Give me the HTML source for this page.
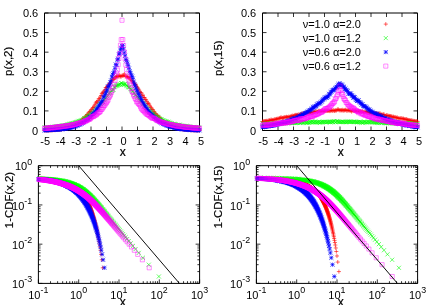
<!DOCTYPE html>
<html><head><meta charset="utf-8"><title>plot</title><style>html,body{margin:0;padding:0;background:#fff;overflow:hidden}body{width:436px;height:305px;position:relative;font-family:"Liberation Sans",sans-serif}</style></head><body>
<svg width="436" height="305" viewBox="0 0 436 305" style="display:block;position:absolute;left:0;top:0;will-change:transform" font-family="Liberation Sans, sans-serif" font-size="11" fill="#000">
<rect width="436" height="305" fill="#fff"/>
<path d="M44.5 13.0H199.5V130.5H44.5Z" stroke="#000" stroke-width="1.0" fill="none"/>
<path d="M44.50 130.5v-4.0M44.50 13.0v4.0M60.00 130.5v-4.0M60.00 13.0v4.0M75.50 130.5v-4.0M75.50 13.0v4.0M91.00 130.5v-4.0M91.00 13.0v4.0M106.50 130.5v-4.0M106.50 13.0v4.0M122.00 130.5v-4.0M122.00 13.0v4.0M137.50 130.5v-4.0M137.50 13.0v4.0M153.00 130.5v-4.0M153.00 13.0v4.0M168.50 130.5v-4.0M168.50 13.0v4.0M184.00 130.5v-4.0M184.00 13.0v4.0M199.50 130.5v-4.0M199.50 13.0v4.0M44.5 130.50h4.0M199.5 130.50h-4.0M44.5 110.92h4.0M199.5 110.92h-4.0M44.5 91.33h4.0M199.5 91.33h-4.0M44.5 71.75h4.0M199.5 71.75h-4.0M44.5 52.17h4.0M199.5 52.17h-4.0M44.5 32.58h4.0M199.5 32.58h-4.0M44.5 13.00h4.0M199.5 13.00h-4.0" stroke="#000" stroke-width="0.8" fill="none"/>
<path d="M42.45 130.39H46.55M44.50 128.34V132.44M43.23 130.38H47.32M45.27 128.33V132.43M44.00 130.38H48.10M46.05 128.33V132.43M44.78 130.37H48.88M46.83 128.32V132.42M45.55 130.34H49.65M47.60 128.29V132.39M46.33 130.34H50.42M48.38 128.29V132.39M47.10 130.29H51.20M49.15 128.24V132.34M47.88 130.18H51.97M49.92 128.13V132.23M48.65 130.25H52.75M50.70 128.20V132.30M49.43 130.21H53.52M51.48 128.16V132.26M50.20 130.13H54.30M52.25 128.08V132.18M50.98 130.09H55.07M53.02 128.04V132.14M51.75 130.07H55.85M53.80 128.02V132.12M52.53 130.07H56.62M54.58 128.02V132.12M53.30 129.94H57.40M55.35 127.89V131.99M54.08 129.86H58.17M56.12 127.81V131.91M54.85 129.92H58.95M56.90 127.87V131.97M55.62 129.77H59.72M57.67 127.72V131.82M56.40 129.82H60.50M58.45 127.77V131.87M57.18 129.68H61.27M59.23 127.63V131.73M57.95 129.64H62.05M60.00 127.59V131.69M58.73 129.39H62.82M60.77 127.34V131.44M59.50 129.39H63.60M61.55 127.34V131.44M60.28 129.12H64.38M62.33 127.07V131.17M61.05 128.98H65.15M63.10 126.93V131.03M61.83 128.84H65.92M63.88 126.79V130.89M62.60 129.00H66.70M64.65 126.95V131.05M63.38 128.56H67.47M65.42 126.51V130.61M64.15 128.35H68.25M66.20 126.30V130.40M64.92 128.13H69.02M66.97 126.08V130.18M65.70 128.17H69.80M67.75 126.12V130.22M66.47 127.75H70.57M68.52 125.70V129.80M67.25 127.59H71.35M69.30 125.54V129.64M68.02 127.26H72.12M70.07 125.21V129.31M68.80 126.66H72.90M70.85 124.61V128.71M69.58 126.67H73.67M71.62 124.62V128.72M70.35 126.22H74.45M72.40 124.17V128.27M71.12 125.74H75.22M73.17 123.69V127.79M71.90 125.61H76.00M73.95 123.56V127.66M72.67 125.13H76.77M74.72 123.08V127.18M73.45 124.67H77.55M75.50 122.62V126.72M74.23 124.20H78.33M76.28 122.15V126.25M75.00 124.03H79.10M77.05 121.98V126.08M75.78 123.17H79.88M77.83 121.12V125.22M76.55 122.36H80.65M78.60 120.31V124.41M77.33 122.48H81.42M79.38 120.43V124.53M78.10 121.31H82.20M80.15 119.26V123.36M78.88 120.85H82.98M80.93 118.80V122.90M79.65 120.43H83.75M81.70 118.38V122.48M80.42 119.03H84.52M82.47 116.98V121.08M81.20 118.70H85.30M83.25 116.65V120.75M81.98 118.59H86.08M84.03 116.54V120.64M82.75 117.44H86.85M84.80 115.39V119.49M83.53 116.38H87.62M85.58 114.33V118.43M84.30 115.86H88.40M86.35 113.81V117.91M85.08 114.52H89.17M87.12 112.47V116.57M85.85 114.08H89.95M87.90 112.03V116.13M86.63 112.81H90.73M88.68 110.76V114.86M87.40 111.72H91.50M89.45 109.67V113.77M88.18 111.39H92.28M90.23 109.34V113.44M88.95 110.11H93.05M91.00 108.06V112.16M89.73 109.40H93.83M91.78 107.35V111.45M90.50 108.12H94.60M92.55 106.07V110.17M91.28 107.44H95.38M93.33 105.39V109.49M92.05 106.08H96.15M94.10 104.03V108.13M92.83 104.87H96.92M94.88 102.82V106.92M93.60 103.07H97.70M95.65 101.02V105.12M94.38 101.97H98.48M96.43 99.92V104.02M95.15 102.09H99.25M97.20 100.04V104.14M95.92 100.68H100.02M97.97 98.63V102.73M96.70 98.77H100.80M98.75 96.72V100.82M97.48 98.85H101.58M99.53 96.80V100.90M98.25 97.05H102.35M100.30 95.00V99.10M99.02 95.54H103.12M101.07 93.49V97.59M99.80 93.42H103.90M101.85 91.37V95.47M100.58 92.90H104.67M102.62 90.85V94.95M101.35 92.21H105.45M103.40 90.16V94.26M102.13 90.99H106.23M104.18 88.94V93.04M102.90 89.81H107.00M104.95 87.76V91.86M103.67 87.56H107.77M105.72 85.51V89.61M104.45 87.71H108.55M106.50 85.66V89.76M105.23 86.79H109.33M107.28 84.74V88.84M106.00 85.36H110.10M108.05 83.31V87.41M106.78 84.30H110.88M108.83 82.25V86.35M107.55 83.49H111.65M109.60 81.44V85.54M108.33 83.19H112.42M110.38 81.14V85.24M109.10 81.59H113.20M111.15 79.54V83.64M109.88 80.93H113.97M111.92 78.88V82.98M110.65 79.33H114.75M112.70 77.28V81.38M111.42 78.86H115.52M113.47 76.81V80.91M112.20 78.84H116.30M114.25 76.79V80.89M112.97 77.68H117.07M115.02 75.63V79.73M113.75 77.58H117.85M115.80 75.53V79.63M114.53 76.28H118.62M116.58 74.23V78.33M115.30 76.59H119.40M117.35 74.54V78.64M116.08 75.76H120.17M118.12 73.71V77.81M116.85 76.79H120.95M118.90 74.74V78.84M117.62 75.29H121.72M119.67 73.24V77.34M118.40 76.46H122.50M120.45 74.41V78.51M119.17 76.50H123.27M121.22 74.45V78.55M119.95 75.62H124.05M122.00 73.57V77.67M120.73 75.78H124.83M122.78 73.73V77.83M121.50 75.36H125.60M123.55 73.31V77.41M122.28 74.04H126.38M124.33 71.99V76.09M123.05 76.28H127.15M125.10 74.23V78.33M123.83 76.44H127.92M125.88 74.39V78.49M124.60 76.41H128.70M126.65 74.36V78.46M125.37 76.65H129.47M127.42 74.60V78.70M126.15 77.40H130.25M128.20 75.35V79.45M126.93 77.91H131.03M128.98 75.86V79.96M127.70 78.18H131.80M129.75 76.13V80.23M128.47 79.02H132.57M130.52 76.97V81.07M129.25 80.61H133.35M131.30 78.56V82.66M130.02 80.90H134.12M132.07 78.85V82.95M130.80 81.46H134.90M132.85 79.41V83.51M131.57 83.24H135.68M133.62 81.19V85.29M132.35 83.26H136.45M134.40 81.21V85.31M133.12 84.89H137.23M135.18 82.84V86.94M133.90 84.84H138.00M135.95 82.79V86.89M134.67 86.37H138.78M136.72 84.32V88.42M135.45 87.43H139.55M137.50 85.38V89.48M136.22 88.95H140.32M138.27 86.90V91.00M137.00 89.93H141.10M139.05 87.88V91.98M137.77 92.02H141.88M139.82 89.97V94.07M138.55 92.48H142.65M140.60 90.43V94.53M139.32 92.93H143.43M141.38 90.88V94.98M140.10 95.46H144.20M142.15 93.41V97.51M140.88 95.04H144.98M142.93 92.99V97.09M141.65 97.55H145.75M143.70 95.50V99.60M142.43 97.48H146.53M144.48 95.43V99.53M143.20 99.40H147.30M145.25 97.35V101.45M143.97 99.82H148.08M146.03 97.77V101.87M144.75 101.27H148.85M146.80 99.22V103.32M145.52 103.34H149.62M147.57 101.29V105.39M146.30 103.18H150.40M148.35 101.13V105.23M147.07 104.13H151.18M149.12 102.08V106.18M147.85 105.90H151.95M149.90 103.85V107.95M148.62 107.16H152.73M150.68 105.11V109.21M149.40 108.14H153.50M151.45 106.09V110.19M150.18 109.50H154.28M152.23 107.45V111.55M150.95 109.79H155.05M153.00 107.74V111.84M151.72 111.42H155.82M153.77 109.37V113.47M152.50 112.17H156.60M154.55 110.12V114.22M153.28 113.46H157.38M155.33 111.41V115.51M154.05 114.35H158.15M156.10 112.30V116.40M154.82 115.39H158.93M156.88 113.34V117.44M155.60 115.45H159.70M157.65 113.40V117.50M156.38 116.77H160.48M158.43 114.72V118.82M157.15 117.11H161.25M159.20 115.06V119.16M157.92 118.16H162.03M159.97 116.11V120.21M158.70 119.09H162.80M160.75 117.04V121.14M159.47 119.66H163.58M161.53 117.61V121.71M160.25 120.45H164.35M162.30 118.40V122.50M161.02 120.92H165.12M163.07 118.87V122.97M161.80 121.67H165.90M163.85 119.62V123.72M162.57 122.32H166.68M164.62 120.27V124.37M163.35 122.99H167.45M165.40 120.94V125.04M164.12 123.47H168.22M166.17 121.42V125.52M164.90 123.37H169.00M166.95 121.32V125.42M165.68 124.35H169.78M167.73 122.30V126.40M166.45 124.91H170.55M168.50 122.86V126.96M167.22 125.00H171.33M169.28 122.95V127.05M168.00 125.23H172.10M170.05 123.18V127.28M168.77 126.15H172.88M170.82 124.10V128.20M169.55 126.22H173.65M171.60 124.17V128.27M170.32 126.69H174.43M172.38 124.64V128.74M171.10 127.19H175.20M173.15 125.14V129.24M171.87 127.04H175.97M173.92 124.99V129.09M172.65 127.41H176.75M174.70 125.36V129.46M173.42 127.69H177.53M175.47 125.64V129.74M174.20 128.00H178.30M176.25 125.95V130.05M174.97 128.05H179.08M177.03 126.00V130.10M175.75 128.40H179.85M177.80 126.35V130.45M176.52 128.51H180.62M178.57 126.46V130.56M177.30 128.81H181.40M179.35 126.76V130.86M178.07 128.96H182.18M180.12 126.91V131.01M178.85 128.87H182.95M180.90 126.82V130.92M179.62 129.17H183.73M181.68 127.12V131.22M180.40 129.25H184.50M182.45 127.20V131.30M181.17 129.39H185.28M183.22 127.34V131.44M181.95 129.53H186.05M184.00 127.48V131.58M182.72 129.62H186.83M184.78 127.57V131.67M183.50 129.63H187.60M185.55 127.58V131.68M184.28 129.79H188.38M186.33 127.74V131.84M185.05 129.84H189.15M187.10 127.79V131.89M185.82 129.90H189.93M187.88 127.85V131.95M186.60 129.88H190.70M188.65 127.83V131.93M187.37 129.96H191.47M189.42 127.91V132.01M188.15 130.04H192.25M190.20 127.99V132.09M188.92 130.15H193.03M190.97 128.10V132.20M189.70 130.24H193.80M191.75 128.19V132.29M190.47 130.13H194.58M192.53 128.08V132.18M191.25 130.18H195.35M193.30 128.13V132.23M192.03 130.26H196.13M194.08 128.21V132.31M192.80 130.26H196.90M194.85 128.21V132.31M193.57 130.27H197.68M195.62 128.22V132.32M194.35 130.30H198.45M196.40 128.25V132.35M195.12 130.32H199.23M197.18 128.27V132.37M195.90 130.37H200.00M197.95 128.32V132.42M196.67 130.33H200.78M198.72 128.28V132.38M197.45 130.43H201.55M199.50 128.38V132.48" stroke="#ff0000" stroke-width="0.6" fill="none"/>
<path d="M42.45 125.58L46.55 129.68M42.45 129.68L46.55 125.58M43.23 125.61L47.32 129.71M43.23 129.71L47.32 125.61M44.00 125.47L48.10 129.57M44.00 129.57L48.10 125.47M44.78 125.29L48.88 129.39M44.78 129.39L48.88 125.29M45.55 125.22L49.65 129.32M45.55 129.32L49.65 125.22M46.33 125.55L50.42 129.65M46.33 129.65L50.42 125.55M47.10 125.60L51.20 129.70M47.10 129.70L51.20 125.60M47.88 125.11L51.97 129.21M47.88 129.21L51.97 125.11M48.65 125.31L52.75 129.41M48.65 129.41L52.75 125.31M49.43 125.04L53.52 129.14M49.43 129.14L53.52 125.04M50.20 124.86L54.30 128.96M50.20 128.96L54.30 124.86M50.98 125.21L55.07 129.31M50.98 129.31L55.07 125.21M51.75 125.23L55.85 129.33M51.75 129.33L55.85 125.23M52.53 124.69L56.62 128.79M52.53 128.79L56.62 124.69M53.30 124.59L57.40 128.69M53.30 128.69L57.40 124.59M54.08 124.62L58.17 128.72M54.08 128.72L58.17 124.62M54.85 124.46L58.95 128.56M54.85 128.56L58.95 124.46M55.62 124.45L59.72 128.55M55.62 128.55L59.72 124.45M56.40 124.49L60.50 128.59M56.40 128.59L60.50 124.49M57.18 124.17L61.27 128.27M57.18 128.27L61.27 124.17M57.95 124.13L62.05 128.23M57.95 128.23L62.05 124.13M58.73 124.18L62.82 128.28M58.73 128.28L62.82 124.18M59.50 123.65L63.60 127.75M59.50 127.75L63.60 123.65M60.28 123.66L64.38 127.76M60.28 127.76L64.38 123.66M61.05 123.43L65.15 127.53M61.05 127.53L65.15 123.43M61.83 123.58L65.92 127.68M61.83 127.68L65.92 123.58M62.60 123.30L66.70 127.40M62.60 127.40L66.70 123.30M63.38 123.24L67.47 127.34M63.38 127.34L67.47 123.24M64.15 123.06L68.25 127.16M64.15 127.16L68.25 123.06M64.92 122.66L69.02 126.76M64.92 126.76L69.02 122.66M65.70 122.66L69.80 126.76M65.70 126.76L69.80 122.66M66.47 122.29L70.57 126.39M66.47 126.39L70.57 122.29M67.25 122.10L71.35 126.20M67.25 126.20L71.35 122.10M68.02 121.56L72.12 125.66M68.02 125.66L72.12 121.56M68.80 122.16L72.90 126.26M68.80 126.26L72.90 122.16M69.58 121.42L73.67 125.52M69.58 125.52L73.67 121.42M70.35 121.38L74.45 125.48M70.35 125.48L74.45 121.38M71.12 121.13L75.22 125.23M71.12 125.23L75.22 121.13M71.90 121.24L76.00 125.34M71.90 125.34L76.00 121.24M72.67 120.73L76.77 124.83M72.67 124.83L76.77 120.73M73.45 120.17L77.55 124.27M73.45 124.27L77.55 120.17M74.23 120.15L78.33 124.25M74.23 124.25L78.33 120.15M75.00 119.85L79.10 123.95M75.00 123.95L79.10 119.85M75.78 119.68L79.88 123.78M75.78 123.78L79.88 119.68M76.55 118.91L80.65 123.01M76.55 123.01L80.65 118.91M77.33 118.91L81.42 123.01M77.33 123.01L81.42 118.91M78.10 119.15L82.20 123.25M78.10 123.25L82.20 119.15M78.88 118.37L82.98 122.47M78.88 122.47L82.98 118.37M79.65 118.44L83.75 122.54M79.65 122.54L83.75 118.44M80.42 118.53L84.52 122.63M80.42 122.63L84.52 118.53M81.20 117.28L85.30 121.38M81.20 121.38L85.30 117.28M81.98 116.21L86.08 120.31M81.98 120.31L86.08 116.21M82.75 116.13L86.85 120.23M82.75 120.23L86.85 116.13M83.53 116.22L87.62 120.32M83.53 120.32L87.62 116.22M84.30 115.56L88.40 119.66M84.30 119.66L88.40 115.56M85.08 114.35L89.17 118.45M85.08 118.45L89.17 114.35M85.85 114.33L89.95 118.43M85.85 118.43L89.95 114.33M86.63 113.80L90.73 117.90M86.63 117.90L90.73 113.80M87.40 113.28L91.50 117.38M87.40 117.38L91.50 113.28M88.18 112.78L92.28 116.88M88.18 116.88L92.28 112.78M88.95 111.82L93.05 115.92M88.95 115.92L93.05 111.82M89.73 111.40L93.83 115.50M89.73 115.50L93.83 111.40M90.50 110.82L94.60 114.92M90.50 114.92L94.60 110.82M91.28 110.55L95.38 114.65M91.28 114.65L95.38 110.55M92.05 109.35L96.15 113.45M92.05 113.45L96.15 109.35M92.83 109.05L96.92 113.15M92.83 113.15L96.92 109.05M93.60 107.72L97.70 111.82M93.60 111.82L97.70 107.72M94.38 107.75L98.48 111.85M94.38 111.85L98.48 107.75M95.15 106.46L99.25 110.56M95.15 110.56L99.25 106.46M95.92 105.47L100.02 109.57M95.92 109.57L100.02 105.47M96.70 105.38L100.80 109.48M96.70 109.48L100.80 105.38M97.48 103.12L101.58 107.22M97.48 107.22L101.58 103.12M98.25 102.29L102.35 106.39M98.25 106.39L102.35 102.29M99.02 102.17L103.12 106.27M99.02 106.27L103.12 102.17M99.80 100.77L103.90 104.87M99.80 104.87L103.90 100.77M100.58 99.85L104.67 103.95M100.58 103.95L104.67 99.85M101.35 100.51L105.45 104.61M101.35 104.61L105.45 100.51M102.13 98.09L106.23 102.19M102.13 102.19L106.23 98.09M102.90 97.24L107.00 101.34M102.90 101.34L107.00 97.24M103.67 96.26L107.77 100.36M103.67 100.36L107.77 96.26M104.45 95.64L108.55 99.74M104.45 99.74L108.55 95.64M105.23 94.15L109.33 98.25M105.23 98.25L109.33 94.15M106.00 93.31L110.10 97.41M106.00 97.41L110.10 93.31M106.78 91.55L110.88 95.65M106.78 95.65L110.88 91.55M107.55 90.98L111.65 95.08M107.55 95.08L111.65 90.98M108.33 90.21L112.42 94.31M108.33 94.31L112.42 90.21M109.10 88.52L113.20 92.62M109.10 92.62L113.20 88.52M109.88 88.58L113.97 92.68M109.88 92.68L113.97 88.58M110.65 87.79L114.75 91.89M110.65 91.89L114.75 87.79M111.42 87.73L115.52 91.83M111.42 91.83L115.52 87.73M112.20 85.09L116.30 89.19M112.20 89.19L116.30 85.09M112.97 84.65L117.07 88.75M112.97 88.75L117.07 84.65M113.75 84.02L117.85 88.12M113.75 88.12L117.85 84.02M114.53 83.58L118.62 87.68M114.53 87.68L118.62 83.58M115.30 83.34L119.40 87.44M115.30 87.44L119.40 83.34M116.08 82.88L120.17 86.98M116.08 86.98L120.17 82.88M116.85 82.77L120.95 86.87M116.85 86.87L120.95 82.77M117.62 82.34L121.72 86.44M117.62 86.44L121.72 82.34M118.40 82.22L122.50 86.32M118.40 86.32L122.50 82.22M119.17 81.03L123.27 85.13M119.17 85.13L123.27 81.03M119.95 81.37L124.05 85.47M119.95 85.47L124.05 81.37M120.73 82.00L124.83 86.10M120.73 86.10L124.83 82.00M121.50 82.19L125.60 86.29M121.50 86.29L125.60 82.19M122.28 82.69L126.38 86.79M122.28 86.79L126.38 82.69M123.05 81.65L127.15 85.75M123.05 85.75L127.15 81.65M123.83 82.72L127.92 86.82M123.83 86.82L127.92 82.72M124.60 83.52L128.70 87.62M124.60 87.62L128.70 83.52M125.37 84.09L129.47 88.19M125.37 88.19L129.47 84.09M126.15 85.03L130.25 89.13M126.15 89.13L130.25 85.03M126.93 85.14L131.03 89.24M126.93 89.24L131.03 85.14M127.70 85.26L131.80 89.36M127.70 89.36L131.80 85.26M128.47 86.97L132.57 91.07M128.47 91.07L132.57 86.97M129.25 87.52L133.35 91.62M129.25 91.62L133.35 87.52M130.02 88.45L134.12 92.55M130.02 92.55L134.12 88.45M130.80 89.17L134.90 93.27M130.80 93.27L134.90 89.17M131.57 91.11L135.68 95.21M131.57 95.21L135.68 91.11M132.35 91.27L136.45 95.37M132.35 95.37L136.45 91.27M133.12 92.72L137.23 96.82M133.12 96.82L137.23 92.72M133.90 92.85L138.00 96.95M133.90 96.95L138.00 92.85M134.67 94.75L138.78 98.85M134.67 98.85L138.78 94.75M135.45 94.82L139.55 98.92M135.45 98.92L139.55 94.82M136.22 95.42L140.32 99.52M136.22 99.52L140.32 95.42M137.00 97.40L141.10 101.50M137.00 101.50L141.10 97.40M137.77 98.44L141.88 102.54M137.77 102.54L141.88 98.44M138.55 99.19L142.65 103.29M138.55 103.29L142.65 99.19M139.32 100.17L143.43 104.27M139.32 104.27L143.43 100.17M140.10 101.34L144.20 105.44M140.10 105.44L144.20 101.34M140.88 101.85L144.98 105.95M140.88 105.95L144.98 101.85M141.65 102.03L145.75 106.13M141.65 106.13L145.75 102.03M142.43 103.86L146.53 107.96M142.43 107.96L146.53 103.86M143.20 104.70L147.30 108.80M143.20 108.80L147.30 104.70M143.97 105.99L148.08 110.09M143.97 110.09L148.08 105.99M144.75 106.20L148.85 110.30M144.75 110.30L148.85 106.20M145.52 107.69L149.62 111.79M145.52 111.79L149.62 107.69M146.30 108.50L150.40 112.60M146.30 112.60L150.40 108.50M147.07 108.20L151.18 112.30M147.07 112.30L151.18 108.20M147.85 109.81L151.95 113.91M147.85 113.91L151.95 109.81M148.62 109.79L152.73 113.89M148.62 113.89L152.73 109.79M149.40 110.18L153.50 114.28M149.40 114.28L153.50 110.18M150.18 111.37L154.28 115.47M150.18 115.47L154.28 111.37M150.95 111.91L155.05 116.01M150.95 116.01L155.05 111.91M151.72 111.92L155.82 116.02M151.72 116.02L155.82 111.92M152.50 113.32L156.60 117.42M152.50 117.42L156.60 113.32M153.28 114.04L157.38 118.14M153.28 118.14L157.38 114.04M154.05 114.67L158.15 118.77M154.05 118.77L158.15 114.67M154.82 114.81L158.93 118.91M154.82 118.91L158.93 114.81M155.60 114.81L159.70 118.91M155.60 118.91L159.70 114.81M156.38 115.47L160.48 119.57M156.38 119.57L160.48 115.47M157.15 116.56L161.25 120.66M157.15 120.66L161.25 116.56M157.92 116.94L162.03 121.04M157.92 121.04L162.03 116.94M158.70 117.30L162.80 121.40M158.70 121.40L162.80 117.30M159.47 117.38L163.58 121.48M159.47 121.48L163.58 117.38M160.25 118.02L164.35 122.12M160.25 122.12L164.35 118.02M161.02 118.23L165.12 122.33M161.02 122.33L165.12 118.23M161.80 118.47L165.90 122.57M161.80 122.57L165.90 118.47M162.57 119.01L166.68 123.11M162.57 123.11L166.68 119.01M163.35 119.35L167.45 123.45M163.35 123.45L167.45 119.35M164.12 119.56L168.22 123.66M164.12 123.66L168.22 119.56M164.90 119.85L169.00 123.95M164.90 123.95L169.00 119.85M165.68 120.01L169.78 124.11M165.68 124.11L169.78 120.01M166.45 119.93L170.55 124.03M166.45 124.03L170.55 119.93M167.22 120.55L171.33 124.65M167.22 124.65L171.33 120.55M168.00 120.81L172.10 124.91M168.00 124.91L172.10 120.81M168.77 121.50L172.88 125.60M168.77 125.60L172.88 121.50M169.55 121.21L173.65 125.31M169.55 125.31L173.65 121.21M170.32 122.03L174.43 126.13M170.32 126.13L174.43 122.03M171.10 122.15L175.20 126.25M171.10 126.25L175.20 122.15M171.87 121.76L175.97 125.86M171.87 125.86L175.97 121.76M172.65 122.03L176.75 126.13M172.65 126.13L176.75 122.03M173.42 122.40L177.53 126.50M173.42 126.50L177.53 122.40M174.20 122.95L178.30 127.05M174.20 127.05L178.30 122.95M174.97 122.84L179.08 126.94M174.97 126.94L179.08 122.84M175.75 123.03L179.85 127.13M175.75 127.13L179.85 123.03M176.52 122.88L180.62 126.98M176.52 126.98L180.62 122.88M177.30 122.73L181.40 126.83M177.30 126.83L181.40 122.73M178.07 123.27L182.18 127.37M178.07 127.37L182.18 123.27M178.85 123.63L182.95 127.73M178.85 127.73L182.95 123.63M179.62 123.93L183.73 128.03M179.62 128.03L183.73 123.93M180.40 123.76L184.50 127.86M180.40 127.86L184.50 123.76M181.17 123.87L185.28 127.97M181.17 127.97L185.28 123.87M181.95 124.23L186.05 128.33M181.95 128.33L186.05 124.23M182.72 124.10L186.83 128.20M182.72 128.20L186.83 124.10M183.50 124.47L187.60 128.57M183.50 128.57L187.60 124.47M184.28 124.11L188.38 128.21M184.28 128.21L188.38 124.11M185.05 124.26L189.15 128.36M185.05 128.36L189.15 124.26M185.82 124.39L189.93 128.49M185.82 128.49L189.93 124.39M186.60 124.73L190.70 128.83M186.60 128.83L190.70 124.73M187.37 124.65L191.47 128.75M187.37 128.75L191.47 124.65M188.15 124.85L192.25 128.95M188.15 128.95L192.25 124.85M188.92 125.03L193.03 129.13M188.92 129.13L193.03 125.03M189.70 125.06L193.80 129.16M189.70 129.16L193.80 125.06M190.47 125.31L194.58 129.41M190.47 129.41L194.58 125.31M191.25 125.42L195.35 129.52M191.25 129.52L195.35 125.42M192.03 125.10L196.13 129.20M192.03 129.20L196.13 125.10M192.80 125.34L196.90 129.44M192.80 129.44L196.90 125.34M193.57 125.34L197.68 129.44M193.57 129.44L197.68 125.34M194.35 125.30L198.45 129.40M194.35 129.40L198.45 125.30M195.12 125.80L199.23 129.90M195.12 129.90L199.23 125.80M195.90 125.71L200.00 129.81M195.90 129.81L200.00 125.71M196.67 125.66L200.78 129.76M196.67 129.76L200.78 125.66M197.45 125.65L201.55 129.75M197.45 129.75L201.55 125.65" stroke="#00ff00" stroke-width="0.6" fill="none"/>
<path d="M42.45 130.23H46.55M44.50 128.18V132.28M42.45 128.18L46.55 132.28M42.45 132.28L46.55 128.18M43.23 130.15H47.32M45.27 128.10V132.20M43.23 128.10L47.32 132.20M43.23 132.20L47.32 128.10M44.00 130.16H48.10M46.05 128.11V132.21M44.00 128.11L48.10 132.21M44.00 132.21L48.10 128.11M44.78 130.21H48.88M46.83 128.16V132.26M44.78 128.16L48.88 132.26M44.78 132.26L48.88 128.16M45.55 130.17H49.65M47.60 128.12V132.22M45.55 128.12L49.65 132.22M45.55 132.22L49.65 128.12M46.33 130.05H50.42M48.38 128.00V132.10M46.33 128.00L50.42 132.10M46.33 132.10L50.42 128.00M47.10 130.04H51.20M49.15 127.99V132.09M47.10 127.99L51.20 132.09M47.10 132.09L51.20 127.99M47.88 130.14H51.97M49.92 128.09V132.19M47.88 128.09L51.97 132.19M47.88 132.19L51.97 128.09M48.65 129.89H52.75M50.70 127.84V131.94M48.65 127.84L52.75 131.94M48.65 131.94L52.75 127.84M49.43 129.92H53.52M51.48 127.87V131.97M49.43 127.87L53.52 131.97M49.43 131.97L53.52 127.87M50.20 129.83H54.30M52.25 127.78V131.88M50.20 127.78L54.30 131.88M50.20 131.88L54.30 127.78M50.98 129.90H55.07M53.02 127.85V131.95M50.98 127.85L55.07 131.95M50.98 131.95L55.07 127.85M51.75 129.84H55.85M53.80 127.79V131.89M51.75 127.79L55.85 131.89M51.75 131.89L55.85 127.79M52.53 129.87H56.62M54.58 127.82V131.92M52.53 127.82L56.62 131.92M52.53 131.92L56.62 127.82M53.30 129.51H57.40M55.35 127.46V131.56M53.30 127.46L57.40 131.56M53.30 131.56L57.40 127.46M54.08 129.67H58.17M56.12 127.62V131.72M54.08 127.62L58.17 131.72M54.08 131.72L58.17 127.62M54.85 129.44H58.95M56.90 127.39V131.49M54.85 127.39L58.95 131.49M54.85 131.49L58.95 127.39M55.62 129.59H59.72M57.67 127.54V131.64M55.62 127.54L59.72 131.64M55.62 131.64L59.72 127.54M56.40 129.43H60.50M58.45 127.38V131.48M56.40 127.38L60.50 131.48M56.40 131.48L60.50 127.38M57.18 129.54H61.27M59.23 127.49V131.59M57.18 127.49L61.27 131.59M57.18 131.59L61.27 127.49M57.95 129.34H62.05M60.00 127.29V131.39M57.95 127.29L62.05 131.39M57.95 131.39L62.05 127.29M58.73 129.15H62.82M60.77 127.10V131.20M58.73 127.10L62.82 131.20M58.73 131.20L62.82 127.10M59.50 129.26H63.60M61.55 127.21V131.31M59.50 127.21L63.60 131.31M59.50 131.31L63.60 127.21M60.28 128.90H64.38M62.33 126.85V130.95M60.28 126.85L64.38 130.95M60.28 130.95L64.38 126.85M61.05 128.91H65.15M63.10 126.86V130.96M61.05 126.86L65.15 130.96M61.05 130.96L65.15 126.86M61.83 128.93H65.92M63.88 126.88V130.98M61.83 126.88L65.92 130.98M61.83 130.98L65.92 126.88M62.60 128.75H66.70M64.65 126.70V130.80M62.60 126.70L66.70 130.80M62.60 130.80L66.70 126.70M63.38 128.63H67.47M65.42 126.58V130.68M63.38 126.58L67.47 130.68M63.38 130.68L67.47 126.58M64.15 128.43H68.25M66.20 126.38V130.48M64.15 126.38L68.25 130.48M64.15 130.48L68.25 126.38M64.92 128.39H69.02M66.97 126.34V130.44M64.92 126.34L69.02 130.44M64.92 130.44L69.02 126.34M65.70 128.28H69.80M67.75 126.23V130.33M65.70 126.23L69.80 130.33M65.70 130.33L69.80 126.23M66.47 128.01H70.57M68.52 125.96V130.06M66.47 125.96L70.57 130.06M66.47 130.06L70.57 125.96M67.25 128.03H71.35M69.30 125.98V130.08M67.25 125.98L71.35 130.08M67.25 130.08L71.35 125.98M68.02 127.87H72.12M70.07 125.82V129.92M68.02 125.82L72.12 129.92M68.02 129.92L72.12 125.82M68.80 127.41H72.90M70.85 125.36V129.46M68.80 125.36L72.90 129.46M68.80 129.46L72.90 125.36M69.58 127.14H73.67M71.62 125.09V129.19M69.58 125.09L73.67 129.19M69.58 129.19L73.67 125.09M70.35 127.27H74.45M72.40 125.22V129.32M70.35 125.22L74.45 129.32M70.35 129.32L74.45 125.22M71.12 126.82H75.22M73.17 124.77V128.87M71.12 124.77L75.22 128.87M71.12 128.87L75.22 124.77M71.90 126.67H76.00M73.95 124.62V128.72M71.90 124.62L76.00 128.72M71.90 128.72L76.00 124.62M72.67 126.45H76.77M74.72 124.40V128.50M72.67 124.40L76.77 128.50M72.67 128.50L76.77 124.40M73.45 125.90H77.55M75.50 123.85V127.95M73.45 123.85L77.55 127.95M73.45 127.95L77.55 123.85M74.23 125.86H78.33M76.28 123.81V127.91M74.23 123.81L78.33 127.91M74.23 127.91L78.33 123.81M75.00 125.21H79.10M77.05 123.16V127.26M75.00 123.16L79.10 127.26M75.00 127.26L79.10 123.16M75.78 125.34H79.88M77.83 123.29V127.39M75.78 123.29L79.88 127.39M75.78 127.39L79.88 123.29M76.55 124.75H80.65M78.60 122.70V126.80M76.55 122.70L80.65 126.80M76.55 126.80L80.65 122.70M77.33 124.51H81.42M79.38 122.46V126.56M77.33 122.46L81.42 126.56M77.33 126.56L81.42 122.46M78.10 124.27H82.20M80.15 122.22V126.32M78.10 122.22L82.20 126.32M78.10 126.32L82.20 122.22M78.88 123.52H82.98M80.93 121.47V125.57M78.88 121.47L82.98 125.57M78.88 125.57L82.98 121.47M79.65 123.34H83.75M81.70 121.29V125.39M79.65 121.29L83.75 125.39M79.65 125.39L83.75 121.29M80.42 122.61H84.52M82.47 120.56V124.66M80.42 120.56L84.52 124.66M80.42 124.66L84.52 120.56M81.20 122.46H85.30M83.25 120.41V124.51M81.20 120.41L85.30 124.51M81.20 124.51L85.30 120.41M81.98 122.05H86.08M84.03 120.00V124.10M81.98 120.00L86.08 124.10M81.98 124.10L86.08 120.00M82.75 121.32H86.85M84.80 119.27V123.37M82.75 119.27L86.85 123.37M82.75 123.37L86.85 119.27M83.53 120.81H87.62M85.58 118.76V122.86M83.53 118.76L87.62 122.86M83.53 122.86L87.62 118.76M84.30 119.96H88.40M86.35 117.91V122.01M84.30 117.91L88.40 122.01M84.30 122.01L88.40 117.91M85.08 119.94H89.17M87.12 117.89V121.99M85.08 117.89L89.17 121.99M85.08 121.99L89.17 117.89M85.85 118.92H89.95M87.90 116.87V120.97M85.85 116.87L89.95 120.97M85.85 120.97L89.95 116.87M86.63 118.83H90.73M88.68 116.78V120.88M86.63 116.78L90.73 120.88M86.63 120.88L90.73 116.78M87.40 117.46H91.50M89.45 115.41V119.51M87.40 115.41L91.50 119.51M87.40 119.51L91.50 115.41M88.18 117.20H92.28M90.23 115.15V119.25M88.18 115.15L92.28 119.25M88.18 119.25L92.28 115.15M88.95 116.72H93.05M91.00 114.67V118.77M88.95 114.67L93.05 118.77M88.95 118.77L93.05 114.67M89.73 115.40H93.83M91.78 113.35V117.45M89.73 113.35L93.83 117.45M89.73 117.45L93.83 113.35M90.50 114.13H94.60M92.55 112.08V116.18M90.50 112.08L94.60 116.18M90.50 116.18L94.60 112.08M91.28 114.18H95.38M93.33 112.13V116.23M91.28 112.13L95.38 116.23M91.28 116.23L95.38 112.13M92.05 113.20H96.15M94.10 111.15V115.25M92.05 111.15L96.15 115.25M92.05 115.25L96.15 111.15M92.83 112.00H96.92M94.88 109.95V114.05M92.83 109.95L96.92 114.05M92.83 114.05L96.92 109.95M93.60 111.19H97.70M95.65 109.14V113.24M93.60 109.14L97.70 113.24M93.60 113.24L97.70 109.14M94.38 109.46H98.48M96.43 107.41V111.51M94.38 107.41L98.48 111.51M94.38 111.51L98.48 107.41M95.15 108.93H99.25M97.20 106.88V110.98M95.15 106.88L99.25 110.98M95.15 110.98L99.25 106.88M95.92 107.66H100.02M97.97 105.61V109.71M95.92 105.61L100.02 109.71M95.92 109.71L100.02 105.61M96.70 106.00H100.80M98.75 103.95V108.05M96.70 103.95L100.80 108.05M96.70 108.05L100.80 103.95M97.48 105.38H101.58M99.53 103.33V107.43M97.48 103.33L101.58 107.43M97.48 107.43L101.58 103.33M98.25 103.49H102.35M100.30 101.44V105.54M98.25 101.44L102.35 105.54M98.25 105.54L102.35 101.44M99.02 102.81H103.12M101.07 100.76V104.86M99.02 100.76L103.12 104.86M99.02 104.86L103.12 100.76M99.80 101.43H103.90M101.85 99.38V103.48M99.80 99.38L103.90 103.48M99.80 103.48L103.90 99.38M100.58 100.50H104.67M102.62 98.45V102.55M100.58 98.45L104.67 102.55M100.58 102.55L104.67 98.45M101.35 96.93H105.45M103.40 94.88V98.98M101.35 94.88L105.45 98.98M101.35 98.98L105.45 94.88M102.13 96.74H106.23M104.18 94.69V98.79M102.13 94.69L106.23 98.79M102.13 98.79L106.23 94.69M102.90 94.70H107.00M104.95 92.65V96.75M102.90 92.65L107.00 96.75M102.90 96.75L107.00 92.65M103.67 93.02H107.77M105.72 90.97V95.07M103.67 90.97L107.77 95.07M103.67 95.07L107.77 90.97M104.45 91.11H108.55M106.50 89.06V93.16M104.45 89.06L108.55 93.16M104.45 93.16L108.55 89.06M105.23 89.74H109.33M107.28 87.69V91.79M105.23 87.69L109.33 91.79M105.23 91.79L109.33 87.69M106.00 86.62H110.10M108.05 84.57V88.67M106.00 84.57L110.10 88.67M106.00 88.67L110.10 84.57M106.78 86.33H110.88M108.83 84.28V88.38M106.78 84.28L110.88 88.38M106.78 88.38L110.88 84.28M107.55 84.68H111.65M109.60 82.63V86.73M107.55 82.63L111.65 86.73M107.55 86.73L111.65 82.63M108.33 82.25H112.42M110.38 80.20V84.30M108.33 80.20L112.42 84.30M108.33 84.30L112.42 80.20M109.10 80.52H113.20M111.15 78.47V82.57M109.10 78.47L113.20 82.57M109.10 82.57L113.20 78.47M109.88 77.00H113.97M111.92 74.95V79.05M109.88 74.95L113.97 79.05M109.88 79.05L113.97 74.95M110.65 74.75H114.75M112.70 72.70V76.80M110.65 72.70L114.75 76.80M110.65 76.80L114.75 72.70M111.42 73.50H115.52M113.47 71.45V75.55M111.42 71.45L115.52 75.55M111.42 75.55L115.52 71.45M112.20 71.62H116.30M114.25 69.57V73.67M112.20 69.57L116.30 73.67M112.20 73.67L116.30 69.57M112.97 68.38H117.07M115.02 66.33V70.43M112.97 66.33L117.07 70.43M112.97 70.43L117.07 66.33M113.75 64.52H117.85M115.80 62.47V66.57M113.75 62.47L117.85 66.57M113.75 66.57L117.85 62.47M114.53 65.02H118.62M116.58 62.97V67.07M114.53 62.97L118.62 67.07M114.53 67.07L118.62 62.97M115.30 59.98H119.40M117.35 57.93V62.03M115.30 57.93L119.40 62.03M115.30 62.03L119.40 57.93M116.08 58.84H120.17M118.12 56.79V60.89M116.08 56.79L120.17 60.89M116.08 60.89L120.17 56.79M116.85 54.25H120.95M118.90 52.20V56.30M116.85 52.20L120.95 56.30M116.85 56.30L120.95 52.20M117.62 53.21H121.72M119.67 51.16V55.26M117.62 51.16L121.72 55.26M117.62 55.26L121.72 51.16M118.40 49.83H122.50M120.45 47.78V51.88M118.40 47.78L122.50 51.88M118.40 51.88L122.50 47.78M119.17 48.02H123.27M121.22 45.97V50.07M119.17 45.97L123.27 50.07M119.17 50.07L123.27 45.97M119.95 46.02H124.05M122.00 43.97V48.07M119.95 43.97L124.05 48.07M119.95 48.07L124.05 43.97M120.73 45.48H124.83M122.78 43.43V47.53M120.73 43.43L124.83 47.53M120.73 47.53L124.83 43.43M121.50 49.03H125.60M123.55 46.98V51.08M121.50 46.98L125.60 51.08M121.50 51.08L125.60 46.98M122.28 52.73H126.38M124.33 50.68V54.78M122.28 50.68L126.38 54.78M122.28 54.78L126.38 50.68M123.05 55.82H127.15M125.10 53.77V57.87M123.05 53.77L127.15 57.87M123.05 57.87L127.15 53.77M123.83 59.40H127.92M125.88 57.35V61.45M123.83 57.35L127.92 61.45M123.83 61.45L127.92 57.35M124.60 60.64H128.70M126.65 58.59V62.69M124.60 58.59L128.70 62.69M124.60 62.69L128.70 58.59M125.37 63.26H129.47M127.42 61.21V65.31M125.37 61.21L129.47 65.31M125.37 65.31L129.47 61.21M126.15 65.54H130.25M128.20 63.49V67.59M126.15 63.49L130.25 67.59M126.15 67.59L130.25 63.49M126.93 68.41H131.03M128.98 66.36V70.46M126.93 66.36L131.03 70.46M126.93 70.46L131.03 66.36M127.70 71.35H131.80M129.75 69.30V73.40M127.70 69.30L131.80 73.40M127.70 73.40L131.80 69.30M128.47 72.97H132.57M130.52 70.92V75.02M128.47 70.92L132.57 75.02M128.47 75.02L132.57 70.92M129.25 75.10H133.35M131.30 73.05V77.15M129.25 73.05L133.35 77.15M129.25 77.15L133.35 73.05M130.02 76.55H134.12M132.07 74.50V78.60M130.02 74.50L134.12 78.60M130.02 78.60L134.12 74.50M130.80 78.60H134.90M132.85 76.55V80.65M130.80 76.55L134.90 80.65M130.80 80.65L134.90 76.55M131.57 81.79H135.68M133.62 79.74V83.84M131.57 79.74L135.68 83.84M131.57 83.84L135.68 79.74M132.35 84.07H136.45M134.40 82.02V86.12M132.35 82.02L136.45 86.12M132.35 86.12L136.45 82.02M133.12 85.86H137.23M135.18 83.81V87.91M133.12 83.81L137.23 87.91M133.12 87.91L137.23 83.81M133.90 88.12H138.00M135.95 86.07V90.17M133.90 86.07L138.00 90.17M133.90 90.17L138.00 86.07M134.67 90.09H138.78M136.72 88.04V92.14M134.67 88.04L138.78 92.14M134.67 92.14L138.78 88.04M135.45 91.29H139.55M137.50 89.24V93.34M135.45 89.24L139.55 93.34M135.45 93.34L139.55 89.24M136.22 93.66H140.32M138.27 91.61V95.71M136.22 91.61L140.32 95.71M136.22 95.71L140.32 91.61M137.00 94.58H141.10M139.05 92.53V96.63M137.00 92.53L141.10 96.63M137.00 96.63L141.10 92.53M137.77 96.46H141.88M139.82 94.41V98.51M137.77 94.41L141.88 98.51M137.77 98.51L141.88 94.41M138.55 97.88H142.65M140.60 95.83V99.93M138.55 95.83L142.65 99.93M138.55 99.93L142.65 95.83M139.32 99.58H143.43M141.38 97.53V101.63M139.32 97.53L143.43 101.63M139.32 101.63L143.43 97.53M140.10 101.24H144.20M142.15 99.19V103.29M140.10 99.19L144.20 103.29M140.10 103.29L144.20 99.19M140.88 102.75H144.98M142.93 100.70V104.80M140.88 100.70L144.98 104.80M140.88 104.80L144.98 100.70M141.65 103.75H145.75M143.70 101.70V105.80M141.65 101.70L145.75 105.80M141.65 105.80L145.75 101.70M142.43 105.22H146.53M144.48 103.17V107.27M142.43 103.17L146.53 107.27M142.43 107.27L146.53 103.17M143.20 106.19H147.30M145.25 104.14V108.24M143.20 104.14L147.30 108.24M143.20 108.24L147.30 104.14M143.97 107.40H148.08M146.03 105.35V109.45M143.97 105.35L148.08 109.45M143.97 109.45L148.08 105.35M144.75 109.15H148.85M146.80 107.10V111.20M144.75 107.10L148.85 111.20M144.75 111.20L148.85 107.10M145.52 109.62H149.62M147.57 107.57V111.67M145.52 107.57L149.62 111.67M145.52 111.67L149.62 107.57M146.30 111.34H150.40M148.35 109.29V113.39M146.30 109.29L150.40 113.39M146.30 113.39L150.40 109.29M147.07 111.97H151.18M149.12 109.92V114.02M147.07 109.92L151.18 114.02M147.07 114.02L151.18 109.92M147.85 112.81H151.95M149.90 110.76V114.86M147.85 110.76L151.95 114.86M147.85 114.86L151.95 110.76M148.62 114.35H152.73M150.68 112.30V116.40M148.62 112.30L152.73 116.40M148.62 116.40L152.73 112.30M149.40 114.47H153.50M151.45 112.42V116.52M149.40 112.42L153.50 116.52M149.40 116.52L153.50 112.42M150.18 115.20H154.28M152.23 113.15V117.25M150.18 113.15L154.28 117.25M150.18 117.25L154.28 113.15M150.95 116.22H155.05M153.00 114.17V118.27M150.95 114.17L155.05 118.27M150.95 118.27L155.05 114.17M151.72 117.01H155.82M153.77 114.96V119.06M151.72 114.96L155.82 119.06M151.72 119.06L155.82 114.96M152.50 117.69H156.60M154.55 115.64V119.74M152.50 115.64L156.60 119.74M152.50 119.74L156.60 115.64M153.28 118.57H157.38M155.33 116.52V120.62M153.28 116.52L157.38 120.62M153.28 120.62L157.38 116.52M154.05 119.09H158.15M156.10 117.04V121.14M154.05 117.04L158.15 121.14M154.05 121.14L158.15 117.04M154.82 119.78H158.93M156.88 117.73V121.83M154.82 117.73L158.93 121.83M154.82 121.83L158.93 117.73M155.60 120.24H159.70M157.65 118.19V122.29M155.60 118.19L159.70 122.29M155.60 122.29L159.70 118.19M156.38 121.09H160.48M158.43 119.04V123.14M156.38 119.04L160.48 123.14M156.38 123.14L160.48 119.04M157.15 121.26H161.25M159.20 119.21V123.31M157.15 119.21L161.25 123.31M157.15 123.31L161.25 119.21M157.92 121.79H162.03M159.97 119.74V123.84M157.92 119.74L162.03 123.84M157.92 123.84L162.03 119.74M158.70 122.42H162.80M160.75 120.37V124.47M158.70 120.37L162.80 124.47M158.70 124.47L162.80 120.37M159.47 122.93H163.58M161.53 120.88V124.98M159.47 120.88L163.58 124.98M159.47 124.98L163.58 120.88M160.25 123.14H164.35M162.30 121.09V125.19M160.25 121.09L164.35 125.19M160.25 125.19L164.35 121.09M161.02 124.09H165.12M163.07 122.04V126.14M161.02 122.04L165.12 126.14M161.02 126.14L165.12 122.04M161.80 123.96H165.90M163.85 121.91V126.01M161.80 121.91L165.90 126.01M161.80 126.01L165.90 121.91M162.57 124.30H166.68M164.62 122.25V126.35M162.57 122.25L166.68 126.35M162.57 126.35L166.68 122.25M163.35 124.71H167.45M165.40 122.66V126.76M163.35 122.66L167.45 126.76M163.35 126.76L167.45 122.66M164.12 124.98H168.22M166.17 122.93V127.03M164.12 122.93L168.22 127.03M164.12 127.03L168.22 122.93M164.90 125.58H169.00M166.95 123.53V127.63M164.90 123.53L169.00 127.63M164.90 127.63L169.00 123.53M165.68 125.85H169.78M167.73 123.80V127.90M165.68 123.80L169.78 127.90M165.68 127.90L169.78 123.80M166.45 125.94H170.55M168.50 123.89V127.99M166.45 123.89L170.55 127.99M166.45 127.99L170.55 123.89M167.22 126.23H171.33M169.28 124.18V128.28M167.22 124.18L171.33 128.28M167.22 128.28L171.33 124.18M168.00 126.55H172.10M170.05 124.50V128.60M168.00 124.50L172.10 128.60M168.00 128.60L172.10 124.50M168.77 127.09H172.88M170.82 125.04V129.14M168.77 125.04L172.88 129.14M168.77 129.14L172.88 125.04M169.55 126.99H173.65M171.60 124.94V129.04M169.55 124.94L173.65 129.04M169.55 129.04L173.65 124.94M170.32 127.08H174.43M172.38 125.03V129.13M170.32 125.03L174.43 129.13M170.32 129.13L174.43 125.03M171.10 127.27H175.20M173.15 125.22V129.32M171.10 125.22L175.20 129.32M171.10 129.32L175.20 125.22M171.87 127.59H175.97M173.92 125.54V129.64M171.87 125.54L175.97 129.64M171.87 129.64L175.97 125.54M172.65 128.06H176.75M174.70 126.01V130.11M172.65 126.01L176.75 130.11M172.65 130.11L176.75 126.01M173.42 127.90H177.53M175.47 125.85V129.95M173.42 125.85L177.53 129.95M173.42 129.95L177.53 125.85M174.20 128.17H178.30M176.25 126.12V130.22M174.20 126.12L178.30 130.22M174.20 130.22L178.30 126.12M174.97 128.61H179.08M177.03 126.56V130.66M174.97 126.56L179.08 130.66M174.97 130.66L179.08 126.56M175.75 128.40H179.85M177.80 126.35V130.45M175.75 126.35L179.85 130.45M175.75 130.45L179.85 126.35M176.52 128.74H180.62M178.57 126.69V130.79M176.52 126.69L180.62 130.79M176.52 130.79L180.62 126.69M177.30 128.85H181.40M179.35 126.80V130.90M177.30 126.80L181.40 130.90M177.30 130.90L181.40 126.80M178.07 128.87H182.18M180.12 126.82V130.92M178.07 126.82L182.18 130.92M178.07 130.92L182.18 126.82M178.85 128.80H182.95M180.90 126.75V130.85M178.85 126.75L182.95 130.85M178.85 130.85L182.95 126.75M179.62 129.05H183.73M181.68 127.00V131.10M179.62 127.00L183.73 131.10M179.62 131.10L183.73 127.00M180.40 129.12H184.50M182.45 127.07V131.17M180.40 127.07L184.50 131.17M180.40 131.17L184.50 127.07M181.17 129.06H185.28M183.22 127.01V131.11M181.17 127.01L185.28 131.11M181.17 131.11L185.28 127.01M181.95 129.14H186.05M184.00 127.09V131.19M181.95 127.09L186.05 131.19M181.95 131.19L186.05 127.09M182.72 129.38H186.83M184.78 127.33V131.43M182.72 127.33L186.83 131.43M182.72 131.43L186.83 127.33M183.50 129.49H187.60M185.55 127.44V131.54M183.50 127.44L187.60 131.54M183.50 131.54L187.60 127.44M184.28 129.66H188.38M186.33 127.61V131.71M184.28 127.61L188.38 131.71M184.28 131.71L188.38 127.61M185.05 129.66H189.15M187.10 127.61V131.71M185.05 127.61L189.15 131.71M185.05 131.71L189.15 127.61M185.82 129.61H189.93M187.88 127.56V131.66M185.82 127.56L189.93 131.66M185.82 131.66L189.93 127.56M186.60 129.67H190.70M188.65 127.62V131.72M186.60 127.62L190.70 131.72M186.60 131.72L190.70 127.62M187.37 129.76H191.47M189.42 127.71V131.81M187.37 127.71L191.47 131.81M187.37 131.81L191.47 127.71M188.15 129.75H192.25M190.20 127.70V131.80M188.15 127.70L192.25 131.80M188.15 131.80L192.25 127.70M188.92 129.92H193.03M190.97 127.87V131.97M188.92 127.87L193.03 131.97M188.92 131.97L193.03 127.87M189.70 129.92H193.80M191.75 127.87V131.97M189.70 127.87L193.80 131.97M189.70 131.97L193.80 127.87M190.47 129.90H194.58M192.53 127.85V131.95M190.47 127.85L194.58 131.95M190.47 131.95L194.58 127.85M191.25 129.96H195.35M193.30 127.91V132.01M191.25 127.91L195.35 132.01M191.25 132.01L195.35 127.91M192.03 129.97H196.13M194.08 127.92V132.02M192.03 127.92L196.13 132.02M192.03 132.02L196.13 127.92M192.80 130.05H196.90M194.85 128.00V132.10M192.80 128.00L196.90 132.10M192.80 132.10L196.90 128.00M193.57 130.12H197.68M195.62 128.07V132.17M193.57 128.07L197.68 132.17M193.57 132.17L197.68 128.07M194.35 130.11H198.45M196.40 128.06V132.16M194.35 128.06L198.45 132.16M194.35 132.16L198.45 128.06M195.12 130.20H199.23M197.18 128.15V132.25M195.12 128.15L199.23 132.25M195.12 132.25L199.23 128.15M195.90 130.26H200.00M197.95 128.21V132.31M195.90 128.21L200.00 132.31M195.90 132.31L200.00 128.21M196.67 130.17H200.78M198.72 128.12V132.22M196.67 128.12L200.78 132.22M196.67 132.22L200.78 128.12M197.45 130.22H201.55M199.50 128.17V132.27M197.45 128.17L201.55 132.27M197.45 132.27L201.55 128.17" stroke="#0000ff" stroke-width="0.68" fill="none"/>
<path d="M42.45 126.16H46.55V130.26H42.45ZM44.20 128.21h0.6M43.23 126.37H47.32V130.47H43.23ZM44.98 128.42h0.6M44.00 126.15H48.10V130.25H44.00ZM45.75 128.20h0.6M44.78 126.10H48.88V130.20H44.78ZM46.53 128.15h0.6M45.55 126.10H49.65V130.20H45.55ZM47.30 128.15h0.6M46.33 126.24H50.42V130.34H46.33ZM48.08 128.29h0.6M47.10 125.89H51.20V129.99H47.10ZM48.85 127.94h0.6M47.88 125.64H51.97V129.74H47.88ZM49.62 127.69h0.6M48.65 125.65H52.75V129.75H48.65ZM50.40 127.70h0.6M49.43 125.75H53.52V129.85H49.43ZM51.18 127.80h0.6M50.20 125.59H54.30V129.69H50.20ZM51.95 127.64h0.6M50.98 125.39H55.07V129.49H50.98ZM52.73 127.44h0.6M51.75 125.89H55.85V129.99H51.75ZM53.50 127.94h0.6M52.53 125.42H56.62V129.52H52.53ZM54.28 127.47h0.6M53.30 125.24H57.40V129.34H53.30ZM55.05 127.29h0.6M54.08 125.14H58.17V129.24H54.08ZM55.83 127.19h0.6M54.85 124.89H58.95V128.99H54.85ZM56.60 126.94h0.6M55.62 124.93H59.72V129.03H55.62ZM57.38 126.98h0.6M56.40 124.91H60.50V129.01H56.40ZM58.15 126.96h0.6M57.18 124.84H61.27V128.94H57.18ZM58.93 126.89h0.6M57.95 124.75H62.05V128.85H57.95ZM59.70 126.80h0.6M58.73 124.79H62.82V128.89H58.73ZM60.48 126.84h0.6M59.50 124.64H63.60V128.74H59.50ZM61.25 126.69h0.6M60.28 124.39H64.38V128.49H60.28ZM62.03 126.44h0.6M61.05 124.08H65.15V128.18H61.05ZM62.80 126.13h0.6M61.83 124.32H65.92V128.42H61.83ZM63.58 126.37h0.6M62.60 124.22H66.70V128.32H62.60ZM64.35 126.27h0.6M63.38 124.06H67.47V128.16H63.38ZM65.12 126.11h0.6M64.15 123.68H68.25V127.78H64.15ZM65.90 125.73h0.6M64.92 123.90H69.02V128.00H64.92ZM66.67 125.95h0.6M65.70 123.43H69.80V127.53H65.70ZM67.45 125.48h0.6M66.47 123.79H70.57V127.89H66.47ZM68.22 125.84h0.6M67.25 123.48H71.35V127.58H67.25ZM69.00 125.53h0.6M68.02 123.37H72.12V127.47H68.02ZM69.77 125.42h0.6M68.80 123.01H72.90V127.11H68.80ZM70.55 125.06h0.6M69.58 122.78H73.67V126.88H69.58ZM71.33 124.83h0.6M70.35 123.21H74.45V127.31H70.35ZM72.10 125.26h0.6M71.12 122.89H75.22V126.99H71.12ZM72.88 124.94h0.6M71.90 122.45H76.00V126.55H71.90ZM73.65 124.50h0.6M72.67 122.42H76.77V126.52H72.67ZM74.42 124.47h0.6M73.45 122.43H77.55V126.53H73.45ZM75.20 124.48h0.6M74.23 121.72H78.33V125.82H74.23ZM75.98 123.77h0.6M75.00 121.67H79.10V125.77H75.00ZM76.75 123.72h0.6M75.78 121.35H79.88V125.45H75.78ZM77.53 123.40h0.6M76.55 121.36H80.65V125.46H76.55ZM78.30 123.41h0.6M77.33 120.84H81.42V124.94H77.33ZM79.08 122.89h0.6M78.10 120.95H82.20V125.05H78.10ZM79.85 123.00h0.6M78.88 120.33H82.98V124.43H78.88ZM80.63 122.38h0.6M79.65 120.61H83.75V124.71H79.65ZM81.40 122.66h0.6M80.42 120.29H84.52V124.39H80.42ZM82.17 122.34h0.6M81.20 119.70H85.30V123.80H81.20ZM82.95 121.75h0.6M81.98 119.67H86.08V123.77H81.98ZM83.73 121.72h0.6M82.75 118.96H86.85V123.06H82.75ZM84.50 121.01h0.6M83.53 118.66H87.62V122.76H83.53ZM85.28 120.71h0.6M84.30 118.82H88.40V122.92H84.30ZM86.05 120.87h0.6M85.08 118.15H89.17V122.25H85.08ZM86.83 120.20h0.6M85.85 117.91H89.95V122.01H85.85ZM87.60 119.96h0.6M86.63 117.26H90.73V121.36H86.63ZM88.38 119.31h0.6M87.40 117.15H91.50V121.25H87.40ZM89.15 119.20h0.6M88.18 116.69H92.28V120.79H88.18ZM89.93 118.74h0.6M88.95 115.78H93.05V119.88H88.95ZM90.70 117.83h0.6M89.73 114.88H93.83V118.98H89.73ZM91.48 116.93h0.6M90.50 114.42H94.60V118.52H90.50ZM92.25 116.47h0.6M91.28 114.62H95.38V118.72H91.28ZM93.03 116.67h0.6M92.05 114.01H96.15V118.11H92.05ZM93.80 116.06h0.6M92.83 113.12H96.92V117.22H92.83ZM94.58 115.17h0.6M93.60 112.99H97.70V117.09H93.60ZM95.35 115.04h0.6M94.38 112.68H98.48V116.78H94.38ZM96.13 114.73h0.6M95.15 111.60H99.25V115.70H95.15ZM96.90 113.65h0.6M95.92 110.80H100.02V114.90H95.92ZM97.67 112.85h0.6M96.70 110.56H100.80V114.66H96.70ZM98.45 112.61h0.6M97.48 109.98H101.58V114.08H97.48ZM99.23 112.03h0.6M98.25 109.26H102.35V113.36H98.25ZM100.00 111.31h0.6M99.02 107.53H103.12V111.63H99.02ZM100.77 109.58h0.6M99.80 107.32H103.90V111.42H99.80ZM101.55 109.37h0.6M100.58 106.01H104.67V110.11H100.58ZM102.33 108.06h0.6M101.35 104.93H105.45V109.03H101.35ZM103.10 106.98h0.6M102.13 103.44H106.23V107.54H102.13ZM103.88 105.49h0.6M102.90 102.95H107.00V107.05H102.90ZM104.65 105.00h0.6M103.67 101.23H107.77V105.33H103.67ZM105.42 103.28h0.6M104.45 100.58H108.55V104.68H104.45ZM106.20 102.63h0.6M105.23 99.14H109.33V103.24H105.23ZM106.98 101.19h0.6M106.00 98.03H110.10V102.13H106.00ZM107.75 100.08h0.6M106.78 95.42H110.88V99.52H106.78ZM108.53 97.47h0.6M107.55 94.16H111.65V98.26H107.55ZM109.30 96.21h0.6M108.33 92.86H112.42V96.96H108.33ZM110.08 94.91h0.6M109.10 90.66H113.20V94.76H109.10ZM110.85 92.71h0.6M109.88 88.73H113.97V92.83H109.88ZM111.62 90.78h0.6M110.65 85.78H114.75V89.88H110.65ZM112.40 87.83h0.6M111.42 84.91H115.52V89.01H111.42ZM113.17 86.96h0.6M112.20 81.94H116.30V86.04H112.20ZM113.95 83.99h0.6M112.97 78.54H117.07V82.64H112.97ZM114.72 80.59h0.6M113.75 73.46H117.85V77.56H113.75ZM115.50 75.51h0.6M114.53 71.01H118.62V75.11H114.53ZM116.28 73.06h0.6M115.30 68.09H119.40V72.19H115.30ZM117.05 70.14h0.6M116.08 62.64H120.17V66.74H116.08ZM117.83 64.69h0.6M116.85 56.36H120.95V60.46H116.85ZM118.60 58.41h0.6M117.62 51.56H121.72V55.66H117.62ZM119.38 53.61h0.6M118.40 43.21H122.50V47.31H118.40ZM120.15 45.26h0.6M119.17 37.58H123.27V41.68H119.17ZM120.92 39.63h0.6M119.95 18.20H124.05V22.30H119.95ZM121.70 20.25h0.6M120.73 37.54H124.83V41.64H120.73ZM122.48 39.59h0.6M121.50 43.35H125.60V47.45H121.50ZM123.25 45.40h0.6M122.28 49.89H126.38V53.99H122.28ZM124.03 51.94h0.6M123.05 56.74H127.15V60.84H123.05ZM124.80 58.79h0.6M123.83 62.91H127.92V67.01H123.83ZM125.58 64.96h0.6M124.60 67.42H128.70V71.52H124.60ZM126.35 69.47h0.6M125.37 73.00H129.47V77.10H125.37ZM127.12 75.05h0.6M126.15 74.94H130.25V79.04H126.15ZM127.90 76.99h0.6M126.93 78.42H131.03V82.52H126.93ZM128.68 80.47h0.6M127.70 81.04H131.80V85.14H127.70ZM129.45 83.09h0.6M128.47 83.53H132.57V87.63H128.47ZM130.22 85.58h0.6M129.25 86.48H133.35V90.58H129.25ZM131.00 88.53h0.6M130.02 89.39H134.12V93.49H130.02ZM131.77 91.44h0.6M130.80 90.32H134.90V94.42H130.80ZM132.55 92.37h0.6M131.57 92.94H135.68V97.04H131.57ZM133.32 94.99h0.6M132.35 94.31H136.45V98.41H132.35ZM134.10 96.36h0.6M133.12 96.25H137.23V100.35H133.12ZM134.88 98.30h0.6M133.90 97.48H138.00V101.58H133.90ZM135.65 99.53h0.6M134.67 99.96H138.78V104.06H134.67ZM136.42 102.01h0.6M135.45 99.68H139.55V103.78H135.45ZM137.20 101.73h0.6M136.22 101.40H140.32V105.50H136.22ZM137.97 103.45h0.6M137.00 102.23H141.10V106.33H137.00ZM138.75 104.28h0.6M137.77 102.97H141.88V107.07H137.77ZM139.52 105.02h0.6M138.55 104.87H142.65V108.97H138.55ZM140.30 106.92h0.6M139.32 106.69H143.43V110.79H139.32ZM141.07 108.74h0.6M140.10 107.19H144.20V111.29H140.10ZM141.85 109.24h0.6M140.88 108.36H144.98V112.46H140.88ZM142.62 110.41h0.6M141.65 108.77H145.75V112.87H141.65ZM143.40 110.82h0.6M142.43 109.53H146.53V113.63H142.43ZM144.18 111.58h0.6M143.20 110.94H147.30V115.04H143.20ZM144.95 112.99h0.6M143.97 110.81H148.08V114.91H143.97ZM145.72 112.86h0.6M144.75 112.21H148.85V116.31H144.75ZM146.50 114.26h0.6M145.52 112.29H149.62V116.39H145.52ZM147.27 114.34h0.6M146.30 113.00H150.40V117.10H146.30ZM148.05 115.05h0.6M147.07 113.61H151.18V117.71H147.07ZM148.82 115.66h0.6M147.85 114.04H151.95V118.14H147.85ZM149.60 116.09h0.6M148.62 114.79H152.73V118.89H148.62ZM150.38 116.84h0.6M149.40 115.45H153.50V119.55H149.40ZM151.15 117.50h0.6M150.18 116.15H154.28V120.25H150.18ZM151.93 118.20h0.6M150.95 116.11H155.05V120.21H150.95ZM152.70 118.16h0.6M151.72 115.94H155.82V120.04H151.72ZM153.47 117.99h0.6M152.50 116.35H156.60V120.45H152.50ZM154.25 118.40h0.6M153.28 116.97H157.38V121.07H153.28ZM155.03 119.02h0.6M154.05 117.56H158.15V121.66H154.05ZM155.80 119.61h0.6M154.82 118.43H158.93V122.53H154.82ZM156.57 120.48h0.6M155.60 118.09H159.70V122.19H155.60ZM157.35 120.14h0.6M156.38 118.93H160.48V123.03H156.38ZM158.12 120.98h0.6M157.15 119.13H161.25V123.23H157.15ZM158.90 121.18h0.6M157.92 119.55H162.03V123.65H157.92ZM159.67 121.60h0.6M158.70 119.77H162.80V123.87H158.70ZM160.45 121.82h0.6M159.47 120.12H163.58V124.22H159.47ZM161.22 122.17h0.6M160.25 120.44H164.35V124.54H160.25ZM162.00 122.49h0.6M161.02 120.84H165.12V124.94H161.02ZM162.77 122.89h0.6M161.80 120.93H165.90V125.03H161.80ZM163.55 122.98h0.6M162.57 120.60H166.68V124.70H162.57ZM164.32 122.65h0.6M163.35 121.34H167.45V125.44H163.35ZM165.10 123.39h0.6M164.12 121.64H168.22V125.74H164.12ZM165.87 123.69h0.6M164.90 121.58H169.00V125.68H164.90ZM166.65 123.63h0.6M165.68 121.80H169.78V125.90H165.68ZM167.43 123.85h0.6M166.45 122.40H170.55V126.50H166.45ZM168.20 124.45h0.6M167.22 122.38H171.33V126.48H167.22ZM168.97 124.43h0.6M168.00 122.37H172.10V126.47H168.00ZM169.75 124.42h0.6M168.77 122.58H172.88V126.68H168.77ZM170.52 124.63h0.6M169.55 122.82H173.65V126.92H169.55ZM171.30 124.87h0.6M170.32 122.68H174.43V126.78H170.32ZM172.07 124.73h0.6M171.10 123.28H175.20V127.38H171.10ZM172.85 125.33h0.6M171.87 123.30H175.97V127.40H171.87ZM173.62 125.35h0.6M172.65 123.59H176.75V127.69H172.65ZM174.40 125.64h0.6M173.42 123.36H177.53V127.46H173.42ZM175.17 125.41h0.6M174.20 124.10H178.30V128.20H174.20ZM175.95 126.15h0.6M174.97 123.98H179.08V128.08H174.97ZM176.72 126.03h0.6M175.75 124.05H179.85V128.15H175.75ZM177.50 126.10h0.6M176.52 123.96H180.62V128.06H176.52ZM178.27 126.01h0.6M177.30 124.16H181.40V128.26H177.30ZM179.05 126.21h0.6M178.07 124.05H182.18V128.15H178.07ZM179.82 126.10h0.6M178.85 124.68H182.95V128.78H178.85ZM180.60 126.73h0.6M179.62 124.41H183.73V128.51H179.62ZM181.38 126.46h0.6M180.40 124.71H184.50V128.81H180.40ZM182.15 126.76h0.6M181.17 124.81H185.28V128.91H181.17ZM182.92 126.86h0.6M181.95 124.75H186.05V128.85H181.95ZM183.70 126.80h0.6M182.72 125.05H186.83V129.15H182.72ZM184.47 127.10h0.6M183.50 125.38H187.60V129.48H183.50ZM185.25 127.43h0.6M184.28 125.18H188.38V129.28H184.28ZM186.03 127.23h0.6M185.05 125.39H189.15V129.49H185.05ZM186.80 127.44h0.6M185.82 125.33H189.93V129.43H185.82ZM187.57 127.38h0.6M186.60 125.26H190.70V129.36H186.60ZM188.35 127.31h0.6M187.37 125.35H191.47V129.45H187.37ZM189.12 127.40h0.6M188.15 125.27H192.25V129.37H188.15ZM189.90 127.32h0.6M188.92 125.59H193.03V129.69H188.92ZM190.67 127.64h0.6M189.70 125.85H193.80V129.95H189.70ZM191.45 127.90h0.6M190.47 125.78H194.58V129.88H190.47ZM192.22 127.83h0.6M191.25 125.91H195.35V130.01H191.25ZM193.00 127.96h0.6M192.03 125.99H196.13V130.09H192.03ZM193.78 128.04h0.6M192.80 125.79H196.90V129.89H192.80ZM194.55 127.84h0.6M193.57 125.96H197.68V130.06H193.57ZM195.32 128.01h0.6M194.35 126.23H198.45V130.33H194.35ZM196.10 128.28h0.6M195.12 125.93H199.23V130.03H195.12ZM196.88 127.98h0.6M195.90 126.09H200.00V130.19H195.90ZM197.65 128.14h0.6M196.67 126.11H200.78V130.21H196.67ZM198.42 128.16h0.6M197.45 126.18H201.55V130.28H197.45ZM199.20 128.23h0.6" stroke="#ff00ff" stroke-width="0.46" fill="none"/>
<text x="45.20" y="145.1" text-anchor="middle">-5</text>
<text x="60.70" y="145.1" text-anchor="middle">-4</text>
<text x="76.20" y="145.1" text-anchor="middle">-3</text>
<text x="91.70" y="145.1" text-anchor="middle">-2</text>
<text x="107.20" y="145.1" text-anchor="middle">-1</text>
<text x="123.60" y="145.1" text-anchor="middle">0</text>
<text x="139.10" y="145.1" text-anchor="middle">1</text>
<text x="154.60" y="145.1" text-anchor="middle">2</text>
<text x="170.10" y="145.1" text-anchor="middle">3</text>
<text x="185.60" y="145.1" text-anchor="middle">4</text>
<text x="201.10" y="145.1" text-anchor="middle">5</text>
<text x="38.2" y="134.90" text-anchor="end">0</text>
<text x="38.2" y="115.32" text-anchor="end">0.1</text>
<text x="38.2" y="95.73" text-anchor="end">0.2</text>
<text x="38.2" y="76.15" text-anchor="end">0.3</text>
<text x="38.2" y="56.57" text-anchor="end">0.4</text>
<text x="38.2" y="36.98" text-anchor="end">0.5</text>
<text x="38.2" y="17.40" text-anchor="end">0.6</text>
<text x="122.80" y="155.9" text-anchor="middle" font-size="12" stroke="#000" stroke-width="0.2">x</text>
<text transform="translate(11.50 75.90) rotate(-90)" text-anchor="start" font-size="11.4" stroke="#000" stroke-width="0.15">p(x,2)</text>
<path d="M262.5 13.0H417.5V130.5H262.5Z" stroke="#000" stroke-width="1.0" fill="none"/>
<path d="M262.50 130.5v-4.0M262.50 13.0v4.0M278.00 130.5v-4.0M278.00 13.0v4.0M293.50 130.5v-4.0M293.50 13.0v4.0M309.00 130.5v-4.0M309.00 13.0v4.0M324.50 130.5v-4.0M324.50 13.0v4.0M340.00 130.5v-4.0M340.00 13.0v4.0M355.50 130.5v-4.0M355.50 13.0v4.0M371.00 130.5v-4.0M371.00 13.0v4.0M386.50 130.5v-4.0M386.50 13.0v4.0M402.00 130.5v-4.0M402.00 13.0v4.0M417.50 130.5v-4.0M417.50 13.0v4.0M262.5 130.50h4.0M417.5 130.50h-4.0M262.5 110.92h4.0M417.5 110.92h-4.0M262.5 91.33h4.0M417.5 91.33h-4.0M262.5 71.75h4.0M417.5 71.75h-4.0M262.5 52.17h4.0M417.5 52.17h-4.0M262.5 32.58h4.0M417.5 32.58h-4.0M262.5 13.00h4.0M417.5 13.00h-4.0" stroke="#000" stroke-width="0.8" fill="none"/>
<path d="M260.45 121.61H264.55M262.50 119.56V123.66M261.22 121.54H265.32M263.27 119.49V123.59M262.00 121.08H266.10M264.05 119.03V123.13M262.77 121.21H266.88M264.82 119.16V123.26M263.55 121.02H267.65M265.60 118.97V123.07M264.32 120.83H268.43M266.38 118.78V122.88M265.10 121.26H269.20M267.15 119.21V123.31M265.88 120.76H269.98M267.93 118.71V122.81M266.65 120.55H270.75M268.70 118.50V122.60M267.43 120.33H271.53M269.48 118.28V122.38M268.20 120.59H272.30M270.25 118.54V122.64M268.97 119.62H273.07M271.02 117.57V121.67M269.75 119.88H273.85M271.80 117.83V121.93M270.52 120.15H274.62M272.57 118.10V122.20M271.30 120.14H275.40M273.35 118.09V122.19M272.07 119.54H276.18M274.12 117.49V121.59M272.85 119.31H276.95M274.90 117.26V121.36M273.62 119.45H277.73M275.68 117.40V121.50M274.40 118.93H278.50M276.45 116.88V120.98M275.18 119.01H279.28M277.23 116.96V121.06M275.95 118.46H280.05M278.00 116.41V120.51M276.72 118.79H280.82M278.77 116.74V120.84M277.50 118.33H281.60M279.55 116.28V120.38M278.27 117.89H282.38M280.32 115.84V119.94M279.05 117.23H283.15M281.10 115.18V119.28M279.82 118.24H283.93M281.88 116.19V120.29M280.60 117.94H284.70M282.65 115.89V119.99M281.38 117.89H285.48M283.43 115.84V119.94M282.15 117.09H286.25M284.20 115.04V119.14M282.93 117.59H287.03M284.98 115.54V119.64M283.70 117.14H287.80M285.75 115.09V119.19M284.47 116.85H288.57M286.52 114.80V118.90M285.25 117.08H289.35M287.30 115.03V119.13M286.02 117.03H290.12M288.07 114.98V119.08M286.80 116.56H290.90M288.85 114.51V118.61M287.57 117.02H291.68M289.62 114.97V119.07M288.35 116.62H292.45M290.40 114.57V118.67M289.12 116.19H293.23M291.18 114.14V118.24M289.90 115.84H294.00M291.95 113.79V117.89M290.68 115.68H294.78M292.73 113.63V117.73M291.45 116.22H295.55M293.50 114.17V118.27M292.22 115.58H296.32M294.27 113.53V117.63M293.00 114.98H297.10M295.05 112.93V117.03M293.77 114.91H297.88M295.82 112.86V116.96M294.55 114.96H298.65M296.60 112.91V117.01M295.32 115.17H299.43M297.38 113.12V117.22M296.10 114.48H300.20M298.15 112.43V116.53M296.88 114.71H300.98M298.93 112.66V116.76M297.65 114.88H301.75M299.70 112.83V116.93M298.43 114.54H302.53M300.48 112.49V116.59M299.20 113.66H303.30M301.25 111.61V115.71M299.97 113.83H304.07M302.02 111.78V115.88M300.75 113.47H304.85M302.80 111.42V115.52M301.52 113.94H305.62M303.57 111.89V115.99M302.30 113.21H306.40M304.35 111.16V115.26M303.07 113.68H307.18M305.12 111.63V115.73M303.85 113.43H307.95M305.90 111.38V115.48M304.62 112.27H308.73M306.68 110.22V114.32M305.40 112.74H309.50M307.45 110.69V114.79M306.18 113.18H310.28M308.23 111.13V115.23M306.95 112.76H311.05M309.00 110.71V114.81M307.72 112.55H311.82M309.77 110.50V114.60M308.50 112.17H312.60M310.55 110.12V114.22M309.27 112.58H313.38M311.32 110.53V114.63M310.05 113.07H314.15M312.10 111.02V115.12M310.82 112.36H314.93M312.88 110.31V114.41M311.60 112.17H315.70M313.65 110.12V114.22M312.38 112.05H316.48M314.43 110.00V114.10M313.15 111.50H317.25M315.20 109.45V113.55M313.93 111.69H318.03M315.98 109.64V113.74M314.70 111.42H318.80M316.75 109.37V113.47M315.47 112.09H319.57M317.52 110.04V114.14M316.25 111.20H320.35M318.30 109.15V113.25M317.02 110.69H321.12M319.07 108.64V112.74M317.80 111.24H321.90M319.85 109.19V113.29M318.57 111.29H322.68M320.62 109.24V113.34M319.35 111.24H323.45M321.40 109.19V113.29M320.12 110.41H324.23M322.18 108.36V112.46M320.90 111.51H325.00M322.95 109.46V113.56M321.68 111.19H325.78M323.73 109.14V113.24M322.45 110.80H326.55M324.50 108.75V112.85M323.22 110.68H327.32M325.27 108.63V112.73M324.00 110.99H328.10M326.05 108.94V113.04M324.77 110.58H328.88M326.82 108.53V112.63M325.55 110.83H329.65M327.60 108.78V112.88M326.32 110.61H330.43M328.38 108.56V112.66M327.10 110.74H331.20M329.15 108.69V112.79M327.88 111.06H331.98M329.93 109.01V113.11M328.65 110.56H332.75M330.70 108.51V112.61M329.43 110.22H333.53M331.48 108.17V112.27M330.20 110.82H334.30M332.25 108.77V112.87M330.97 110.58H335.07M333.02 108.53V112.63M331.75 110.23H335.85M333.80 108.18V112.28M332.52 110.97H336.62M334.57 108.92V113.02M333.30 110.24H337.40M335.35 108.19V112.29M334.07 110.75H338.18M336.12 108.70V112.80M334.85 109.98H338.95M336.90 107.93V112.03M335.62 109.38H339.73M337.68 107.33V111.43M336.40 109.54H340.50M338.45 107.49V111.59M337.18 110.32H341.28M339.23 108.27V112.37M337.95 110.12H342.05M340.00 108.07V112.17M338.72 110.36H342.82M340.77 108.31V112.41M339.50 110.27H343.60M341.55 108.22V112.32M340.27 109.80H344.38M342.32 107.75V111.85M341.05 110.83H345.15M343.10 108.78V112.88M341.82 110.00H345.93M343.88 107.95V112.05M342.60 110.40H346.70M344.65 108.35V112.45M343.37 109.76H347.47M345.42 107.71V111.81M344.15 110.35H348.25M346.20 108.30V112.40M344.93 110.71H349.03M346.98 108.66V112.76M345.70 110.30H349.80M347.75 108.25V112.35M346.47 110.20H350.57M348.52 108.15V112.25M347.25 110.48H351.35M349.30 108.43V112.53M348.02 110.37H352.12M350.07 108.32V112.42M348.80 110.84H352.90M350.85 108.79V112.89M349.57 111.53H353.68M351.62 109.48V113.58M350.35 110.41H354.45M352.40 108.36V112.46M351.12 110.55H355.23M353.18 108.50V112.60M351.90 110.86H356.00M353.95 108.81V112.91M352.68 110.91H356.78M354.73 108.86V112.96M353.45 110.65H357.55M355.50 108.60V112.70M354.22 111.30H358.32M356.27 109.25V113.35M355.00 111.32H359.10M357.05 109.27V113.37M355.77 111.42H359.88M357.82 109.37V113.47M356.55 110.85H360.65M358.60 108.80V112.90M357.32 111.83H361.43M359.38 109.78V113.88M358.10 111.07H362.20M360.15 109.02V113.12M358.88 111.76H362.98M360.93 109.71V113.81M359.65 111.95H363.75M361.70 109.90V114.00M360.43 111.30H364.53M362.48 109.25V113.35M361.20 111.91H365.30M363.25 109.86V113.96M361.97 112.36H366.07M364.02 110.31V114.41M362.75 112.24H366.85M364.80 110.19V114.29M363.52 111.64H367.62M365.57 109.59V113.69M364.30 111.78H368.40M366.35 109.73V113.83M365.07 112.53H369.18M367.12 110.48V114.58M365.85 112.27H369.95M367.90 110.22V114.32M366.62 112.24H370.73M368.68 110.19V114.29M367.40 112.87H371.50M369.45 110.82V114.92M368.18 112.63H372.28M370.23 110.58V114.68M368.95 112.89H373.05M371.00 110.84V114.94M369.72 113.14H373.82M371.77 111.09V115.19M370.50 113.30H374.60M372.55 111.25V115.35M371.28 113.16H375.38M373.33 111.11V115.21M372.05 113.23H376.15M374.10 111.18V115.28M372.82 113.69H376.93M374.88 111.64V115.74M373.60 113.62H377.70M375.65 111.57V115.67M374.38 113.31H378.48M376.43 111.26V115.36M375.15 113.70H379.25M377.20 111.65V115.75M375.93 113.77H380.03M377.98 111.72V115.82M376.70 113.56H380.80M378.75 111.51V115.61M377.47 114.00H381.57M379.52 111.95V116.05M378.25 113.60H382.35M380.30 111.55V115.65M379.02 114.80H383.12M381.07 112.75V116.85M379.80 114.33H383.90M381.85 112.28V116.38M380.57 114.92H384.68M382.62 112.87V116.97M381.35 114.37H385.45M383.40 112.32V116.42M382.12 114.52H386.22M384.17 112.47V116.57M382.90 116.00H387.00M384.95 113.95V118.05M383.68 115.77H387.78M385.73 113.72V117.82M384.45 115.34H388.55M386.50 113.29V117.39M385.22 115.46H389.32M387.27 113.41V117.51M386.00 115.64H390.10M388.05 113.59V117.69M386.77 116.10H390.88M388.82 114.05V118.15M387.55 115.97H391.65M389.60 113.92V118.02M388.32 116.08H392.43M390.38 114.03V118.13M389.10 116.48H393.20M391.15 114.43V118.53M389.87 116.28H393.97M391.92 114.23V118.33M390.65 117.51H394.75M392.70 115.46V119.56M391.43 116.69H395.53M393.48 114.64V118.74M392.20 117.38H396.30M394.25 115.33V119.43M392.97 117.00H397.07M395.02 114.95V119.05M393.75 117.49H397.85M395.80 115.44V119.54M394.52 117.85H398.62M396.57 115.80V119.90M395.30 117.50H399.40M397.35 115.45V119.55M396.07 118.18H400.18M398.12 116.13V120.23M396.85 118.38H400.95M398.90 116.33V120.43M397.62 118.63H401.73M399.68 116.58V120.68M398.40 118.43H402.50M400.45 116.38V120.48M399.18 118.37H403.28M401.23 116.32V120.42M399.95 118.34H404.05M402.00 116.29V120.39M400.72 118.96H404.82M402.77 116.91V121.01M401.50 118.61H405.60M403.55 116.56V120.66M402.28 119.18H406.38M404.33 117.13V121.23M403.05 119.38H407.15M405.10 117.33V121.43M403.82 119.23H407.93M405.88 117.18V121.28M404.60 119.25H408.70M406.65 117.20V121.30M405.37 119.87H409.47M407.42 117.82V121.92M406.15 119.96H410.25M408.20 117.91V122.01M406.93 120.17H411.03M408.98 118.12V122.22M407.70 120.14H411.80M409.75 118.09V122.19M408.47 120.67H412.57M410.52 118.62V122.72M409.25 120.27H413.35M411.30 118.22V122.32M410.03 120.87H414.13M412.08 118.82V122.92M410.80 120.69H414.90M412.85 118.64V122.74M411.57 121.23H415.68M413.62 119.18V123.28M412.35 120.99H416.45M414.40 118.94V123.04M413.12 121.14H417.23M415.18 119.09V123.19M413.90 121.60H418.00M415.95 119.55V123.65M414.68 121.07H418.78M416.73 119.02V123.12M415.45 121.67H419.55M417.50 119.62V123.72" stroke="#ff0000" stroke-width="0.6" fill="none"/>
<path d="M260.45 121.53L264.55 125.63M260.45 125.63L264.55 121.53M261.22 121.73L265.32 125.83M261.22 125.83L265.32 121.73M262.00 122.03L266.10 126.13M262.00 126.13L266.10 122.03M262.77 122.00L266.88 126.10M262.77 126.10L266.88 122.00M263.55 121.77L267.65 125.87M263.55 125.87L267.65 121.77M264.32 121.83L268.43 125.93M264.32 125.93L268.43 121.83M265.10 121.81L269.20 125.91M265.10 125.91L269.20 121.81M265.88 121.86L269.98 125.96M265.88 125.96L269.98 121.86M266.65 122.10L270.75 126.20M266.65 126.20L270.75 122.10M267.43 121.71L271.53 125.81M267.43 125.81L271.53 121.71M268.20 122.13L272.30 126.23M268.20 126.23L272.30 122.13M268.97 121.53L273.07 125.63M268.97 125.63L273.07 121.53M269.75 121.76L273.85 125.86M269.75 125.86L273.85 121.76M270.52 121.68L274.62 125.78M270.52 125.78L274.62 121.68M271.30 121.62L275.40 125.72M271.30 125.72L275.40 121.62M272.07 121.42L276.18 125.52M272.07 125.52L276.18 121.42M272.85 121.80L276.95 125.90M272.85 125.90L276.95 121.80M273.62 121.88L277.73 125.98M273.62 125.98L277.73 121.88M274.40 121.63L278.50 125.73M274.40 125.73L278.50 121.63M275.18 121.78L279.28 125.88M275.18 125.88L279.28 121.78M275.95 121.56L280.05 125.66M275.95 125.66L280.05 121.56M276.72 120.83L280.82 124.93M276.72 124.93L280.82 120.83M277.50 121.50L281.60 125.60M277.50 125.60L281.60 121.50M278.27 121.08L282.38 125.18M278.27 125.18L282.38 121.08M279.05 121.50L283.15 125.60M279.05 125.60L283.15 121.50M279.82 121.08L283.93 125.18M279.82 125.18L283.93 121.08M280.60 121.21L284.70 125.31M280.60 125.31L284.70 121.21M281.38 121.15L285.48 125.25M281.38 125.25L285.48 121.15M282.15 120.89L286.25 124.99M282.15 124.99L286.25 120.89M282.93 120.58L287.03 124.68M282.93 124.68L287.03 120.58M283.70 120.99L287.80 125.09M283.70 125.09L287.80 120.99M284.47 120.89L288.57 124.99M284.47 124.99L288.57 120.89M285.25 121.24L289.35 125.34M285.25 125.34L289.35 121.24M286.02 120.71L290.12 124.81M286.02 124.81L290.12 120.71M286.80 120.98L290.90 125.08M286.80 125.08L290.90 120.98M287.57 120.61L291.68 124.71M287.57 124.71L291.68 120.61M288.35 120.76L292.45 124.86M288.35 124.86L292.45 120.76M289.12 120.37L293.23 124.47M289.12 124.47L293.23 120.37M289.90 121.27L294.00 125.37M289.90 125.37L294.00 121.27M290.68 120.81L294.78 124.91M290.68 124.91L294.78 120.81M291.45 120.48L295.55 124.58M291.45 124.58L295.55 120.48M292.22 120.75L296.32 124.85M292.22 124.85L296.32 120.75M293.00 120.85L297.10 124.95M293.00 124.95L297.10 120.85M293.77 120.65L297.88 124.75M293.77 124.75L297.88 120.65M294.55 120.89L298.65 124.99M294.55 124.99L298.65 120.89M295.32 120.51L299.43 124.61M295.32 124.61L299.43 120.51M296.10 119.92L300.20 124.02M296.10 124.02L300.20 119.92M296.88 120.16L300.98 124.26M296.88 124.26L300.98 120.16M297.65 120.74L301.75 124.84M297.65 124.84L301.75 120.74M298.43 120.62L302.53 124.72M298.43 124.72L302.53 120.62M299.20 120.52L303.30 124.62M299.20 124.62L303.30 120.52M299.97 120.13L304.07 124.23M299.97 124.23L304.07 120.13M300.75 120.58L304.85 124.68M300.75 124.68L304.85 120.58M301.52 120.49L305.62 124.59M301.52 124.59L305.62 120.49M302.30 119.99L306.40 124.09M302.30 124.09L306.40 119.99M303.07 120.11L307.18 124.21M303.07 124.21L307.18 120.11M303.85 120.42L307.95 124.52M303.85 124.52L307.95 120.42M304.62 120.50L308.73 124.60M304.62 124.60L308.73 120.50M305.40 120.60L309.50 124.70M305.40 124.70L309.50 120.60M306.18 120.34L310.28 124.44M306.18 124.44L310.28 120.34M306.95 120.78L311.05 124.88M306.95 124.88L311.05 120.78M307.72 119.91L311.82 124.01M307.72 124.01L311.82 119.91M308.50 120.30L312.60 124.40M308.50 124.40L312.60 120.30M309.27 119.99L313.38 124.09M309.27 124.09L313.38 119.99M310.05 119.62L314.15 123.72M310.05 123.72L314.15 119.62M310.82 119.84L314.93 123.94M310.82 123.94L314.93 119.84M311.60 120.36L315.70 124.46M311.60 124.46L315.70 120.36M312.38 119.92L316.48 124.02M312.38 124.02L316.48 119.92M313.15 119.71L317.25 123.81M313.15 123.81L317.25 119.71M313.93 120.27L318.03 124.37M313.93 124.37L318.03 120.27M314.70 120.22L318.80 124.32M314.70 124.32L318.80 120.22M315.47 120.04L319.57 124.14M315.47 124.14L319.57 120.04M316.25 120.41L320.35 124.51M316.25 124.51L320.35 120.41M317.02 119.56L321.12 123.66M317.02 123.66L321.12 119.56M317.80 120.64L321.90 124.74M317.80 124.74L321.90 120.64M318.57 120.31L322.68 124.41M318.57 124.41L322.68 120.31M319.35 120.02L323.45 124.12M319.35 124.12L323.45 120.02M320.12 120.01L324.23 124.11M320.12 124.11L324.23 120.01M320.90 119.87L325.00 123.97M320.90 123.97L325.00 119.87M321.68 119.87L325.78 123.97M321.68 123.97L325.78 119.87M322.45 120.01L326.55 124.11M322.45 124.11L326.55 120.01M323.22 119.60L327.32 123.70M323.22 123.70L327.32 119.60M324.00 120.41L328.10 124.51M324.00 124.51L328.10 120.41M324.77 119.88L328.88 123.98M324.77 123.98L328.88 119.88M325.55 120.00L329.65 124.10M325.55 124.10L329.65 120.00M326.32 119.78L330.43 123.88M326.32 123.88L330.43 119.78M327.10 119.76L331.20 123.86M327.10 123.86L331.20 119.76M327.88 120.06L331.98 124.16M327.88 124.16L331.98 120.06M328.65 119.99L332.75 124.09M328.65 124.09L332.75 119.99M329.43 119.60L333.53 123.70M329.43 123.70L333.53 119.60M330.20 119.74L334.30 123.84M330.20 123.84L334.30 119.74M330.97 120.03L335.07 124.13M330.97 124.13L335.07 120.03M331.75 119.23L335.85 123.33M331.75 123.33L335.85 119.23M332.52 119.19L336.62 123.29M332.52 123.29L336.62 119.19M333.30 120.19L337.40 124.29M333.30 124.29L337.40 120.19M334.07 119.68L338.18 123.78M334.07 123.78L338.18 119.68M334.85 119.13L338.95 123.23M334.85 123.23L338.95 119.13M335.62 119.63L339.73 123.73M335.62 123.73L339.73 119.63M336.40 119.70L340.50 123.80M336.40 123.80L340.50 119.70M337.18 119.87L341.28 123.97M337.18 123.97L341.28 119.87M337.95 119.89L342.05 123.99M337.95 123.99L342.05 119.89M338.72 119.84L342.82 123.94M338.72 123.94L342.82 119.84M339.50 119.96L343.60 124.06M339.50 124.06L343.60 119.96M340.27 119.59L344.38 123.69M340.27 123.69L344.38 119.59M341.05 119.86L345.15 123.96M341.05 123.96L345.15 119.86M341.82 119.88L345.93 123.98M341.82 123.98L345.93 119.88M342.60 120.08L346.70 124.18M342.60 124.18L346.70 120.08M343.37 119.85L347.47 123.95M343.37 123.95L347.47 119.85M344.15 120.05L348.25 124.15M344.15 124.15L348.25 120.05M344.93 119.90L349.03 124.00M344.93 124.00L349.03 119.90M345.70 119.47L349.80 123.57M345.70 123.57L349.80 119.47M346.47 119.70L350.57 123.80M346.47 123.80L350.57 119.70M347.25 119.65L351.35 123.75M347.25 123.75L351.35 119.65M348.02 119.75L352.12 123.85M348.02 123.85L352.12 119.75M348.80 119.80L352.90 123.90M348.80 123.90L352.90 119.80M349.57 119.84L353.68 123.94M349.57 123.94L353.68 119.84M350.35 119.93L354.45 124.03M350.35 124.03L354.45 119.93M351.12 119.65L355.23 123.75M351.12 123.75L355.23 119.65M351.90 120.13L356.00 124.23M351.90 124.23L356.00 120.13M352.68 119.54L356.78 123.64M352.68 123.64L356.78 119.54M353.45 119.95L357.55 124.05M353.45 124.05L357.55 119.95M354.22 120.05L358.32 124.15M354.22 124.15L358.32 120.05M355.00 120.02L359.10 124.12M355.00 124.12L359.10 120.02M355.77 120.13L359.88 124.23M355.77 124.23L359.88 120.13M356.55 119.88L360.65 123.98M356.55 123.98L360.65 119.88M357.32 120.07L361.43 124.17M357.32 124.17L361.43 120.07M358.10 119.62L362.20 123.72M358.10 123.72L362.20 119.62M358.88 120.13L362.98 124.23M358.88 124.23L362.98 120.13M359.65 120.57L363.75 124.67M359.65 124.67L363.75 120.57M360.43 120.18L364.53 124.28M360.43 124.28L364.53 120.18M361.20 120.50L365.30 124.60M361.20 124.60L365.30 120.50M361.97 120.08L366.07 124.18M361.97 124.18L366.07 120.08M362.75 119.72L366.85 123.82M362.75 123.82L366.85 119.72M363.52 119.96L367.62 124.06M363.52 124.06L367.62 119.96M364.30 120.48L368.40 124.58M364.30 124.58L368.40 120.48M365.07 120.31L369.18 124.41M365.07 124.41L369.18 120.31M365.85 119.58L369.95 123.68M365.85 123.68L369.95 119.58M366.62 120.04L370.73 124.14M366.62 124.14L370.73 120.04M367.40 120.14L371.50 124.24M367.40 124.24L371.50 120.14M368.18 119.95L372.28 124.05M368.18 124.05L372.28 119.95M368.95 119.61L373.05 123.71M368.95 123.71L373.05 119.61M369.72 119.91L373.82 124.01M369.72 124.01L373.82 119.91M370.50 120.16L374.60 124.26M370.50 124.26L374.60 120.16M371.28 120.15L375.38 124.25M371.28 124.25L375.38 120.15M372.05 120.11L376.15 124.21M372.05 124.21L376.15 120.11M372.82 120.51L376.93 124.61M372.82 124.61L376.93 120.51M373.60 120.57L377.70 124.67M373.60 124.67L377.70 120.57M374.38 120.36L378.48 124.46M374.38 124.46L378.48 120.36M375.15 120.54L379.25 124.64M375.15 124.64L379.25 120.54M375.93 120.46L380.03 124.56M375.93 124.56L380.03 120.46M376.70 120.50L380.80 124.60M376.70 124.60L380.80 120.50M377.47 119.82L381.57 123.92M377.47 123.92L381.57 119.82M378.25 120.66L382.35 124.76M378.25 124.76L382.35 120.66M379.02 120.53L383.12 124.63M379.02 124.63L383.12 120.53M379.80 120.56L383.90 124.66M379.80 124.66L383.90 120.56M380.57 120.37L384.68 124.47M380.57 124.47L384.68 120.37M381.35 120.27L385.45 124.37M381.35 124.37L385.45 120.27M382.12 120.77L386.22 124.87M382.12 124.87L386.22 120.77M382.90 120.83L387.00 124.93M382.90 124.93L387.00 120.83M383.68 121.09L387.78 125.19M383.68 125.19L387.78 121.09M384.45 120.94L388.55 125.04M384.45 125.04L388.55 120.94M385.22 120.54L389.32 124.64M385.22 124.64L389.32 120.54M386.00 120.76L390.10 124.86M386.00 124.86L390.10 120.76M386.77 121.05L390.88 125.15M386.77 125.15L390.88 121.05M387.55 120.91L391.65 125.01M387.55 125.01L391.65 120.91M388.32 120.79L392.43 124.89M388.32 124.89L392.43 120.79M389.10 120.78L393.20 124.88M389.10 124.88L393.20 120.78M389.87 121.04L393.97 125.14M389.87 125.14L393.97 121.04M390.65 120.99L394.75 125.09M390.65 125.09L394.75 120.99M391.43 121.44L395.53 125.54M391.43 125.54L395.53 121.44M392.20 121.24L396.30 125.34M392.20 125.34L396.30 121.24M392.97 120.68L397.07 124.78M392.97 124.78L397.07 120.68M393.75 121.60L397.85 125.70M393.75 125.70L397.85 121.60M394.52 121.23L398.62 125.33M394.52 125.33L398.62 121.23M395.30 121.00L399.40 125.10M395.30 125.10L399.40 121.00M396.07 121.23L400.18 125.33M396.07 125.33L400.18 121.23M396.85 121.39L400.95 125.49M396.85 125.49L400.95 121.39M397.62 121.19L401.73 125.29M397.62 125.29L401.73 121.19M398.40 121.25L402.50 125.35M398.40 125.35L402.50 121.25M399.18 121.33L403.28 125.43M399.18 125.43L403.28 121.33M399.95 121.76L404.05 125.86M399.95 125.86L404.05 121.76M400.72 121.37L404.82 125.47M400.72 125.47L404.82 121.37M401.50 121.58L405.60 125.68M401.50 125.68L405.60 121.58M402.28 121.54L406.38 125.64M402.28 125.64L406.38 121.54M403.05 121.33L407.15 125.43M403.05 125.43L407.15 121.33M403.82 121.27L407.93 125.37M403.82 125.37L407.93 121.27M404.60 121.26L408.70 125.36M404.60 125.36L408.70 121.26M405.37 121.64L409.47 125.74M405.37 125.74L409.47 121.64M406.15 121.38L410.25 125.48M406.15 125.48L410.25 121.38M406.93 121.35L411.03 125.45M406.93 125.45L411.03 121.35M407.70 121.41L411.80 125.51M407.70 125.51L411.80 121.41M408.47 121.34L412.57 125.44M408.47 125.44L412.57 121.34M409.25 121.75L413.35 125.85M409.25 125.85L413.35 121.75M410.03 121.81L414.13 125.91M410.03 125.91L414.13 121.81M410.80 121.66L414.90 125.76M410.80 125.76L414.90 121.66M411.57 122.14L415.68 126.24M411.57 126.24L415.68 122.14M412.35 121.78L416.45 125.88M412.35 125.88L416.45 121.78M413.12 121.95L417.23 126.05M413.12 126.05L417.23 121.95M413.90 121.99L418.00 126.09M413.90 126.09L418.00 121.99M414.68 122.26L418.78 126.36M414.68 126.36L418.78 122.26M415.45 122.16L419.55 126.26M415.45 126.26L419.55 122.16" stroke="#00ff00" stroke-width="0.6" fill="none"/>
<path d="M260.45 127.09H264.55M262.50 125.04V129.14M260.45 125.04L264.55 129.14M260.45 129.14L264.55 125.04M261.22 126.87H265.32M263.27 124.82V128.92M261.22 124.82L265.32 128.92M261.22 128.92L265.32 124.82M262.00 126.77H266.10M264.05 124.72V128.82M262.00 124.72L266.10 128.82M262.00 128.82L266.10 124.72M262.77 126.74H266.88M264.82 124.69V128.79M262.77 124.69L266.88 128.79M262.77 128.79L266.88 124.69M263.55 126.68H267.65M265.60 124.63V128.73M263.55 124.63L267.65 128.73M263.55 128.73L267.65 124.63M264.32 126.67H268.43M266.38 124.62V128.72M264.32 124.62L268.43 128.72M264.32 128.72L268.43 124.62M265.10 126.33H269.20M267.15 124.28V128.38M265.10 124.28L269.20 128.38M265.10 128.38L269.20 124.28M265.88 126.34H269.98M267.93 124.29V128.39M265.88 124.29L269.98 128.39M265.88 128.39L269.98 124.29M266.65 125.96H270.75M268.70 123.91V128.01M266.65 123.91L270.75 128.01M266.65 128.01L270.75 123.91M267.43 125.61H271.53M269.48 123.56V127.66M267.43 123.56L271.53 127.66M267.43 127.66L271.53 123.56M268.20 125.83H272.30M270.25 123.78V127.88M268.20 123.78L272.30 127.88M268.20 127.88L272.30 123.78M268.97 125.96H273.07M271.02 123.91V128.01M268.97 123.91L273.07 128.01M268.97 128.01L273.07 123.91M269.75 125.70H273.85M271.80 123.65V127.75M269.75 123.65L273.85 127.75M269.75 127.75L273.85 123.65M270.52 125.63H274.62M272.57 123.58V127.68M270.52 123.58L274.62 127.68M270.52 127.68L274.62 123.58M271.30 125.44H275.40M273.35 123.39V127.49M271.30 123.39L275.40 127.49M271.30 127.49L275.40 123.39M272.07 124.74H276.18M274.12 122.69V126.79M272.07 122.69L276.18 126.79M272.07 126.79L276.18 122.69M272.85 124.81H276.95M274.90 122.76V126.86M272.85 122.76L276.95 126.86M272.85 126.86L276.95 122.76M273.62 125.06H277.73M275.68 123.01V127.11M273.62 123.01L277.73 127.11M273.62 127.11L277.73 123.01M274.40 124.32H278.50M276.45 122.27V126.37M274.40 122.27L278.50 126.37M274.40 126.37L278.50 122.27M275.18 124.07H279.28M277.23 122.02V126.12M275.18 122.02L279.28 126.12M275.18 126.12L279.28 122.02M275.95 124.27H280.05M278.00 122.22V126.32M275.95 122.22L280.05 126.32M275.95 126.32L280.05 122.22M276.72 124.09H280.82M278.77 122.04V126.14M276.72 122.04L280.82 126.14M276.72 126.14L280.82 122.04M277.50 123.83H281.60M279.55 121.78V125.88M277.50 121.78L281.60 125.88M277.50 125.88L281.60 121.78M278.27 123.46H282.38M280.32 121.41V125.51M278.27 121.41L282.38 125.51M278.27 125.51L282.38 121.41M279.05 123.15H283.15M281.10 121.10V125.20M279.05 121.10L283.15 125.20M279.05 125.20L283.15 121.10M279.82 122.73H283.93M281.88 120.68V124.78M279.82 120.68L283.93 124.78M279.82 124.78L283.93 120.68M280.60 122.56H284.70M282.65 120.51V124.61M280.60 120.51L284.70 124.61M280.60 124.61L284.70 120.51M281.38 122.32H285.48M283.43 120.27V124.37M281.38 120.27L285.48 124.37M281.38 124.37L285.48 120.27M282.15 122.01H286.25M284.20 119.96V124.06M282.15 119.96L286.25 124.06M282.15 124.06L286.25 119.96M282.93 121.97H287.03M284.98 119.92V124.02M282.93 119.92L287.03 124.02M282.93 124.02L287.03 119.92M283.70 122.24H287.80M285.75 120.19V124.29M283.70 120.19L287.80 124.29M283.70 124.29L287.80 120.19M284.47 121.65H288.57M286.52 119.60V123.70M284.47 119.60L288.57 123.70M284.47 123.70L288.57 119.60M285.25 121.28H289.35M287.30 119.23V123.33M285.25 119.23L289.35 123.33M285.25 123.33L289.35 119.23M286.02 121.20H290.12M288.07 119.15V123.25M286.02 119.15L290.12 123.25M286.02 123.25L290.12 119.15M286.80 120.57H290.90M288.85 118.52V122.62M286.80 118.52L290.90 122.62M286.80 122.62L290.90 118.52M287.57 120.62H291.68M289.62 118.57V122.67M287.57 118.57L291.68 122.67M287.57 122.67L291.68 118.57M288.35 120.53H292.45M290.40 118.48V122.58M288.35 118.48L292.45 122.58M288.35 122.58L292.45 118.48M289.12 119.57H293.23M291.18 117.52V121.62M289.12 117.52L293.23 121.62M289.12 121.62L293.23 117.52M289.90 119.43H294.00M291.95 117.38V121.48M289.90 117.38L294.00 121.48M289.90 121.48L294.00 117.38M290.68 119.17H294.78M292.73 117.12V121.22M290.68 117.12L294.78 121.22M290.68 121.22L294.78 117.12M291.45 118.74H295.55M293.50 116.69V120.79M291.45 116.69L295.55 120.79M291.45 120.79L295.55 116.69M292.22 118.35H296.32M294.27 116.30V120.40M292.22 116.30L296.32 120.40M292.22 120.40L296.32 116.30M293.00 118.26H297.10M295.05 116.21V120.31M293.00 116.21L297.10 120.31M293.00 120.31L297.10 116.21M293.77 118.75H297.88M295.82 116.70V120.80M293.77 116.70L297.88 120.80M293.77 120.80L297.88 116.70M294.55 117.91H298.65M296.60 115.86V119.96M294.55 115.86L298.65 119.96M294.55 119.96L298.65 115.86M295.32 117.44H299.43M297.38 115.39V119.49M295.32 115.39L299.43 119.49M295.32 119.49L299.43 115.39M296.10 117.22H300.20M298.15 115.17V119.27M296.10 115.17L300.20 119.27M296.10 119.27L300.20 115.17M296.88 116.41H300.98M298.93 114.36V118.46M296.88 114.36L300.98 118.46M296.88 118.46L300.98 114.36M297.65 115.69H301.75M299.70 113.64V117.74M297.65 113.64L301.75 117.74M297.65 117.74L301.75 113.64M298.43 116.00H302.53M300.48 113.95V118.05M298.43 113.95L302.53 118.05M298.43 118.05L302.53 113.95M299.20 115.79H303.30M301.25 113.74V117.84M299.20 113.74L303.30 117.84M299.20 117.84L303.30 113.74M299.97 114.29H304.07M302.02 112.24V116.34M299.97 112.24L304.07 116.34M299.97 116.34L304.07 112.24M300.75 114.77H304.85M302.80 112.72V116.82M300.75 112.72L304.85 116.82M300.75 116.82L304.85 112.72M301.52 114.49H305.62M303.57 112.44V116.54M301.52 112.44L305.62 116.54M301.52 116.54L305.62 112.44M302.30 113.62H306.40M304.35 111.57V115.67M302.30 111.57L306.40 115.67M302.30 115.67L306.40 111.57M303.07 113.08H307.18M305.12 111.03V115.13M303.07 111.03L307.18 115.13M303.07 115.13L307.18 111.03M303.85 113.03H307.95M305.90 110.98V115.08M303.85 110.98L307.95 115.08M303.85 115.08L307.95 110.98M304.62 112.03H308.73M306.68 109.98V114.08M304.62 109.98L308.73 114.08M304.62 114.08L308.73 109.98M305.40 112.01H309.50M307.45 109.96V114.06M305.40 109.96L309.50 114.06M305.40 114.06L309.50 109.96M306.18 111.69H310.28M308.23 109.64V113.74M306.18 109.64L310.28 113.74M306.18 113.74L310.28 109.64M306.95 110.69H311.05M309.00 108.64V112.74M306.95 108.64L311.05 112.74M306.95 112.74L311.05 108.64M307.72 110.03H311.82M309.77 107.98V112.08M307.72 107.98L311.82 112.08M307.72 112.08L311.82 107.98M308.50 110.16H312.60M310.55 108.11V112.21M308.50 108.11L312.60 112.21M308.50 112.21L312.60 108.11M309.27 109.12H313.38M311.32 107.07V111.17M309.27 107.07L313.38 111.17M309.27 111.17L313.38 107.07M310.05 108.72H314.15M312.10 106.67V110.77M310.05 106.67L314.15 110.77M310.05 110.77L314.15 106.67M310.82 107.02H314.93M312.88 104.97V109.07M310.82 104.97L314.93 109.07M310.82 109.07L314.93 104.97M311.60 108.08H315.70M313.65 106.03V110.13M311.60 106.03L315.70 110.13M311.60 110.13L315.70 106.03M312.38 106.64H316.48M314.43 104.59V108.69M312.38 104.59L316.48 108.69M312.38 108.69L316.48 104.59M313.15 106.50H317.25M315.20 104.45V108.55M313.15 104.45L317.25 108.55M313.15 108.55L317.25 104.45M313.93 105.99H318.03M315.98 103.94V108.04M313.93 103.94L318.03 108.04M313.93 108.04L318.03 103.94M314.70 105.04H318.80M316.75 102.99V107.09M314.70 102.99L318.80 107.09M314.70 107.09L318.80 102.99M315.47 104.39H319.57M317.52 102.34V106.44M315.47 102.34L319.57 106.44M315.47 106.44L319.57 102.34M316.25 103.60H320.35M318.30 101.55V105.65M316.25 101.55L320.35 105.65M316.25 105.65L320.35 101.55M317.02 103.39H321.12M319.07 101.34V105.44M317.02 101.34L321.12 105.44M317.02 105.44L321.12 101.34M317.80 103.31H321.90M319.85 101.26V105.36M317.80 101.26L321.90 105.36M317.80 105.36L321.90 101.26M318.57 102.45H322.68M320.62 100.40V104.50M318.57 100.40L322.68 104.50M318.57 104.50L322.68 100.40M319.35 101.62H323.45M321.40 99.57V103.67M319.35 99.57L323.45 103.67M319.35 103.67L323.45 99.57M320.12 100.71H324.23M322.18 98.66V102.76M320.12 98.66L324.23 102.76M320.12 102.76L324.23 98.66M320.90 99.63H325.00M322.95 97.58V101.68M320.90 97.58L325.00 101.68M320.90 101.68L325.00 97.58M321.68 99.30H325.78M323.73 97.25V101.35M321.68 97.25L325.78 101.35M321.68 101.35L325.78 97.25M322.45 98.24H326.55M324.50 96.19V100.29M322.45 96.19L326.55 100.29M322.45 100.29L326.55 96.19M323.22 97.57H327.32M325.27 95.52V99.62M323.22 95.52L327.32 99.62M323.22 99.62L327.32 95.52M324.00 97.41H328.10M326.05 95.36V99.46M324.00 95.36L328.10 99.46M324.00 99.46L328.10 95.36M324.77 97.49H328.88M326.82 95.44V99.54M324.77 95.44L328.88 99.54M324.77 99.54L328.88 95.44M325.55 96.65H329.65M327.60 94.60V98.70M325.55 94.60L329.65 98.70M325.55 98.70L329.65 94.60M326.32 96.04H330.43M328.38 93.99V98.09M326.32 93.99L330.43 98.09M326.32 98.09L330.43 93.99M327.10 93.84H331.20M329.15 91.79V95.89M327.10 91.79L331.20 95.89M327.10 95.89L331.20 91.79M327.88 94.42H331.98M329.93 92.37V96.47M327.88 92.37L331.98 96.47M327.88 96.47L331.98 92.37M328.65 92.32H332.75M330.70 90.27V94.37M328.65 90.27L332.75 94.37M328.65 94.37L332.75 90.27M329.43 91.90H333.53M331.48 89.85V93.95M329.43 89.85L333.53 93.95M329.43 93.95L333.53 89.85M330.20 90.56H334.30M332.25 88.51V92.61M330.20 88.51L334.30 92.61M330.20 92.61L334.30 88.51M330.97 90.12H335.07M333.02 88.07V92.17M330.97 88.07L335.07 92.17M330.97 92.17L335.07 88.07M331.75 89.85H335.85M333.80 87.80V91.90M331.75 87.80L335.85 91.90M331.75 91.90L335.85 87.80M332.52 89.27H336.62M334.57 87.22V91.32M332.52 87.22L336.62 91.32M332.52 91.32L336.62 87.22M333.30 88.19H337.40M335.35 86.14V90.24M333.30 86.14L337.40 90.24M333.30 90.24L337.40 86.14M334.07 87.44H338.18M336.12 85.39V89.49M334.07 85.39L338.18 89.49M334.07 89.49L338.18 85.39M334.85 86.91H338.95M336.90 84.86V88.96M334.85 84.86L338.95 88.96M334.85 88.96L338.95 84.86M335.62 85.74H339.73M337.68 83.69V87.79M335.62 83.69L339.73 87.79M335.62 87.79L339.73 83.69M336.40 83.98H340.50M338.45 81.93V86.03M336.40 81.93L340.50 86.03M336.40 86.03L340.50 81.93M337.18 85.22H341.28M339.23 83.17V87.27M337.18 83.17L341.28 87.27M337.18 87.27L341.28 83.17M337.95 83.38H342.05M340.00 81.33V85.43M337.95 81.33L342.05 85.43M337.95 85.43L342.05 81.33M338.72 84.49H342.82M340.77 82.44V86.54M338.72 82.44L342.82 86.54M338.72 86.54L342.82 82.44M339.50 84.78H343.60M341.55 82.73V86.83M339.50 82.73L343.60 86.83M339.50 86.83L343.60 82.73M340.27 85.34H344.38M342.32 83.29V87.39M340.27 83.29L344.38 87.39M340.27 87.39L344.38 83.29M341.05 86.55H345.15M343.10 84.50V88.60M341.05 84.50L345.15 88.60M341.05 88.60L345.15 84.50M341.82 87.00H345.93M343.88 84.95V89.05M341.82 84.95L345.93 89.05M341.82 89.05L345.93 84.95M342.60 89.17H346.70M344.65 87.12V91.22M342.60 87.12L346.70 91.22M342.60 91.22L346.70 87.12M343.37 88.38H347.47M345.42 86.33V90.43M343.37 86.33L347.47 90.43M343.37 90.43L347.47 86.33M344.15 90.32H348.25M346.20 88.27V92.37M344.15 88.27L348.25 92.37M344.15 92.37L348.25 88.27M344.93 90.33H349.03M346.98 88.28V92.38M344.93 88.28L349.03 92.38M344.93 92.38L349.03 88.28M345.70 91.41H349.80M347.75 89.36V93.46M345.70 89.36L349.80 93.46M345.70 93.46L349.80 89.36M346.47 93.74H350.57M348.52 91.69V95.79M346.47 91.69L350.57 95.79M346.47 95.79L350.57 91.69M347.25 93.41H351.35M349.30 91.36V95.46M347.25 91.36L351.35 95.46M347.25 95.46L351.35 91.36M348.02 93.80H352.12M350.07 91.75V95.85M348.02 91.75L352.12 95.85M348.02 95.85L352.12 91.75M348.80 93.60H352.90M350.85 91.55V95.65M348.80 91.55L352.90 95.65M348.80 95.65L352.90 91.55M349.57 95.17H353.68M351.62 93.12V97.22M349.57 93.12L353.68 97.22M349.57 97.22L353.68 93.12M350.35 95.77H354.45M352.40 93.72V97.82M350.35 93.72L354.45 97.82M350.35 97.82L354.45 93.72M351.12 97.65H355.23M353.18 95.60V99.70M351.12 95.60L355.23 99.70M351.12 99.70L355.23 95.60M351.90 96.87H356.00M353.95 94.82V98.92M351.90 94.82L356.00 98.92M351.90 98.92L356.00 94.82M352.68 97.27H356.78M354.73 95.22V99.32M352.68 95.22L356.78 99.32M352.68 99.32L356.78 95.22M353.45 98.91H357.55M355.50 96.86V100.96M353.45 96.86L357.55 100.96M353.45 100.96L357.55 96.86M354.22 99.78H358.32M356.27 97.73V101.83M354.22 97.73L358.32 101.83M354.22 101.83L358.32 97.73M355.00 100.98H359.10M357.05 98.93V103.03M355.00 98.93L359.10 103.03M355.00 103.03L359.10 98.93M355.77 100.67H359.88M357.82 98.62V102.72M355.77 98.62L359.88 102.72M355.77 102.72L359.88 98.62M356.55 100.34H360.65M358.60 98.29V102.39M356.55 98.29L360.65 102.39M356.55 102.39L360.65 98.29M357.32 102.06H361.43M359.38 100.01V104.11M357.32 100.01L361.43 104.11M357.32 104.11L361.43 100.01M358.10 102.45H362.20M360.15 100.40V104.50M358.10 100.40L362.20 104.50M358.10 104.50L362.20 100.40M358.88 103.26H362.98M360.93 101.21V105.31M358.88 101.21L362.98 105.31M358.88 105.31L362.98 101.21M359.65 104.58H363.75M361.70 102.53V106.63M359.65 102.53L363.75 106.63M359.65 106.63L363.75 102.53M360.43 104.25H364.53M362.48 102.20V106.30M360.43 102.20L364.53 106.30M360.43 106.30L364.53 102.20M361.20 105.97H365.30M363.25 103.92V108.02M361.20 103.92L365.30 108.02M361.20 108.02L365.30 103.92M361.97 106.07H366.07M364.02 104.02V108.12M361.97 104.02L366.07 108.12M361.97 108.12L366.07 104.02M362.75 106.48H366.85M364.80 104.43V108.53M362.75 104.43L366.85 108.53M362.75 108.53L366.85 104.43M363.52 106.76H367.62M365.57 104.71V108.81M363.52 104.71L367.62 108.81M363.52 108.81L367.62 104.71M364.30 107.51H368.40M366.35 105.46V109.56M364.30 105.46L368.40 109.56M364.30 109.56L368.40 105.46M365.07 108.17H369.18M367.12 106.12V110.22M365.07 106.12L369.18 110.22M365.07 110.22L369.18 106.12M365.85 109.21H369.95M367.90 107.16V111.26M365.85 107.16L369.95 111.26M365.85 111.26L369.95 107.16M366.62 109.88H370.73M368.68 107.83V111.93M366.62 107.83L370.73 111.93M366.62 111.93L370.73 107.83M367.40 109.74H371.50M369.45 107.69V111.79M367.40 107.69L371.50 111.79M367.40 111.79L371.50 107.69M368.18 110.63H372.28M370.23 108.58V112.68M368.18 108.58L372.28 112.68M368.18 112.68L372.28 108.58M368.95 111.41H373.05M371.00 109.36V113.46M368.95 109.36L373.05 113.46M368.95 113.46L373.05 109.36M369.72 111.77H373.82M371.77 109.72V113.82M369.72 109.72L373.82 113.82M369.72 113.82L373.82 109.72M370.50 111.98H374.60M372.55 109.93V114.03M370.50 109.93L374.60 114.03M370.50 114.03L374.60 109.93M371.28 113.00H375.38M373.33 110.95V115.05M371.28 110.95L375.38 115.05M371.28 115.05L375.38 110.95M372.05 113.25H376.15M374.10 111.20V115.30M372.05 111.20L376.15 115.30M372.05 115.30L376.15 111.20M372.82 113.71H376.93M374.88 111.66V115.76M372.82 111.66L376.93 115.76M372.82 115.76L376.93 111.66M373.60 113.62H377.70M375.65 111.57V115.67M373.60 111.57L377.70 115.67M373.60 115.67L377.70 111.57M374.38 113.96H378.48M376.43 111.91V116.01M374.38 111.91L378.48 116.01M374.38 116.01L378.48 111.91M375.15 113.88H379.25M377.20 111.83V115.93M375.15 111.83L379.25 115.93M375.15 115.93L379.25 111.83M375.93 115.56H380.03M377.98 113.51V117.61M375.93 113.51L380.03 117.61M375.93 117.61L380.03 113.51M376.70 115.58H380.80M378.75 113.53V117.63M376.70 113.53L380.80 117.63M376.70 117.63L380.80 113.53M377.47 115.44H381.57M379.52 113.39V117.49M377.47 113.39L381.57 117.49M377.47 117.49L381.57 113.39M378.25 116.25H382.35M380.30 114.20V118.30M378.25 114.20L382.35 118.30M378.25 118.30L382.35 114.20M379.02 116.71H383.12M381.07 114.66V118.76M379.02 114.66L383.12 118.76M379.02 118.76L383.12 114.66M379.80 116.27H383.90M381.85 114.22V118.32M379.80 114.22L383.90 118.32M379.80 118.32L383.90 114.22M380.57 117.41H384.68M382.62 115.36V119.46M380.57 115.36L384.68 119.46M380.57 119.46L384.68 115.36M381.35 117.95H385.45M383.40 115.90V120.00M381.35 115.90L385.45 120.00M381.35 120.00L385.45 115.90M382.12 118.34H386.22M384.17 116.29V120.39M382.12 116.29L386.22 120.39M382.12 120.39L386.22 116.29M382.90 118.16H387.00M384.95 116.11V120.21M382.90 116.11L387.00 120.21M382.90 120.21L387.00 116.11M383.68 118.57H387.78M385.73 116.52V120.62M383.68 116.52L387.78 120.62M383.68 120.62L387.78 116.52M384.45 119.39H388.55M386.50 117.34V121.44M384.45 117.34L388.55 121.44M384.45 121.44L388.55 117.34M385.22 119.53H389.32M387.27 117.48V121.58M385.22 117.48L389.32 121.58M385.22 121.58L389.32 117.48M386.00 119.44H390.10M388.05 117.39V121.49M386.00 117.39L390.10 121.49M386.00 121.49L390.10 117.39M386.77 119.75H390.88M388.82 117.70V121.80M386.77 117.70L390.88 121.80M386.77 121.80L390.88 117.70M387.55 120.29H391.65M389.60 118.24V122.34M387.55 118.24L391.65 122.34M387.55 122.34L391.65 118.24M388.32 120.33H392.43M390.38 118.28V122.38M388.32 118.28L392.43 122.38M388.32 122.38L392.43 118.28M389.10 120.72H393.20M391.15 118.67V122.77M389.10 118.67L393.20 122.77M389.10 122.77L393.20 118.67M389.87 121.55H393.97M391.92 119.50V123.60M389.87 119.50L393.97 123.60M389.87 123.60L393.97 119.50M390.65 121.41H394.75M392.70 119.36V123.46M390.65 119.36L394.75 123.46M390.65 123.46L394.75 119.36M391.43 121.55H395.53M393.48 119.50V123.60M391.43 119.50L395.53 123.60M391.43 123.60L395.53 119.50M392.20 122.05H396.30M394.25 120.00V124.10M392.20 120.00L396.30 124.10M392.20 124.10L396.30 120.00M392.97 122.67H397.07M395.02 120.62V124.72M392.97 120.62L397.07 124.72M392.97 124.72L397.07 120.62M393.75 122.49H397.85M395.80 120.44V124.54M393.75 120.44L397.85 124.54M393.75 124.54L397.85 120.44M394.52 122.33H398.62M396.57 120.28V124.38M394.52 120.28L398.62 124.38M394.52 124.38L398.62 120.28M395.30 122.43H399.40M397.35 120.38V124.48M395.30 120.38L399.40 124.48M395.30 124.48L399.40 120.38M396.07 123.63H400.18M398.12 121.58V125.68M396.07 121.58L400.18 125.68M396.07 125.68L400.18 121.58M396.85 122.68H400.95M398.90 120.63V124.73M396.85 120.63L400.95 124.73M396.85 124.73L400.95 120.63M397.62 123.76H401.73M399.68 121.71V125.81M397.62 121.71L401.73 125.81M397.62 125.81L401.73 121.71M398.40 123.50H402.50M400.45 121.45V125.55M398.40 121.45L402.50 125.55M398.40 125.55L402.50 121.45M399.18 123.65H403.28M401.23 121.60V125.70M399.18 121.60L403.28 125.70M399.18 125.70L403.28 121.60M399.95 123.86H404.05M402.00 121.81V125.91M399.95 121.81L404.05 125.91M399.95 125.91L404.05 121.81M400.72 124.27H404.82M402.77 122.22V126.32M400.72 122.22L404.82 126.32M400.72 126.32L404.82 122.22M401.50 124.73H405.60M403.55 122.68V126.78M401.50 122.68L405.60 126.78M401.50 126.78L405.60 122.68M402.28 124.55H406.38M404.33 122.50V126.60M402.28 122.50L406.38 126.60M402.28 126.60L406.38 122.50M403.05 125.02H407.15M405.10 122.97V127.07M403.05 122.97L407.15 127.07M403.05 127.07L407.15 122.97M403.82 125.54H407.93M405.88 123.49V127.59M403.82 123.49L407.93 127.59M403.82 127.59L407.93 123.49M404.60 124.61H408.70M406.65 122.56V126.66M404.60 122.56L408.70 126.66M404.60 126.66L408.70 122.56M405.37 125.22H409.47M407.42 123.17V127.27M405.37 123.17L409.47 127.27M405.37 127.27L409.47 123.17M406.15 125.17H410.25M408.20 123.12V127.22M406.15 123.12L410.25 127.22M406.15 127.22L410.25 123.12M406.93 125.84H411.03M408.98 123.79V127.89M406.93 123.79L411.03 127.89M406.93 127.89L411.03 123.79M407.70 125.52H411.80M409.75 123.47V127.57M407.70 123.47L411.80 127.57M407.70 127.57L411.80 123.47M408.47 125.65H412.57M410.52 123.60V127.70M408.47 123.60L412.57 127.70M408.47 127.70L412.57 123.60M409.25 125.84H413.35M411.30 123.79V127.89M409.25 123.79L413.35 127.89M409.25 127.89L413.35 123.79M410.03 126.27H414.13M412.08 124.22V128.32M410.03 124.22L414.13 128.32M410.03 128.32L414.13 124.22M410.80 126.65H414.90M412.85 124.60V128.70M410.80 124.60L414.90 128.70M410.80 128.70L414.90 124.60M411.57 126.59H415.68M413.62 124.54V128.64M411.57 124.54L415.68 128.64M411.57 128.64L415.68 124.54M412.35 127.05H416.45M414.40 125.00V129.10M412.35 125.00L416.45 129.10M412.35 129.10L416.45 125.00M413.12 127.07H417.23M415.18 125.02V129.12M413.12 125.02L417.23 129.12M413.12 129.12L417.23 125.02M413.90 126.88H418.00M415.95 124.83V128.93M413.90 124.83L418.00 128.93M413.90 128.93L418.00 124.83M414.68 127.17H418.78M416.73 125.12V129.22M414.68 125.12L418.78 129.22M414.68 129.22L418.78 125.12M415.45 127.17H419.55M417.50 125.12V129.22M415.45 125.12L419.55 129.22M415.45 129.22L419.55 125.12" stroke="#0000ff" stroke-width="0.68" fill="none"/>
<path d="M260.45 123.29H264.55V127.39H260.45ZM262.20 125.34h0.6M261.22 122.84H265.32V126.94H261.22ZM262.97 124.89h0.6M262.00 122.91H266.10V127.01H262.00ZM263.75 124.96h0.6M262.77 123.10H266.88V127.20H262.77ZM264.52 125.15h0.6M263.55 122.74H267.65V126.84H263.55ZM265.30 124.79h0.6M264.32 123.11H268.43V127.21H264.32ZM266.07 125.16h0.6M265.10 122.96H269.20V127.06H265.10ZM266.85 125.01h0.6M265.88 122.57H269.98V126.67H265.88ZM267.62 124.62h0.6M266.65 123.00H270.75V127.10H266.65ZM268.40 125.05h0.6M267.43 122.72H271.53V126.82H267.43ZM269.18 124.77h0.6M268.20 122.88H272.30V126.98H268.20ZM269.95 124.93h0.6M268.97 122.39H273.07V126.49H268.97ZM270.72 124.44h0.6M269.75 122.05H273.85V126.15H269.75ZM271.50 124.10h0.6M270.52 122.47H274.62V126.57H270.52ZM272.27 124.52h0.6M271.30 122.16H275.40V126.26H271.30ZM273.05 124.21h0.6M272.07 122.28H276.18V126.38H272.07ZM273.82 124.33h0.6M272.85 122.19H276.95V126.29H272.85ZM274.60 124.24h0.6M273.62 122.20H277.73V126.30H273.62ZM275.38 124.25h0.6M274.40 121.44H278.50V125.54H274.40ZM276.15 123.49h0.6M275.18 121.16H279.28V125.26H275.18ZM276.93 123.21h0.6M275.95 121.54H280.05V125.64H275.95ZM277.70 123.59h0.6M276.72 121.67H280.82V125.77H276.72ZM278.47 123.72h0.6M277.50 121.25H281.60V125.35H277.50ZM279.25 123.30h0.6M278.27 121.37H282.38V125.47H278.27ZM280.02 123.42h0.6M279.05 120.99H283.15V125.09H279.05ZM280.80 123.04h0.6M279.82 121.01H283.93V125.11H279.82ZM281.57 123.06h0.6M280.60 120.88H284.70V124.98H280.60ZM282.35 122.93h0.6M281.38 120.70H285.48V124.80H281.38ZM283.12 122.75h0.6M282.15 120.88H286.25V124.98H282.15ZM283.90 122.93h0.6M282.93 120.73H287.03V124.83H282.93ZM284.68 122.78h0.6M283.70 120.84H287.80V124.94H283.70ZM285.45 122.89h0.6M284.47 120.45H288.57V124.55H284.47ZM286.22 122.50h0.6M285.25 120.56H289.35V124.66H285.25ZM287.00 122.61h0.6M286.02 120.02H290.12V124.12H286.02ZM287.77 122.07h0.6M286.80 120.17H290.90V124.27H286.80ZM288.55 122.22h0.6M287.57 119.78H291.68V123.88H287.57ZM289.32 121.83h0.6M288.35 119.55H292.45V123.65H288.35ZM290.10 121.60h0.6M289.12 119.87H293.23V123.97H289.12ZM290.88 121.92h0.6M289.90 119.54H294.00V123.64H289.90ZM291.65 121.59h0.6M290.68 119.46H294.78V123.56H290.68ZM292.43 121.51h0.6M291.45 118.90H295.55V123.00H291.45ZM293.20 120.95h0.6M292.22 118.36H296.32V122.46H292.22ZM293.97 120.41h0.6M293.00 118.43H297.10V122.53H293.00ZM294.75 120.48h0.6M293.77 118.60H297.88V122.70H293.77ZM295.52 120.65h0.6M294.55 118.02H298.65V122.12H294.55ZM296.30 120.07h0.6M295.32 118.60H299.43V122.70H295.32ZM297.07 120.65h0.6M296.10 117.60H300.20V121.70H296.10ZM297.85 119.65h0.6M296.88 118.03H300.98V122.13H296.88ZM298.62 120.08h0.6M297.65 118.45H301.75V122.55H297.65ZM299.40 120.50h0.6M298.43 116.61H302.53V120.71H298.43ZM300.18 118.66h0.6M299.20 116.85H303.30V120.95H299.20ZM300.95 118.90h0.6M299.97 117.39H304.07V121.49H299.97ZM301.72 119.44h0.6M300.75 116.88H304.85V120.98H300.75ZM302.50 118.93h0.6M301.52 116.78H305.62V120.88H301.52ZM303.27 118.83h0.6M302.30 116.41H306.40V120.51H302.30ZM304.05 118.46h0.6M303.07 116.77H307.18V120.87H303.07ZM304.82 118.82h0.6M303.85 116.24H307.95V120.34H303.85ZM305.60 118.29h0.6M304.62 115.62H308.73V119.72H304.62ZM306.38 117.67h0.6M305.40 115.51H309.50V119.61H305.40ZM307.15 117.56h0.6M306.18 114.89H310.28V118.99H306.18ZM307.93 116.94h0.6M306.95 115.05H311.05V119.15H306.95ZM308.70 117.10h0.6M307.72 114.04H311.82V118.14H307.72ZM309.47 116.09h0.6M308.50 114.83H312.60V118.93H308.50ZM310.25 116.88h0.6M309.27 114.21H313.38V118.31H309.27ZM311.02 116.26h0.6M310.05 114.74H314.15V118.84H310.05ZM311.80 116.79h0.6M310.82 114.14H314.93V118.24H310.82ZM312.57 116.19h0.6M311.60 112.98H315.70V117.08H311.60ZM313.35 115.03h0.6M312.38 113.37H316.48V117.47H312.38ZM314.12 115.42h0.6M313.15 112.59H317.25V116.69H313.15ZM314.90 114.64h0.6M313.93 112.50H318.03V116.60H313.93ZM315.68 114.55h0.6M314.70 112.54H318.80V116.64H314.70ZM316.45 114.59h0.6M315.47 111.92H319.57V116.02H315.47ZM317.22 113.97h0.6M316.25 111.66H320.35V115.76H316.25ZM318.00 113.71h0.6M317.02 111.27H321.12V115.37H317.02ZM318.77 113.32h0.6M317.80 110.54H321.90V114.64H317.80ZM319.55 112.59h0.6M318.57 110.13H322.68V114.23H318.57ZM320.32 112.18h0.6M319.35 110.16H323.45V114.26H319.35ZM321.10 112.21h0.6M320.12 109.90H324.23V114.00H320.12ZM321.88 111.95h0.6M320.90 108.85H325.00V112.95H320.90ZM322.65 110.90h0.6M321.68 108.65H325.78V112.75H321.68ZM323.43 110.70h0.6M322.45 107.68H326.55V111.78H322.45ZM324.20 109.73h0.6M323.22 106.55H327.32V110.65H323.22ZM324.97 108.60h0.6M324.00 106.93H328.10V111.03H324.00ZM325.75 108.98h0.6M324.77 106.68H328.88V110.78H324.77ZM326.52 108.73h0.6M325.55 106.17H329.65V110.27H325.55ZM327.30 108.22h0.6M326.32 105.85H330.43V109.95H326.32ZM328.07 107.90h0.6M327.10 105.22H331.20V109.32H327.10ZM328.85 107.27h0.6M327.88 104.61H331.98V108.71H327.88ZM329.62 106.66h0.6M328.65 103.70H332.75V107.80H328.65ZM330.40 105.75h0.6M329.43 102.87H333.53V106.97H329.43ZM331.18 104.92h0.6M330.20 101.59H334.30V105.69H330.20ZM331.95 103.64h0.6M330.97 101.27H335.07V105.37H330.97ZM332.72 103.32h0.6M331.75 100.22H335.85V104.32H331.75ZM333.50 102.27h0.6M332.52 99.64H336.62V103.74H332.52ZM334.27 101.69h0.6M333.30 96.96H337.40V101.06H333.30ZM335.05 99.01h0.6M334.07 96.17H338.18V100.27H334.07ZM335.82 98.22h0.6M334.85 94.15H338.95V98.25H334.85ZM336.60 96.20h0.6M335.62 92.64H339.73V96.74H335.62ZM337.38 94.69h0.6M336.40 89.76H340.50V93.86H336.40ZM338.15 91.81h0.6M337.18 88.40H341.28V92.50H337.18ZM338.93 90.45h0.6M337.95 84.05H342.05V88.15H337.95ZM339.70 86.10h0.6M338.72 88.60H342.82V92.70H338.72ZM340.47 90.65h0.6M339.50 91.27H343.60V95.37H339.50ZM341.25 93.32h0.6M340.27 92.38H344.38V96.48H340.27ZM342.02 94.43h0.6M341.05 94.29H345.15V98.39H341.05ZM342.80 96.34h0.6M341.82 96.44H345.93V100.54H341.82ZM343.57 98.49h0.6M342.60 97.44H346.70V101.54H342.60ZM344.35 99.49h0.6M343.37 98.36H347.47V102.46H343.37ZM345.12 100.41h0.6M344.15 100.48H348.25V104.58H344.15ZM345.90 102.53h0.6M344.93 100.80H349.03V104.90H344.93ZM346.68 102.85h0.6M345.70 102.30H349.80V106.40H345.70ZM347.45 104.35h0.6M346.47 103.14H350.57V107.24H346.47ZM348.22 105.19h0.6M347.25 103.87H351.35V107.97H347.25ZM349.00 105.92h0.6M348.02 104.30H352.12V108.40H348.02ZM349.77 106.35h0.6M348.80 104.94H352.90V109.04H348.80ZM350.55 106.99h0.6M349.57 105.26H353.68V109.36H349.57ZM351.32 107.31h0.6M350.35 106.66H354.45V110.76H350.35ZM352.10 108.71h0.6M351.12 105.81H355.23V109.91H351.12ZM352.88 107.86h0.6M351.90 106.64H356.00V110.74H351.90ZM353.65 108.69h0.6M352.68 107.36H356.78V111.46H352.68ZM354.43 109.41h0.6M353.45 108.34H357.55V112.44H353.45ZM355.20 110.39h0.6M354.22 108.72H358.32V112.82H354.22ZM355.97 110.77h0.6M355.00 108.97H359.10V113.07H355.00ZM356.75 111.02h0.6M355.77 109.40H359.88V113.50H355.77ZM357.52 111.45h0.6M356.55 110.65H360.65V114.75H356.55ZM358.30 112.70h0.6M357.32 110.10H361.43V114.20H357.32ZM359.07 112.15h0.6M358.10 109.58H362.20V113.68H358.10ZM359.85 111.63h0.6M358.88 111.80H362.98V115.90H358.88ZM360.62 113.85h0.6M359.65 111.05H363.75V115.15H359.65ZM361.40 113.10h0.6M360.43 111.71H364.53V115.81H360.43ZM362.18 113.76h0.6M361.20 112.27H365.30V116.37H361.20ZM362.95 114.32h0.6M361.97 111.98H366.07V116.08H361.97ZM363.72 114.03h0.6M362.75 113.23H366.85V117.33H362.75ZM364.50 115.28h0.6M363.52 113.08H367.62V117.18H363.52ZM365.27 115.13h0.6M364.30 112.89H368.40V116.99H364.30ZM366.05 114.94h0.6M365.07 113.81H369.18V117.91H365.07ZM366.82 115.86h0.6M365.85 114.14H369.95V118.24H365.85ZM367.60 116.19h0.6M366.62 114.25H370.73V118.35H366.62ZM368.38 116.30h0.6M367.40 114.70H371.50V118.80H367.40ZM369.15 116.75h0.6M368.18 114.20H372.28V118.30H368.18ZM369.93 116.25h0.6M368.95 115.37H373.05V119.47H368.95ZM370.70 117.42h0.6M369.72 114.95H373.82V119.05H369.72ZM371.47 117.00h0.6M370.50 115.94H374.60V120.04H370.50ZM372.25 117.99h0.6M371.28 115.60H375.38V119.70H371.28ZM373.03 117.65h0.6M372.05 115.97H376.15V120.07H372.05ZM373.80 118.02h0.6M372.82 116.96H376.93V121.06H372.82ZM374.57 119.01h0.6M373.60 116.45H377.70V120.55H373.60ZM375.35 118.50h0.6M374.38 117.05H378.48V121.15H374.38ZM376.12 119.10h0.6M375.15 117.03H379.25V121.13H375.15ZM376.90 119.08h0.6M375.93 116.54H380.03V120.64H375.93ZM377.68 118.59h0.6M376.70 117.66H380.80V121.76H376.70ZM378.45 119.71h0.6M377.47 117.88H381.57V121.98H377.47ZM379.22 119.93h0.6M378.25 117.25H382.35V121.35H378.25ZM380.00 119.30h0.6M379.02 117.80H383.12V121.90H379.02ZM380.77 119.85h0.6M379.80 117.64H383.90V121.74H379.80ZM381.55 119.69h0.6M380.57 118.14H384.68V122.24H380.57ZM382.32 120.19h0.6M381.35 118.69H385.45V122.79H381.35ZM383.10 120.74h0.6M382.12 118.46H386.22V122.56H382.12ZM383.87 120.51h0.6M382.90 118.41H387.00V122.51H382.90ZM384.65 120.46h0.6M383.68 118.61H387.78V122.71H383.68ZM385.43 120.66h0.6M384.45 119.07H388.55V123.17H384.45ZM386.20 121.12h0.6M385.22 119.26H389.32V123.36H385.22ZM386.97 121.31h0.6M386.00 119.40H390.10V123.50H386.00ZM387.75 121.45h0.6M386.77 119.68H390.88V123.78H386.77ZM388.52 121.73h0.6M387.55 119.06H391.65V123.16H387.55ZM389.30 121.11h0.6M388.32 119.81H392.43V123.91H388.32ZM390.07 121.86h0.6M389.10 120.19H393.20V124.29H389.10ZM390.85 122.24h0.6M389.87 120.23H393.97V124.33H389.87ZM391.62 122.28h0.6M390.65 120.03H394.75V124.13H390.65ZM392.40 122.08h0.6M391.43 120.13H395.53V124.23H391.43ZM393.18 122.18h0.6M392.20 120.47H396.30V124.57H392.20ZM393.95 122.52h0.6M392.97 120.77H397.07V124.87H392.97ZM394.72 122.82h0.6M393.75 120.69H397.85V124.79H393.75ZM395.50 122.74h0.6M394.52 121.29H398.62V125.39H394.52ZM396.27 123.34h0.6M395.30 121.26H399.40V125.36H395.30ZM397.05 123.31h0.6M396.07 120.86H400.18V124.96H396.07ZM397.82 122.91h0.6M396.85 121.34H400.95V125.44H396.85ZM398.60 123.39h0.6M397.62 121.19H401.73V125.29H397.62ZM399.38 123.24h0.6M398.40 121.08H402.50V125.18H398.40ZM400.15 123.13h0.6M399.18 121.30H403.28V125.40H399.18ZM400.93 123.35h0.6M399.95 121.58H404.05V125.68H399.95ZM401.70 123.63h0.6M400.72 121.17H404.82V125.27H400.72ZM402.47 123.22h0.6M401.50 121.61H405.60V125.71H401.50ZM403.25 123.66h0.6M402.28 121.95H406.38V126.05H402.28ZM404.03 124.00h0.6M403.05 121.80H407.15V125.90H403.05ZM404.80 123.85h0.6M403.82 122.07H407.93V126.17H403.82ZM405.57 124.12h0.6M404.60 122.40H408.70V126.50H404.60ZM406.35 124.45h0.6M405.37 122.26H409.47V126.36H405.37ZM407.12 124.31h0.6M406.15 122.45H410.25V126.55H406.15ZM407.90 124.50h0.6M406.93 122.85H411.03V126.95H406.93ZM408.68 124.90h0.6M407.70 122.62H411.80V126.72H407.70ZM409.45 124.67h0.6M408.47 122.66H412.57V126.76H408.47ZM410.22 124.71h0.6M409.25 122.81H413.35V126.91H409.25ZM411.00 124.86h0.6M410.03 123.18H414.13V127.28H410.03ZM411.78 125.23h0.6M410.80 122.97H414.90V127.07H410.80ZM412.55 125.02h0.6M411.57 122.98H415.68V127.08H411.57ZM413.32 125.03h0.6M412.35 123.07H416.45V127.17H412.35ZM414.10 125.12h0.6M413.12 123.42H417.23V127.52H413.12ZM414.88 125.47h0.6M413.90 123.08H418.00V127.18H413.90ZM415.65 125.13h0.6M414.68 123.49H418.78V127.59H414.68ZM416.43 125.54h0.6M415.45 123.37H419.55V127.47H415.45ZM417.20 125.42h0.6" stroke="#ff00ff" stroke-width="0.46" fill="none"/>
<text x="263.20" y="145.1" text-anchor="middle">-5</text>
<text x="278.70" y="145.1" text-anchor="middle">-4</text>
<text x="294.20" y="145.1" text-anchor="middle">-3</text>
<text x="309.70" y="145.1" text-anchor="middle">-2</text>
<text x="325.20" y="145.1" text-anchor="middle">-1</text>
<text x="341.60" y="145.1" text-anchor="middle">0</text>
<text x="357.10" y="145.1" text-anchor="middle">1</text>
<text x="372.60" y="145.1" text-anchor="middle">2</text>
<text x="388.10" y="145.1" text-anchor="middle">3</text>
<text x="403.60" y="145.1" text-anchor="middle">4</text>
<text x="419.10" y="145.1" text-anchor="middle">5</text>
<text x="256.2" y="134.90" text-anchor="end">0</text>
<text x="256.2" y="115.32" text-anchor="end">0.1</text>
<text x="256.2" y="95.73" text-anchor="end">0.2</text>
<text x="256.2" y="76.15" text-anchor="end">0.3</text>
<text x="256.2" y="56.57" text-anchor="end">0.4</text>
<text x="256.2" y="36.98" text-anchor="end">0.5</text>
<text x="256.2" y="17.40" text-anchor="end">0.6</text>
<text x="340.80" y="155.9" text-anchor="middle" font-size="12" stroke="#000" stroke-width="0.2">x</text>
<text transform="translate(222.20 75.90) rotate(-90)" text-anchor="start" font-size="11.4" stroke="#000" stroke-width="0.15">p(x,15)</text>
<text x="361.0" y="28.00" text-anchor="end">ν=1.0 α=2.0</text>
<path d="M383.75 24.10H387.85M385.80 22.05V26.15" stroke="#ff0000" stroke-width="0.6" fill="none"/>
<text x="361.0" y="42.00" text-anchor="end">ν=1.0 α=1.2</text>
<path d="M383.75 36.05L387.85 40.15M383.75 40.15L387.85 36.05" stroke="#00ff00" stroke-width="0.6" fill="none"/>
<text x="361.0" y="56.00" text-anchor="end">ν=0.6 α=2.0</text>
<path d="M383.75 52.10H387.85M385.80 50.05V54.15M383.75 50.05L387.85 54.15M383.75 54.15L387.85 50.05" stroke="#0000ff" stroke-width="0.68" fill="none"/>
<text x="361.0" y="70.00" text-anchor="end">ν=0.6 α=1.2</text>
<path d="M383.75 64.05H387.85V68.15H383.75ZM385.50 66.10h0.6" stroke="#ff00ff" stroke-width="0.46" fill="none"/>
<path d="M38.4 165.7H199.6V283.4H38.4Z" stroke="#000" stroke-width="1.0" fill="none"/>
<path d="M38.40 283.4v-4.0M38.40 165.7v4.0M50.53 283.4v-2.2M50.53 165.7v2.2M57.63 283.4v-2.2M57.63 165.7v2.2M62.66 283.4v-2.2M62.66 165.7v2.2M66.57 283.4v-2.2M66.57 165.7v2.2M69.76 283.4v-2.2M69.76 165.7v2.2M72.46 283.4v-2.2M72.46 165.7v2.2M74.79 283.4v-2.2M74.79 165.7v2.2M76.86 283.4v-2.2M76.86 165.7v2.2M78.70 283.4v-4.0M78.70 165.7v4.0M90.83 283.4v-2.2M90.83 165.7v2.2M97.93 283.4v-2.2M97.93 165.7v2.2M102.96 283.4v-2.2M102.96 165.7v2.2M106.87 283.4v-2.2M106.87 165.7v2.2M110.06 283.4v-2.2M110.06 165.7v2.2M112.76 283.4v-2.2M112.76 165.7v2.2M115.09 283.4v-2.2M115.09 165.7v2.2M117.16 283.4v-2.2M117.16 165.7v2.2M119.00 283.4v-4.0M119.00 165.7v4.0M131.13 283.4v-2.2M131.13 165.7v2.2M138.23 283.4v-2.2M138.23 165.7v2.2M143.26 283.4v-2.2M143.26 165.7v2.2M147.17 283.4v-2.2M147.17 165.7v2.2M150.36 283.4v-2.2M150.36 165.7v2.2M153.06 283.4v-2.2M153.06 165.7v2.2M155.39 283.4v-2.2M155.39 165.7v2.2M157.46 283.4v-2.2M157.46 165.7v2.2M159.30 283.4v-4.0M159.30 165.7v4.0M171.43 283.4v-2.2M171.43 165.7v2.2M178.53 283.4v-2.2M178.53 165.7v2.2M183.56 283.4v-2.2M183.56 165.7v2.2M187.47 283.4v-2.2M187.47 165.7v2.2M190.66 283.4v-2.2M190.66 165.7v2.2M193.36 283.4v-2.2M193.36 165.7v2.2M195.69 283.4v-2.2M195.69 165.7v2.2M197.76 283.4v-2.2M197.76 165.7v2.2M199.60 283.4v-4.0M199.60 165.7v4.0M38.4 283.40h4.0M199.6 283.40h-4.0M38.4 271.59h2.2M199.6 271.59h-2.2M38.4 264.68h2.2M199.6 264.68h-2.2M38.4 259.78h2.2M199.6 259.78h-2.2M38.4 255.98h2.2M199.6 255.98h-2.2M38.4 252.87h2.2M199.6 252.87h-2.2M38.4 250.24h2.2M199.6 250.24h-2.2M38.4 247.97h2.2M199.6 247.97h-2.2M38.4 245.96h2.2M199.6 245.96h-2.2M38.4 244.17h4.0M199.6 244.17h-4.0M38.4 232.36h2.2M199.6 232.36h-2.2M38.4 225.45h2.2M199.6 225.45h-2.2M38.4 220.55h2.2M199.6 220.55h-2.2M38.4 216.74h2.2M199.6 216.74h-2.2M38.4 213.64h2.2M199.6 213.64h-2.2M38.4 211.01h2.2M199.6 211.01h-2.2M38.4 208.74h2.2M199.6 208.74h-2.2M38.4 206.73h2.2M199.6 206.73h-2.2M38.4 204.93h4.0M199.6 204.93h-4.0M38.4 193.12h2.2M199.6 193.12h-2.2M38.4 186.21h2.2M199.6 186.21h-2.2M38.4 181.31h2.2M199.6 181.31h-2.2M38.4 177.51h2.2M199.6 177.51h-2.2M38.4 174.40h2.2M199.6 174.40h-2.2M38.4 171.78h2.2M199.6 171.78h-2.2M38.4 169.50h2.2M199.6 169.50h-2.2M38.4 167.50h2.2M199.6 167.50h-2.2M38.4 165.70h4.0M199.6 165.70h-4.0" stroke="#000" stroke-width="0.8" fill="none"/>
<path d="M100.77 267.79H104.87M102.82 265.74V269.84M99.78 259.78H103.88M101.83 257.73V261.83M99.06 254.35H103.16M101.11 252.30V256.40M98.46 250.24H102.56M100.51 248.19V252.29M97.95 246.94H102.05M100.00 244.89V248.99M97.50 244.17H101.60M99.55 242.12V246.22M97.09 241.79H101.19M99.14 239.74V243.84M96.73 239.70H100.83M98.78 237.65V241.75M96.39 237.84H100.49M98.44 235.79V239.89M96.07 236.16H100.17M98.12 234.11V238.21M95.78 234.63H99.88M97.83 232.58V236.68M95.50 233.23H99.60M97.55 231.18V235.28M95.23 231.94H99.33M97.28 229.89V233.99M94.98 230.73H99.08M97.03 228.68V232.78M94.73 229.61H98.83M96.78 227.56V231.66M94.50 228.55H98.60M96.55 226.50V230.60M94.27 227.56H98.37M96.32 225.51V229.61M94.05 226.62H98.15M96.10 224.57V228.67M93.84 225.73H97.94M95.89 223.68V227.78M93.64 224.89H97.74M95.69 222.84V226.94M93.44 224.08H97.54M95.49 222.03V226.13M93.25 223.31H97.35M95.30 221.26V225.36M93.06 222.58H97.16M95.11 220.53V224.63M92.88 221.87H96.98M94.93 219.82V223.92M92.70 221.20H96.80M94.75 219.15V223.25M92.53 220.55H96.63M94.58 218.50V222.60M92.35 219.92H96.45M94.40 217.87V221.97M92.18 219.31H96.28M94.23 217.26V221.36M92.02 218.73H96.12M94.07 216.68V220.78M91.85 218.16H95.95M93.90 216.11V220.21M91.69 217.62H95.79M93.74 215.57V219.67M91.54 217.09H95.64M93.59 215.04V219.14M91.38 216.57H95.48M93.43 214.52V218.62M91.22 216.08H95.32M93.27 214.03V218.13M91.07 215.59H95.17M93.12 213.54V217.64M90.92 215.12H95.02M92.97 213.07V217.17M90.78 214.66H94.88M92.83 212.61V216.71M90.63 214.21H94.73M92.68 212.16V216.26M90.49 213.78H94.59M92.54 211.73V215.83M90.35 213.36H94.45M92.40 211.31V215.41M90.20 212.94H94.30M92.25 210.89V214.99M90.07 212.54H94.17M92.12 210.49V214.59M89.93 212.14H94.03M91.98 210.09V214.19M89.79 211.76H93.89M91.84 209.71V213.81M89.66 211.38H93.76M91.71 209.33V213.43M89.53 211.01H93.63M91.58 208.96V213.06M89.39 210.65H93.49M91.44 208.60V212.70M89.26 210.30H93.36M91.31 208.25V212.35M89.13 209.95H93.23M91.18 207.90V212.00M89.00 209.61H93.10M91.05 207.56V211.66M88.88 209.28H92.98M90.93 207.23V211.33M88.75 208.95H92.85M90.80 206.90V211.00M88.62 208.63H92.72M90.67 206.58V210.68M88.50 208.31H92.60M90.55 206.26V210.36M88.37 208.01H92.47M90.42 205.96V210.06M88.25 207.70H92.35M90.30 205.65V209.75M88.13 207.40H92.23M90.18 205.35V209.45M88.01 207.11H92.11M90.06 205.06V209.16M87.88 206.82H91.98M89.93 204.77V208.87M87.76 206.54H91.86M89.81 204.49V208.59M87.65 206.26H91.75M89.70 204.21V208.31M87.53 205.99H91.63M89.58 203.94V208.04M87.41 205.72H91.51M89.46 203.67V207.77M87.29 205.45H91.39M89.34 203.40V207.50M87.17 205.19H91.27M89.22 203.14V207.24M87.05 204.93H91.15M89.10 202.88V206.98M86.94 204.68H91.04M88.99 202.63V206.73M86.82 204.43H90.92M88.87 202.38V206.48M86.71 204.18H90.81M88.76 202.13V206.23M86.59 203.94H90.69M88.64 201.89V205.99M86.48 203.70H90.58M88.53 201.65V205.75M86.36 203.46H90.46M88.41 201.41V205.51M86.25 203.23H90.35M88.30 201.18V205.28M86.14 203.00H90.24M88.19 200.95V205.05M86.02 202.78H90.12M88.07 200.73V204.83M85.91 202.55H90.01M87.96 200.50V204.60M85.80 202.33H89.90M87.85 200.28V204.38M85.68 202.11H89.78M87.73 200.06V204.16M85.57 201.90H89.67M87.62 199.85V203.95M85.46 201.69H89.56M87.51 199.64V203.74M85.35 201.48H89.45M87.40 199.43V203.53M85.24 201.27H89.34M87.29 199.22V203.32M85.13 201.06H89.23M87.18 199.01V203.11M85.02 200.86H89.12M87.07 198.81V202.91M84.91 200.66H89.01M86.96 198.61V202.71M84.79 200.46H88.89M86.84 198.41V202.51M84.68 200.27H88.78M86.73 198.22V202.32M84.58 200.07H88.68M86.63 198.02V202.12M84.47 199.88H88.57M86.52 197.83V201.93M84.36 199.69H88.46M86.41 197.64V201.74M84.25 199.51H88.35M86.30 197.46V201.56M84.14 199.32H88.24M86.19 197.27V201.37M84.03 199.14H88.13M86.08 197.09V201.19M83.92 198.96H88.02M85.97 196.91V201.01M83.81 198.78H87.91M85.86 196.73V200.83M83.70 198.60H87.80M85.75 196.55V200.65M83.59 198.43H87.69M85.64 196.38V200.48M83.48 198.25H87.58M85.53 196.20V200.30M83.37 198.08H87.47M85.42 196.03V200.13M83.27 197.91H87.37M85.32 195.86V199.96M83.16 197.74H87.26M85.21 195.69V199.79M83.05 197.58H87.15M85.10 195.53V199.63M82.94 197.41H87.04M84.99 195.36V199.46M82.83 197.25H86.93M84.88 195.20V199.30M82.72 197.09H86.82M84.77 195.04V199.14M82.62 196.93H86.72M84.67 194.88V198.98M82.51 196.77H86.61M84.56 194.72V198.82M82.40 196.61H86.50M84.45 194.56V198.66M82.29 196.45H86.39M84.34 194.40V198.50M82.18 196.30H86.28M84.23 194.25V198.35M82.07 196.14H86.17M84.12 194.09V198.19M81.96 195.99H86.06M84.01 193.94V198.04M81.86 195.84H85.96M83.91 193.79V197.89M81.75 195.69H85.85M83.80 193.64V197.74M81.64 195.54H85.74M83.69 193.49V197.59M81.53 195.40H85.63M83.58 193.35V197.45M81.42 195.25H85.52M83.47 193.20V197.30M81.31 195.11H85.41M83.36 193.06V197.16M81.20 194.97H85.30M83.25 192.92V197.02M81.09 194.82H85.19M83.14 192.77V196.87M80.98 194.68H85.08M83.03 192.63V196.73M80.87 194.54H84.97M82.92 192.49V196.59M80.76 194.41H84.86M82.81 192.36V196.46M80.65 194.27H84.75M82.70 192.22V196.32M80.54 194.13H84.64M82.59 192.08V196.18M80.43 194.00H84.53M82.48 191.95V196.05M80.32 193.86H84.42M82.37 191.81V195.91M80.21 193.73H84.31M82.26 191.68V195.78M80.10 193.60H84.20M82.15 191.55V195.65M79.99 193.47H84.09M82.04 191.42V195.52M79.88 193.34H83.98M81.93 191.29V195.39M79.77 193.21H83.87M81.82 191.16V195.26M79.66 193.08H83.76M81.71 191.03V195.13M79.55 192.95H83.65M81.60 190.90V195.00M79.43 192.83H83.53M81.48 190.78V194.88M79.32 192.70H83.42M81.37 190.65V194.75M79.21 192.58H83.31M81.26 190.53V194.63M79.10 192.45H83.20M81.15 190.40V194.50M78.98 192.33H83.08M81.03 190.28V194.38M78.87 192.21H82.97M80.92 190.16V194.26M78.76 192.09H82.86M80.81 190.04V194.14M78.64 191.97H82.74M80.69 189.92V194.02M78.53 191.85H82.63M80.58 189.80V193.90M78.41 191.73H82.51M80.46 189.68V193.78M78.30 191.62H82.40M80.35 189.57V193.67M78.18 191.50H82.28M80.23 189.45V193.55M78.07 191.38H82.17M80.12 189.33V193.43M77.95 191.27H82.05M80.00 189.22V193.32M77.84 191.15H81.94M79.89 189.10V193.20M77.72 191.04H81.82M79.77 188.99V193.09M77.61 190.93H81.71M79.66 188.88V192.98M77.49 190.82H81.59M79.54 188.77V192.87M77.37 190.70H81.47M79.42 188.65V192.75M77.25 190.59H81.35M79.30 188.54V192.64M77.14 190.48H81.24M79.19 188.43V192.53M77.02 190.38H81.12M79.07 188.33V192.43M76.90 190.27H81.00M78.95 188.22V192.32M76.78 190.16H80.88M78.83 188.11V192.21M76.66 190.05H80.76M78.71 188.00V192.10M76.54 189.95H80.64M78.59 187.90V192.00M76.42 189.84H80.52M78.47 187.79V191.89M76.30 189.73H80.40M78.35 187.68V191.78M76.18 189.63H80.28M78.23 187.58V191.68M76.06 189.53H80.16M78.11 187.48V191.58M75.94 189.42H80.04M77.99 187.37V191.47M75.81 189.32H79.91M77.86 187.27V191.37M75.69 189.22H79.79M77.74 187.17V191.27M75.57 189.12H79.67M77.62 187.07V191.17M75.44 189.02H79.54M77.49 186.97V191.07M75.32 188.92H79.42M77.37 186.87V190.97M75.19 188.82H79.29M77.24 186.77V190.87M75.07 188.72H79.17M77.12 186.67V190.77M74.94 188.62H79.04M76.99 186.57V190.67M74.82 188.52H78.92M76.87 186.47V190.57M74.69 188.42H78.79M76.74 186.37V190.47M74.56 188.33H78.66M76.61 186.28V190.38M74.44 188.23H78.54M76.49 186.18V190.28M74.31 188.14H78.41M76.36 186.09V190.19M74.18 188.04H78.28M76.23 185.99V190.09M74.05 187.95H78.15M76.10 185.90V190.00M73.92 187.85H78.02M75.97 185.80V189.90M73.79 187.76H77.89M75.84 185.71V189.81M73.65 187.67H77.75M75.70 185.62V189.72M73.52 187.57H77.62M75.57 185.52V189.62M73.39 187.48H77.49M75.44 185.43V189.53M73.26 187.39H77.36M75.31 185.34V189.44M73.12 187.30H77.22M75.17 185.25V189.35M72.99 187.21H77.09M75.04 185.16V189.26M72.85 187.12H76.95M74.90 185.07V189.17M72.71 187.03H76.81M74.76 184.98V189.08M72.58 186.94H76.68M74.63 184.89V188.99M72.44 186.85H76.54M74.49 184.80V188.90M72.30 186.76H76.40M74.35 184.71V188.81M72.16 186.67H76.26M74.21 184.62V188.72M72.02 186.59H76.12M74.07 184.54V188.64M71.88 186.50H75.98M73.93 184.45V188.55M71.74 186.41H75.84M73.79 184.36V188.46M71.60 186.33H75.70M73.65 184.28V188.38M71.45 186.24H75.55M73.50 184.19V188.29M71.31 186.16H75.41M73.36 184.11V188.21M71.16 186.07H75.26M73.21 184.02V188.12M71.02 185.99H75.12M73.07 183.94V188.04M70.87 185.90H74.97M72.92 183.85V187.95M70.72 185.82H74.82M72.77 183.77V187.87M70.58 185.74H74.68M72.63 183.69V187.79M70.43 185.66H74.53M72.48 183.61V187.71M70.27 185.57H74.37M72.32 183.52V187.62M70.12 185.49H74.22M72.17 183.44V187.54M69.97 185.41H74.07M72.02 183.36V187.46M69.82 185.33H73.92M71.87 183.28V187.38M69.66 185.25H73.76M71.71 183.20V187.30M69.51 185.17H73.61M71.56 183.12V187.22M69.35 185.09H73.45M71.40 183.04V187.14M69.19 185.01H73.29M71.24 182.96V187.06M69.03 184.93H73.13M71.08 182.88V186.98M68.87 184.85H72.97M70.92 182.80V186.90M68.71 184.77H72.81M70.76 182.72V186.82M68.55 184.69H72.65M70.60 182.64V186.74M68.38 184.62H72.48M70.43 182.57V186.67M68.22 184.54H72.32M70.27 182.49V186.59M68.05 184.46H72.15M70.10 182.41V186.51M67.89 184.39H71.99M69.94 182.34V186.44M67.72 184.31H71.82M69.77 182.26V186.36M67.55 184.23H71.65M69.60 182.18V186.28M67.37 184.16H71.47M69.42 182.11V186.21M67.20 184.08H71.30M69.25 182.03V186.13M67.03 184.01H71.13M69.08 181.96V186.06M66.85 183.93H70.95M68.90 181.88V185.98M66.67 183.86H70.77M68.72 181.81V185.91M66.49 183.78H70.59M68.54 181.73V185.83M66.31 183.71H70.41M68.36 181.66V185.76M66.13 183.64H70.23M68.18 181.59V185.69M65.95 183.56H70.05M68.00 181.51V185.61M65.76 183.49H69.86M67.81 181.44V185.54M65.57 183.42H69.67M67.62 181.37V185.47M65.38 183.35H69.48M67.43 181.30V185.40M65.19 183.27H69.29M67.24 181.22V185.32M65.00 183.20H69.10M67.05 181.15V185.25M64.81 183.13H68.91M66.86 181.08V185.18M64.61 183.06H68.71M66.66 181.01V185.11M64.41 182.99H68.51M66.46 180.94V185.04M64.21 182.92H68.31M66.26 180.87V184.97M64.01 182.85H68.11M66.06 180.80V184.90M63.81 182.78H67.91M65.86 180.73V184.83M63.60 182.71H67.70M65.65 180.66V184.76M63.39 182.64H67.49M65.44 180.59V184.69M63.18 182.57H67.28M65.23 180.52V184.62M62.97 182.50H67.07M65.02 180.45V184.55M62.75 182.43H66.85M64.80 180.38V184.48M62.54 182.37H66.64M64.59 180.32V184.42M62.32 182.30H66.42M64.37 180.25V184.35M62.10 182.23H66.20M64.15 180.18V184.28M61.87 182.16H65.97M63.92 180.11V184.21M61.64 182.10H65.74M63.69 180.05V184.15M61.41 182.03H65.51M63.46 179.98V184.08M61.18 181.96H65.28M63.23 179.91V184.01M60.95 181.90H65.05M63.00 179.85V183.95M60.70 181.83H64.80M62.75 179.78V183.88M60.46 181.77H64.56M62.51 179.72V183.82M60.22 181.70H64.32M62.27 179.65V183.75M59.97 181.64H64.07M62.02 179.59V183.69M59.72 181.57H63.82M61.77 179.52V183.62M59.46 181.51H63.56M61.51 179.46V183.56M59.21 181.44H63.31M61.26 179.39V183.49M58.94 181.38H63.04M60.99 179.33V183.43M58.68 181.31H62.78M60.73 179.26V183.36M58.41 181.25H62.51M60.46 179.20V183.30M58.13 181.19H62.23M60.18 179.14V183.24M57.85 181.12H61.95M59.90 179.07V183.17M57.57 181.06H61.67M59.62 179.01V183.11M57.28 181.00H61.38M59.33 178.95V183.05M56.99 180.93H61.09M59.04 178.88V182.98M56.69 180.87H60.79M58.74 178.82V182.92M56.39 180.81H60.49M58.44 178.76V182.86M56.09 180.75H60.19M58.14 178.70V182.80M55.78 180.69H59.88M57.83 178.64V182.74M55.46 180.62H59.56M57.51 178.57V182.67M55.14 180.56H59.24M57.19 178.51V182.61M54.81 180.50H58.91M56.86 178.45V182.55M54.48 180.44H58.58M56.53 178.39V182.49M54.13 180.38H58.23M56.18 178.33V182.43M53.78 180.32H57.88M55.83 178.27V182.37M53.43 180.26H57.53M55.48 178.21V182.31M53.07 180.20H57.17M55.12 178.15V182.25M52.70 180.14H56.80M54.75 178.09V182.19M52.32 180.08H56.42M54.37 178.03V182.13M51.94 180.02H56.04M53.99 177.97V182.07M51.55 179.96H55.65M53.60 177.91V182.01M51.16 179.90H55.26M53.21 177.85V181.95M50.74 179.84H54.84M52.79 177.79V181.89M50.33 179.79H54.43M52.38 177.74V181.84M49.90 179.73H54.00M51.95 177.68V181.78M49.46 179.67H53.56M51.51 177.62V181.72M49.01 179.61H53.11M51.06 177.56V181.66M48.55 179.55H52.65M50.60 177.50V181.60M48.07 179.50H52.17M50.12 177.45V181.55M47.59 179.44H51.69M49.64 177.39V181.49M47.09 179.38H51.19M49.14 177.33V181.43M46.57 179.32H50.67M48.62 177.27V181.37M46.05 179.27H50.15M48.10 177.22V181.32M45.50 179.21H49.60M47.55 177.16V181.26M44.93 179.15H49.03M46.98 177.10V181.20M44.35 179.10H48.45M46.40 177.05V181.15M43.75 179.04H47.85M45.80 176.99V181.09M43.13 178.99H47.23M45.18 176.94V181.04M42.49 178.93H46.59M44.54 176.88V180.98M41.82 178.88H45.92M43.87 176.83V180.93M41.11 178.82H45.21M43.16 176.77V180.87M40.39 178.77H44.49M42.44 176.72V180.82M39.63 178.71H43.73M41.68 176.66V180.76M38.84 178.66H42.94M40.89 176.61V180.71M38.00 178.60H42.10M40.05 176.55V180.65M37.13 178.55H41.23M39.18 176.50V180.60" stroke="#ff0000" stroke-width="0.6" fill="none"/>
<path d="M156.83 274.44L160.93 278.54M156.83 278.54L160.93 274.44M146.74 262.63L150.84 266.73M146.74 266.73L150.84 262.63M140.84 255.72L144.94 259.82M140.84 259.82L144.94 255.72M136.72 250.82L140.82 254.92M136.72 254.92L140.82 250.82M133.49 247.02L137.59 251.12M133.49 251.12L137.59 247.02M130.87 243.91L134.97 248.01M130.87 248.01L134.97 243.91M128.66 241.29L132.76 245.39M128.66 245.39L132.76 241.29M126.75 239.01L130.85 243.11M126.75 243.11L130.85 239.01M125.07 237.00L129.17 241.10M125.07 241.10L129.17 237.00M123.56 235.21L127.66 239.31M123.56 239.31L127.66 235.21M122.19 233.58L126.29 237.68M122.19 237.68L126.29 233.58M120.96 232.10L125.06 236.20M120.96 236.20L125.06 232.10M119.82 230.74L123.92 234.84M119.82 234.84L123.92 230.74M118.77 229.47L122.87 233.57M118.77 233.57L122.87 229.47M117.78 228.30L121.88 232.40M117.78 232.40L121.88 228.30M116.87 227.20L120.97 231.30M116.87 231.30L120.97 227.20M116.01 226.17L120.11 230.27M116.01 230.27L120.11 226.17M115.19 225.19L119.29 229.29M115.19 229.29L119.29 225.19M114.43 224.27L118.53 228.37M114.43 228.37L118.53 224.27M113.70 223.40L117.80 227.50M113.70 227.50L117.80 223.40M113.00 222.57L117.10 226.67M113.00 226.67L117.10 222.57M112.35 221.77L116.45 225.87M112.35 225.87L116.45 221.77M111.72 221.02L115.82 225.12M111.72 225.12L115.82 221.02M111.11 220.29L115.21 224.39M111.11 224.39L115.21 220.29M110.54 219.60L114.64 223.70M110.54 223.70L114.64 219.60M109.99 218.93L114.09 223.03M109.99 223.03L114.09 218.93M109.45 218.28L113.55 222.38M109.45 222.38L113.55 218.28M108.94 217.66L113.04 221.76M108.94 221.76L113.04 217.66M108.44 217.07L112.54 221.17M108.44 221.17L112.54 217.07M107.97 216.49L112.07 220.59M107.97 220.59L112.07 216.49M107.50 215.93L111.60 220.03M107.50 220.03L111.60 215.93M107.05 215.39L111.15 219.49M107.05 219.49L111.15 215.39M106.62 214.86L110.72 218.96M106.62 218.96L110.72 214.86M106.20 214.36L110.30 218.46M106.20 218.46L110.30 214.36M105.79 213.86L109.89 217.96M105.79 217.96L109.89 213.86M105.40 213.38L109.50 217.48M105.40 217.48L109.50 213.38M105.02 212.92L109.12 217.02M105.02 217.02L109.12 212.92M104.64 212.46L108.74 216.56M104.64 216.56L108.74 212.46M104.27 212.02L108.37 216.12M104.27 216.12L108.37 212.02M103.91 211.59L108.01 215.69M103.91 215.69L108.01 211.59M103.57 211.17L107.67 215.27M103.57 215.27L107.67 211.17M103.22 210.76L107.32 214.86M103.22 214.86L107.32 210.76M102.89 210.35L106.99 214.45M102.89 214.45L106.99 210.35M102.56 209.96L106.66 214.06M102.56 214.06L106.66 209.96M102.24 209.58L106.34 213.68M102.24 213.68L106.34 209.58M101.93 209.21L106.03 213.31M101.93 213.31L106.03 209.21M101.62 208.84L105.72 212.94M101.62 212.94L105.72 208.84M101.32 208.48L105.42 212.58M101.32 212.58L105.42 208.48M101.03 208.13L105.13 212.23M101.03 212.23L105.13 208.13M100.74 207.79L104.84 211.89M100.74 211.89L104.84 207.79M100.46 207.45L104.56 211.55M100.46 211.55L104.56 207.45M100.18 207.12L104.28 211.22M100.18 211.22L104.28 207.12M99.90 206.79L104.00 210.89M99.90 210.89L104.00 206.79M99.64 206.47L103.74 210.57M99.64 210.57L103.74 206.47M99.37 206.16L103.47 210.26M99.37 210.26L103.47 206.16M99.12 205.85L103.22 209.95M99.12 209.95L103.22 205.85M98.86 205.55L102.96 209.65M98.86 209.65L102.96 205.55M98.60 205.26L102.70 209.36M98.60 209.36L102.70 205.26M98.36 204.96L102.46 209.06M98.36 209.06L102.46 204.96M98.11 204.68L102.21 208.78M98.11 208.78L102.21 204.68M97.87 204.40L101.97 208.50M97.87 208.50L101.97 204.40M97.64 204.12L101.74 208.22M97.64 208.22L101.74 204.12M97.40 203.85L101.50 207.95M97.40 207.95L101.50 203.85M97.17 203.58L101.27 207.68M97.17 207.68L101.27 203.58M96.95 203.31L101.05 207.41M96.95 207.41L101.05 203.31M96.73 203.05L100.83 207.15M96.73 207.15L100.83 203.05M96.50 202.80L100.60 206.90M96.50 206.90L100.60 202.80M96.29 202.55L100.39 206.65M96.29 206.65L100.39 202.55M96.07 202.30L100.17 206.40M96.07 206.40L100.17 202.30M95.85 202.05L99.95 206.15M95.85 206.15L99.95 202.05M95.64 201.81L99.74 205.91M95.64 205.91L99.74 201.81M95.43 201.57L99.53 205.67M95.43 205.67L99.53 201.57M95.23 201.34L99.33 205.44M95.23 205.44L99.33 201.34M95.02 201.11L99.12 205.21M95.02 205.21L99.12 201.11M94.82 200.88L98.92 204.98M94.82 204.98L98.92 200.88M94.62 200.65L98.72 204.75M94.62 204.75L98.72 200.65M94.42 200.43L98.52 204.53M94.42 204.53L98.52 200.43M94.22 200.21L98.32 204.31M94.22 204.31L98.32 200.21M94.03 199.99L98.13 204.09M94.03 204.09L98.13 199.99M93.84 199.78L97.94 203.88M93.84 203.88L97.94 199.78M93.65 199.57L97.75 203.67M93.65 203.67L97.75 199.57M93.46 199.36L97.56 203.46M93.46 203.46L97.56 199.36M93.27 199.15L97.37 203.25M93.27 203.25L97.37 199.15M93.08 198.95L97.18 203.05M93.08 203.05L97.18 198.95M92.90 198.74L97.00 202.84M92.90 202.84L97.00 198.74M92.72 198.54L96.82 202.64M92.72 202.64L96.82 198.54M92.54 198.35L96.64 202.45M92.54 202.45L96.64 198.35M92.36 198.15L96.46 202.25M92.36 202.25L96.46 198.15M92.18 197.96L96.28 202.06M92.18 202.06L96.28 197.96M92.00 197.77L96.10 201.87M92.00 201.87L96.10 197.77M91.83 197.58L95.93 201.68M91.83 201.68L95.93 197.58M91.65 197.40L95.75 201.50M91.65 201.50L95.75 197.40M91.48 197.21L95.58 201.31M91.48 201.31L95.58 197.21M91.31 197.03L95.41 201.13M91.31 201.13L95.41 197.03M91.14 196.85L95.24 200.95M91.14 200.95L95.24 196.85M90.97 196.67L95.07 200.77M90.97 200.77L95.07 196.67M90.80 196.49L94.90 200.59M90.80 200.59L94.90 196.49M90.64 196.32L94.74 200.42M90.64 200.42L94.74 196.32M90.47 196.15L94.57 200.25M90.47 200.25L94.57 196.15M90.31 195.97L94.41 200.07M90.31 200.07L94.41 195.97M90.14 195.81L94.24 199.91M90.14 199.91L94.24 195.81M89.98 195.64L94.08 199.74M89.98 199.74L94.08 195.64M89.82 195.47L93.92 199.57M89.82 199.57L93.92 195.47M89.65 195.31L93.75 199.41M89.65 199.41L93.75 195.31M89.49 195.14L93.59 199.24M89.49 199.24L93.59 195.14M89.33 194.98L93.43 199.08M89.33 199.08L93.43 194.98M89.18 194.82L93.28 198.92M89.18 198.92L93.28 194.82M89.02 194.66L93.12 198.76M89.02 198.76L93.12 194.66M88.86 194.51L92.96 198.61M88.86 198.61L92.96 194.51M88.70 194.35L92.80 198.45M88.70 198.45L92.80 194.35M88.55 194.20L92.65 198.30M88.55 198.30L92.65 194.20M88.39 194.04L92.49 198.14M88.39 198.14L92.49 194.04M88.24 193.89L92.34 197.99M88.24 197.99L92.34 193.89M88.08 193.74L92.18 197.84M88.08 197.84L92.18 193.74M87.93 193.59L92.03 197.69M87.93 197.69L92.03 193.59M87.78 193.45L91.88 197.55M87.78 197.55L91.88 193.45M87.62 193.30L91.72 197.40M87.62 197.40L91.72 193.30M87.47 193.15L91.57 197.25M87.47 197.25L91.57 193.15M87.32 193.01L91.42 197.11M87.32 197.11L91.42 193.01M87.17 192.87L91.27 196.97M87.17 196.97L91.27 192.87M87.02 192.73L91.12 196.83M87.02 196.83L91.12 192.73M86.87 192.59L90.97 196.69M86.87 196.69L90.97 192.59M86.72 192.45L90.82 196.55M86.72 196.55L90.82 192.45M86.57 192.31L90.67 196.41M86.57 196.41L90.67 192.31M86.42 192.17L90.52 196.27M86.42 196.27L90.52 192.17M86.27 192.04L90.37 196.14M86.27 196.14L90.37 192.04M86.12 191.90L90.22 196.00M86.12 196.00L90.22 191.90M85.97 191.77L90.07 195.87M85.97 195.87L90.07 191.77M85.82 191.64L89.92 195.74M85.82 195.74L89.92 191.64M85.68 191.50L89.78 195.60M85.68 195.60L89.78 191.50M85.53 191.37L89.63 195.47M85.53 195.47L89.63 191.37M85.38 191.24L89.48 195.34M85.38 195.34L89.48 191.24M85.24 191.12L89.34 195.22M85.24 195.22L89.34 191.12M85.09 190.99L89.19 195.09M85.09 195.09L89.19 190.99M84.94 190.86L89.04 194.96M84.94 194.96L89.04 190.86M84.80 190.74L88.90 194.84M84.80 194.84L88.90 190.74M84.65 190.61L88.75 194.71M84.65 194.71L88.75 190.61M84.51 190.49L88.61 194.59M84.51 194.59L88.61 190.49M84.36 190.36L88.46 194.46M84.36 194.46L88.46 190.36M84.22 190.24L88.32 194.34M84.22 194.34L88.32 190.24M84.07 190.12L88.17 194.22M84.07 194.22L88.17 190.12M83.93 190.00L88.03 194.10M83.93 194.10L88.03 190.00M83.79 189.88L87.89 193.98M83.79 193.98L87.89 189.88M83.64 189.76L87.74 193.86M83.64 193.86L87.74 189.76M83.50 189.64L87.60 193.74M83.50 193.74L87.60 189.64M83.36 189.53L87.46 193.63M83.36 193.63L87.46 189.53M83.21 189.41L87.31 193.51M83.21 193.51L87.31 189.41M83.07 189.29L87.17 193.39M83.07 193.39L87.17 189.29M82.93 189.18L87.03 193.28M82.93 193.28L87.03 189.18M82.78 189.07L86.88 193.17M82.78 193.17L86.88 189.07M82.64 188.95L86.74 193.05M82.64 193.05L86.74 188.95M82.50 188.84L86.60 192.94M82.50 192.94L86.60 188.84M82.35 188.73L86.45 192.83M82.35 192.83L86.45 188.73M82.21 188.62L86.31 192.72M82.21 192.72L86.31 188.62M82.06 188.51L86.16 192.61M82.06 192.61L86.16 188.51M81.92 188.40L86.02 192.50M81.92 192.50L86.02 188.40M81.77 188.29L85.87 192.39M81.77 192.39L85.87 188.29M81.63 188.18L85.73 192.28M81.63 192.28L85.73 188.18M81.48 188.07L85.58 192.17M81.48 192.17L85.58 188.07M81.34 187.97L85.44 192.07M81.34 192.07L85.44 187.97M81.20 187.86L85.30 191.96M81.20 191.96L85.30 187.86M81.05 187.75L85.15 191.85M81.05 191.85L85.15 187.75M80.91 187.65L85.01 191.75M80.91 191.75L85.01 187.65M80.77 187.55L84.87 191.65M80.77 191.65L84.87 187.55M80.62 187.44L84.72 191.54M80.62 191.54L84.72 187.44M80.47 187.34L84.57 191.44M80.47 191.44L84.57 187.34M80.33 187.24L84.43 191.34M80.33 191.34L84.43 187.24M80.18 187.14L84.28 191.24M80.18 191.24L84.28 187.14M80.04 187.03L84.14 191.13M80.04 191.13L84.14 187.03M79.89 186.93L83.99 191.03M79.89 191.03L83.99 186.93M79.74 186.83L83.84 190.93M79.74 190.93L83.84 186.83M79.60 186.73L83.70 190.83M79.60 190.83L83.70 186.73M79.45 186.64L83.55 190.74M79.45 190.74L83.55 186.64M79.30 186.54L83.40 190.64M79.30 190.64L83.40 186.54M79.15 186.44L83.25 190.54M79.15 190.54L83.25 186.44M79.01 186.34L83.11 190.44M79.01 190.44L83.11 186.34M78.86 186.25L82.96 190.35M78.86 190.35L82.96 186.25M78.71 186.15L82.81 190.25M78.71 190.25L82.81 186.15M78.56 186.05L82.66 190.15M78.56 190.15L82.66 186.05M78.41 185.96L82.51 190.06M78.41 190.06L82.51 185.96M78.26 185.87L82.36 189.97M78.26 189.97L82.36 185.87M78.11 185.77L82.21 189.87M78.11 189.87L82.21 185.77M77.96 185.68L82.06 189.78M77.96 189.78L82.06 185.68M77.81 185.59L81.91 189.69M77.81 189.69L81.91 185.59M77.66 185.49L81.76 189.59M77.66 189.59L81.76 185.49M77.51 185.40L81.61 189.50M77.51 189.50L81.61 185.40M77.36 185.31L81.46 189.41M77.36 189.41L81.46 185.31M77.21 185.22L81.31 189.32M77.21 189.32L81.31 185.22M77.05 185.13L81.15 189.23M77.05 189.23L81.15 185.13M76.90 185.04L81.00 189.14M76.90 189.14L81.00 185.04M76.75 184.95L80.85 189.05M76.75 189.05L80.85 184.95M76.59 184.86L80.69 188.96M76.59 188.96L80.69 184.86M76.44 184.77L80.54 188.87M76.44 188.87L80.54 184.77M76.28 184.68L80.38 188.78M76.28 188.78L80.38 184.68M76.12 184.60L80.22 188.70M76.12 188.70L80.22 184.60M75.97 184.51L80.07 188.61M75.97 188.61L80.07 184.51M75.81 184.42L79.91 188.52M75.81 188.52L79.91 184.42M75.65 184.34L79.75 188.44M75.65 188.44L79.75 184.34M75.49 184.25L79.59 188.35M75.49 188.35L79.59 184.25M75.33 184.16L79.43 188.26M75.33 188.26L79.43 184.16M75.17 184.08L79.27 188.18M75.17 188.18L79.27 184.08M75.01 183.99L79.11 188.09M75.01 188.09L79.11 183.99M74.85 183.91L78.95 188.01M74.85 188.01L78.95 183.91M74.68 183.83L78.78 187.93M74.68 187.93L78.78 183.83M74.52 183.74L78.62 187.84M74.52 187.84L78.62 183.74M74.35 183.66L78.45 187.76M74.35 187.76L78.45 183.66M74.19 183.58L78.29 187.68M74.19 187.68L78.29 183.58M74.02 183.50L78.12 187.60M74.02 187.60L78.12 183.50M73.86 183.41L77.96 187.51M73.86 187.51L77.96 183.41M73.69 183.33L77.79 187.43M73.69 187.43L77.79 183.33M73.52 183.25L77.62 187.35M73.52 187.35L77.62 183.25M73.35 183.17L77.45 187.27M73.35 187.27L77.45 183.17M73.18 183.09L77.28 187.19M73.18 187.19L77.28 183.09M73.01 183.01L77.11 187.11M73.01 187.11L77.11 183.01M72.84 182.93L76.94 187.03M72.84 187.03L76.94 182.93M72.67 182.85L76.77 186.95M72.67 186.95L76.77 182.85M72.50 182.77L76.60 186.87M72.50 186.87L76.60 182.77M72.32 182.70L76.42 186.80M72.32 186.80L76.42 182.70M72.15 182.62L76.25 186.72M72.15 186.72L76.25 182.62M71.97 182.54L76.07 186.64M71.97 186.64L76.07 182.54M71.79 182.46L75.89 186.56M71.79 186.56L75.89 182.46M71.62 182.39L75.72 186.49M71.62 186.49L75.72 182.39M71.44 182.31L75.54 186.41M71.44 186.41L75.54 182.31M71.26 182.23L75.36 186.33M71.26 186.33L75.36 182.23M71.07 182.16L75.17 186.26M71.07 186.26L75.17 182.16M70.89 182.08L74.99 186.18M70.89 186.18L74.99 182.08M70.70 182.01L74.80 186.11M70.70 186.11L74.80 182.01M70.52 181.93L74.62 186.03M70.52 186.03L74.62 181.93M70.33 181.86L74.43 185.96M70.33 185.96L74.43 181.86M70.14 181.78L74.24 185.88M70.14 185.88L74.24 181.78M69.95 181.71L74.05 185.81M69.95 185.81L74.05 181.71M69.76 181.64L73.86 185.74M69.76 185.74L73.86 181.64M69.57 181.56L73.67 185.66M69.57 185.66L73.67 181.56M69.38 181.49L73.48 185.59M69.38 185.59L73.48 181.49M69.18 181.42L73.28 185.52M69.18 185.52L73.28 181.42M68.98 181.34L73.08 185.44M68.98 185.44L73.08 181.34M68.78 181.27L72.88 185.37M68.78 185.37L72.88 181.27M68.58 181.20L72.68 185.30M68.58 185.30L72.68 181.20M68.38 181.13L72.48 185.23M68.38 185.23L72.48 181.13M68.17 181.06L72.27 185.16M68.17 185.16L72.27 181.06M67.97 180.99L72.07 185.09M67.97 185.09L72.07 180.99M67.76 180.92L71.86 185.02M67.76 185.02L71.86 180.92M67.55 180.85L71.65 184.95M67.55 184.95L71.65 180.85M67.34 180.78L71.44 184.88M67.34 184.88L71.44 180.78M67.13 180.71L71.23 184.81M67.13 184.81L71.23 180.71M66.91 180.64L71.01 184.74M66.91 184.74L71.01 180.64M66.70 180.57L70.80 184.67M66.70 184.67L70.80 180.57M66.48 180.50L70.58 184.60M66.48 184.60L70.58 180.50M66.25 180.43L70.35 184.53M66.25 184.53L70.35 180.43M66.03 180.36L70.13 184.46M66.03 184.46L70.13 180.36M65.80 180.29L69.90 184.39M65.80 184.39L69.90 180.29M65.57 180.23L69.67 184.33M65.57 184.33L69.67 180.23M65.34 180.16L69.44 184.26M65.34 184.26L69.44 180.16M65.11 180.09L69.21 184.19M65.11 184.19L69.21 180.09M64.87 180.02L68.97 184.12M64.87 184.12L68.97 180.02M64.63 179.96L68.73 184.06M64.63 184.06L68.73 179.96M64.40 179.89L68.50 183.99M64.40 183.99L68.50 179.89M64.15 179.83L68.25 183.93M64.15 183.93L68.25 179.83M63.90 179.76L68.00 183.86M63.90 183.86L68.00 179.76M63.65 179.69L67.75 183.79M63.65 183.79L67.75 179.69M63.40 179.63L67.50 183.73M63.40 183.73L67.50 179.63M63.14 179.56L67.24 183.66M63.14 183.66L67.24 179.56M62.88 179.50L66.98 183.60M62.88 183.60L66.98 179.50M62.62 179.43L66.72 183.53M62.62 183.53L66.72 179.43M62.36 179.37L66.46 183.47M62.36 183.47L66.46 179.37M62.09 179.31L66.19 183.41M62.09 183.41L66.19 179.31M61.81 179.24L65.91 183.34M61.81 183.34L65.91 179.24M61.54 179.18L65.64 183.28M61.54 183.28L65.64 179.18M61.26 179.11L65.36 183.21M61.26 183.21L65.36 179.11M60.97 179.05L65.07 183.15M60.97 183.15L65.07 179.05M60.68 178.99L64.78 183.09M60.68 183.09L64.78 178.99M60.39 178.93L64.49 183.03M60.39 183.03L64.49 178.93M60.10 178.86L64.20 182.96M60.10 182.96L64.20 178.86M59.79 178.80L63.89 182.90M59.79 182.90L63.89 178.80M59.49 178.74L63.59 182.84M59.49 182.84L63.59 178.74M59.17 178.68L63.27 182.78M59.17 182.78L63.27 178.68M58.86 178.61L62.96 182.71M58.86 182.71L62.96 178.61M58.54 178.55L62.64 182.65M58.54 182.65L62.64 178.55M58.21 178.49L62.31 182.59M58.21 182.59L62.31 178.49M57.87 178.43L61.97 182.53M57.87 182.53L61.97 178.43M57.54 178.37L61.64 182.47M57.54 182.47L61.64 178.37M57.19 178.31L61.29 182.41M57.19 182.41L61.29 178.31M56.84 178.25L60.94 182.35M56.84 182.35L60.94 178.25M56.47 178.19L60.57 182.29M56.47 182.29L60.57 178.19M56.10 178.13L60.20 182.23M56.10 182.23L60.20 178.13M55.73 178.07L59.83 182.17M55.73 182.17L59.83 178.07M55.34 178.01L59.44 182.11M55.34 182.11L59.44 178.01M54.95 177.95L59.05 182.05M54.95 182.05L59.05 177.95M54.56 177.89L58.66 181.99M54.56 181.99L58.66 177.89M54.15 177.83L58.25 181.93M54.15 181.93L58.25 177.83M53.73 177.77L57.83 181.87M53.73 181.87L57.83 177.77M53.31 177.72L57.41 181.82M53.31 181.82L57.41 177.72M52.87 177.66L56.97 181.76M52.87 181.76L56.97 177.66M52.43 177.60L56.53 181.70M52.43 181.70L56.53 177.60M51.98 177.54L56.08 181.64M51.98 181.64L56.08 177.54M51.51 177.48L55.61 181.58M51.51 181.58L55.61 177.48M51.02 177.43L55.12 181.53M51.02 181.53L55.12 177.43M50.53 177.37L54.63 181.47M50.53 181.47L54.63 177.37M50.02 177.31L54.12 181.41M50.02 181.41L54.12 177.31M49.50 177.26L53.60 181.36M49.50 181.36L53.60 177.26M48.96 177.20L53.06 181.30M48.96 181.30L53.06 177.20M48.40 177.14L52.50 181.24M48.40 181.24L52.50 177.14M47.83 177.09L51.93 181.19M47.83 181.19L51.93 177.09M47.24 177.03L51.34 181.13M47.24 181.13L51.34 177.03M46.63 176.97L50.73 181.07M46.63 181.07L50.73 176.97M46.00 176.92L50.10 181.02M46.00 181.02L50.10 176.92M45.35 176.86L49.45 180.96M45.35 180.96L49.45 176.86M44.66 176.81L48.76 180.91M44.66 180.91L48.76 176.81M43.96 176.75L48.06 180.85M43.96 180.85L48.06 176.75M43.21 176.70L47.31 180.80M43.21 180.80L47.31 176.70M42.44 176.64L46.54 180.74M42.44 180.74L46.54 176.64M41.64 176.59L45.74 180.69M41.64 180.69L45.74 176.59M40.80 176.53L44.90 180.63M40.80 180.63L44.90 176.53M39.92 176.48L44.02 180.58M39.92 180.58L44.02 176.48M38.99 176.42L43.09 180.52M38.99 180.52L43.09 176.42M38.02 176.37L42.12 180.47M38.02 180.47L42.12 176.37M36.98 176.32L41.08 180.42M36.98 180.42L41.08 176.32" stroke="#00ff00" stroke-width="0.6" fill="none"/>
<path d="M102.35 267.79H106.45M104.40 265.74V269.84M102.35 265.74L106.45 269.84M102.35 269.84L106.45 265.74M101.03 259.78H105.13M103.08 257.73V261.83M101.03 257.73L105.13 261.83M101.03 261.83L105.13 257.73M100.05 254.35H104.15M102.10 252.30V256.40M100.05 252.30L104.15 256.40M100.05 256.40L104.15 252.30M99.26 250.24H103.36M101.31 248.19V252.29M99.26 248.19L103.36 252.29M99.26 252.29L103.36 248.19M98.59 246.94H102.69M100.64 244.89V248.99M98.59 244.89L102.69 248.99M98.59 248.99L102.69 244.89M98.00 244.17H102.10M100.05 242.12V246.22M98.00 242.12L102.10 246.22M98.00 246.22L102.10 242.12M97.47 241.79H101.57M99.52 239.74V243.84M97.47 239.74L101.57 243.84M97.47 243.84L101.57 239.74M96.99 239.70H101.09M99.04 237.65V241.75M96.99 237.65L101.09 241.75M96.99 241.75L101.09 237.65M96.53 237.84H100.63M98.58 235.79V239.89M96.53 235.79L100.63 239.89M96.53 239.89L100.63 235.79M96.12 236.16H100.22M98.17 234.11V238.21M96.12 234.11L100.22 238.21M96.12 238.21L100.22 234.11M95.73 234.63H99.83M97.78 232.58V236.68M95.73 232.58L99.83 236.68M95.73 236.68L99.83 232.58M95.37 233.23H99.47M97.42 231.18V235.28M95.37 231.18L99.47 235.28M95.37 235.28L99.47 231.18M95.02 231.94H99.12M97.07 229.89V233.99M95.02 229.89L99.12 233.99M95.02 233.99L99.12 229.89M94.69 230.73H98.79M96.74 228.68V232.78M94.69 228.68L98.79 232.78M94.69 232.78L98.79 228.68M94.38 229.61H98.48M96.43 227.56V231.66M94.38 227.56L98.48 231.66M94.38 231.66L98.48 227.56M94.08 228.55H98.18M96.13 226.50V230.60M94.08 226.50L98.18 230.60M94.08 230.60L98.18 226.50M93.78 227.56H97.88M95.83 225.51V229.61M93.78 225.51L97.88 229.61M93.78 229.61L97.88 225.51M93.50 226.62H97.60M95.55 224.57V228.67M93.50 224.57L97.60 228.67M93.50 228.67L97.60 224.57M93.23 225.73H97.33M95.28 223.68V227.78M93.23 223.68L97.33 227.78M93.23 227.78L97.33 223.68M92.96 224.89H97.06M95.01 222.84V226.94M92.96 222.84L97.06 226.94M92.96 226.94L97.06 222.84M92.71 224.08H96.81M94.76 222.03V226.13M92.71 222.03L96.81 226.13M92.71 226.13L96.81 222.03M92.46 223.31H96.56M94.51 221.26V225.36M92.46 221.26L96.56 225.36M92.46 225.36L96.56 221.26M92.21 222.58H96.31M94.26 220.53V224.63M92.21 220.53L96.31 224.63M92.21 224.63L96.31 220.53M91.98 221.87H96.08M94.03 219.82V223.92M91.98 219.82L96.08 223.92M91.98 223.92L96.08 219.82M91.75 221.20H95.85M93.80 219.15V223.25M91.75 219.15L95.85 223.25M91.75 223.25L95.85 219.15M91.52 220.55H95.62M93.57 218.50V222.60M91.52 218.50L95.62 222.60M91.52 222.60L95.62 218.50M91.30 219.92H95.40M93.35 217.87V221.97M91.30 217.87L95.40 221.97M91.30 221.97L95.40 217.87M91.08 219.31H95.18M93.13 217.26V221.36M91.08 217.26L95.18 221.36M91.08 221.36L95.18 217.26M90.87 218.73H94.97M92.92 216.68V220.78M90.87 216.68L94.97 220.78M90.87 220.78L94.97 216.68M90.66 218.16H94.76M92.71 216.11V220.21M90.66 216.11L94.76 220.21M90.66 220.21L94.76 216.11M90.45 217.62H94.55M92.50 215.57V219.67M90.45 215.57L94.55 219.67M90.45 219.67L94.55 215.57M90.25 217.09H94.35M92.30 215.04V219.14M90.25 215.04L94.35 219.14M90.25 219.14L94.35 215.04M90.06 216.57H94.16M92.11 214.52V218.62M90.06 214.52L94.16 218.62M90.06 218.62L94.16 214.52M89.86 216.08H93.96M91.91 214.03V218.13M89.86 214.03L93.96 218.13M89.86 218.13L93.96 214.03M89.67 215.59H93.77M91.72 213.54V217.64M89.67 213.54L93.77 217.64M89.67 217.64L93.77 213.54M89.48 215.12H93.58M91.53 213.07V217.17M89.48 213.07L93.58 217.17M89.48 217.17L93.58 213.07M89.30 214.66H93.40M91.35 212.61V216.71M89.30 212.61L93.40 216.71M89.30 216.71L93.40 212.61M89.11 214.21H93.21M91.16 212.16V216.26M89.11 212.16L93.21 216.26M89.11 216.26L93.21 212.16M88.93 213.78H93.03M90.98 211.73V215.83M88.93 211.73L93.03 215.83M88.93 215.83L93.03 211.73M88.75 213.36H92.85M90.80 211.31V215.41M88.75 211.31L92.85 215.41M88.75 215.41L92.85 211.31M88.57 212.94H92.67M90.62 210.89V214.99M88.57 210.89L92.67 214.99M88.57 214.99L92.67 210.89M88.40 212.54H92.50M90.45 210.49V214.59M88.40 210.49L92.50 214.59M88.40 214.59L92.50 210.49M88.22 212.14H92.32M90.27 210.09V214.19M88.22 210.09L92.32 214.19M88.22 214.19L92.32 210.09M88.05 211.76H92.15M90.10 209.71V213.81M88.05 209.71L92.15 213.81M88.05 213.81L92.15 209.71M87.88 211.38H91.98M89.93 209.33V213.43M87.88 209.33L91.98 213.43M87.88 213.43L91.98 209.33M87.71 211.01H91.81M89.76 208.96V213.06M87.71 208.96L91.81 213.06M87.71 213.06L91.81 208.96M87.55 210.65H91.65M89.60 208.60V212.70M87.55 208.60L91.65 212.70M87.55 212.70L91.65 208.60M87.38 210.30H91.48M89.43 208.25V212.35M87.38 208.25L91.48 212.35M87.38 212.35L91.48 208.25M87.22 209.95H91.32M89.27 207.90V212.00M87.22 207.90L91.32 212.00M87.22 212.00L91.32 207.90M87.06 209.61H91.16M89.11 207.56V211.66M87.06 207.56L91.16 211.66M87.06 211.66L91.16 207.56M86.89 209.28H90.99M88.94 207.23V211.33M86.89 207.23L90.99 211.33M86.89 211.33L90.99 207.23M86.74 208.95H90.84M88.79 206.90V211.00M86.74 206.90L90.84 211.00M86.74 211.00L90.84 206.90M86.58 208.63H90.68M88.63 206.58V210.68M86.58 206.58L90.68 210.68M86.58 210.68L90.68 206.58M86.42 208.31H90.52M88.47 206.26V210.36M86.42 206.26L90.52 210.36M86.42 210.36L90.52 206.26M86.27 208.01H90.37M88.32 205.96V210.06M86.27 205.96L90.37 210.06M86.27 210.06L90.37 205.96M86.11 207.70H90.21M88.16 205.65V209.75M86.11 205.65L90.21 209.75M86.11 209.75L90.21 205.65M85.96 207.40H90.06M88.01 205.35V209.45M85.96 205.35L90.06 209.45M85.96 209.45L90.06 205.35M85.80 207.11H89.90M87.85 205.06V209.16M85.80 205.06L89.90 209.16M85.80 209.16L89.90 205.06M85.65 206.82H89.75M87.70 204.77V208.87M85.65 204.77L89.75 208.87M85.65 208.87L89.75 204.77M85.50 206.54H89.60M87.55 204.49V208.59M85.50 204.49L89.60 208.59M85.50 208.59L89.60 204.49M85.35 206.26H89.45M87.40 204.21V208.31M85.35 204.21L89.45 208.31M85.35 208.31L89.45 204.21M85.20 205.99H89.30M87.25 203.94V208.04M85.20 203.94L89.30 208.04M85.20 208.04L89.30 203.94M85.05 205.72H89.15M87.10 203.67V207.77M85.05 203.67L89.15 207.77M85.05 207.77L89.15 203.67M84.91 205.45H89.01M86.96 203.40V207.50M84.91 203.40L89.01 207.50M84.91 207.50L89.01 203.40M84.76 205.19H88.86M86.81 203.14V207.24M84.76 203.14L88.86 207.24M84.76 207.24L88.86 203.14M84.62 204.93H88.72M86.67 202.88V206.98M84.62 202.88L88.72 206.98M84.62 206.98L88.72 202.88M84.47 204.68H88.57M86.52 202.63V206.73M84.47 202.63L88.57 206.73M84.47 206.73L88.57 202.63M84.33 204.43H88.43M86.38 202.38V206.48M84.33 202.38L88.43 206.48M84.33 206.48L88.43 202.38M84.18 204.18H88.28M86.23 202.13V206.23M84.18 202.13L88.28 206.23M84.18 206.23L88.28 202.13M84.04 203.94H88.14M86.09 201.89V205.99M84.04 201.89L88.14 205.99M84.04 205.99L88.14 201.89M83.90 203.70H88.00M85.95 201.65V205.75M83.90 201.65L88.00 205.75M83.90 205.75L88.00 201.65M83.76 203.46H87.86M85.81 201.41V205.51M83.76 201.41L87.86 205.51M83.76 205.51L87.86 201.41M83.61 203.23H87.71M85.66 201.18V205.28M83.61 201.18L87.71 205.28M83.61 205.28L87.71 201.18M83.47 203.00H87.57M85.52 200.95V205.05M83.47 200.95L87.57 205.05M83.47 205.05L87.57 200.95M83.33 202.78H87.43M85.38 200.73V204.83M83.33 200.73L87.43 204.83M83.33 204.83L87.43 200.73M83.20 202.55H87.30M85.25 200.50V204.60M83.20 200.50L87.30 204.60M83.20 204.60L87.30 200.50M83.06 202.33H87.16M85.11 200.28V204.38M83.06 200.28L87.16 204.38M83.06 204.38L87.16 200.28M82.92 202.11H87.02M84.97 200.06V204.16M82.92 200.06L87.02 204.16M82.92 204.16L87.02 200.06M82.78 201.90H86.88M84.83 199.85V203.95M82.78 199.85L86.88 203.95M82.78 203.95L86.88 199.85M82.64 201.69H86.74M84.69 199.64V203.74M82.64 199.64L86.74 203.74M82.64 203.74L86.74 199.64M82.50 201.48H86.60M84.55 199.43V203.53M82.50 199.43L86.60 203.53M82.50 203.53L86.60 199.43M82.37 201.27H86.47M84.42 199.22V203.32M82.37 199.22L86.47 203.32M82.37 203.32L86.47 199.22M82.23 201.06H86.33M84.28 199.01V203.11M82.23 199.01L86.33 203.11M82.23 203.11L86.33 199.01M82.10 200.86H86.20M84.15 198.81V202.91M82.10 198.81L86.20 202.91M82.10 202.91L86.20 198.81M81.96 200.66H86.06M84.01 198.61V202.71M81.96 198.61L86.06 202.71M81.96 202.71L86.06 198.61M81.83 200.46H85.93M83.88 198.41V202.51M81.83 198.41L85.93 202.51M81.83 202.51L85.93 198.41M81.69 200.27H85.79M83.74 198.22V202.32M81.69 198.22L85.79 202.32M81.69 202.32L85.79 198.22M81.56 200.07H85.66M83.61 198.02V202.12M81.56 198.02L85.66 202.12M81.56 202.12L85.66 198.02M81.42 199.88H85.52M83.47 197.83V201.93M81.42 197.83L85.52 201.93M81.42 201.93L85.52 197.83M81.29 199.69H85.39M83.34 197.64V201.74M81.29 197.64L85.39 201.74M81.29 201.74L85.39 197.64M81.16 199.51H85.26M83.21 197.46V201.56M81.16 197.46L85.26 201.56M81.16 201.56L85.26 197.46M81.02 199.32H85.12M83.07 197.27V201.37M81.02 197.27L85.12 201.37M81.02 201.37L85.12 197.27M80.89 199.14H84.99M82.94 197.09V201.19M80.89 197.09L84.99 201.19M80.89 201.19L84.99 197.09M80.76 198.96H84.86M82.81 196.91V201.01M80.76 196.91L84.86 201.01M80.76 201.01L84.86 196.91M80.62 198.78H84.72M82.67 196.73V200.83M80.62 196.73L84.72 200.83M80.62 200.83L84.72 196.73M80.49 198.60H84.59M82.54 196.55V200.65M80.49 196.55L84.59 200.65M80.49 200.65L84.59 196.55M80.36 198.43H84.46M82.41 196.38V200.48M80.36 196.38L84.46 200.48M80.36 200.48L84.46 196.38M80.22 198.25H84.32M82.27 196.20V200.30M80.22 196.20L84.32 200.30M80.22 200.30L84.32 196.20M80.09 198.08H84.19M82.14 196.03V200.13M80.09 196.03L84.19 200.13M80.09 200.13L84.19 196.03M79.96 197.91H84.06M82.01 195.86V199.96M79.96 195.86L84.06 199.96M79.96 199.96L84.06 195.86M79.83 197.74H83.93M81.88 195.69V199.79M79.83 195.69L83.93 199.79M79.83 199.79L83.93 195.69M79.70 197.58H83.80M81.75 195.53V199.63M79.70 195.53L83.80 199.63M79.70 199.63L83.80 195.53M79.56 197.41H83.66M81.61 195.36V199.46M79.56 195.36L83.66 199.46M79.56 199.46L83.66 195.36M79.43 197.25H83.53M81.48 195.20V199.30M79.43 195.20L83.53 199.30M79.43 199.30L83.53 195.20M79.30 197.09H83.40M81.35 195.04V199.14M79.30 195.04L83.40 199.14M79.30 199.14L83.40 195.04M79.17 196.93H83.27M81.22 194.88V198.98M79.17 194.88L83.27 198.98M79.17 198.98L83.27 194.88M79.04 196.77H83.14M81.09 194.72V198.82M79.04 194.72L83.14 198.82M79.04 198.82L83.14 194.72M78.91 196.61H83.01M80.96 194.56V198.66M78.91 194.56L83.01 198.66M78.91 198.66L83.01 194.56M78.78 196.45H82.88M80.83 194.40V198.50M78.78 194.40L82.88 198.50M78.78 198.50L82.88 194.40M78.65 196.30H82.75M80.70 194.25V198.35M78.65 194.25L82.75 198.35M78.65 198.35L82.75 194.25M78.52 196.14H82.62M80.57 194.09V198.19M78.52 194.09L82.62 198.19M78.52 198.19L82.62 194.09M78.38 195.99H82.48M80.43 193.94V198.04M78.38 193.94L82.48 198.04M78.38 198.04L82.48 193.94M78.25 195.84H82.35M80.30 193.79V197.89M78.25 193.79L82.35 197.89M78.25 197.89L82.35 193.79M78.12 195.69H82.22M80.17 193.64V197.74M78.12 193.64L82.22 197.74M78.12 197.74L82.22 193.64M77.99 195.54H82.09M80.04 193.49V197.59M77.99 193.49L82.09 197.59M77.99 197.59L82.09 193.49M77.86 195.40H81.96M79.91 193.35V197.45M77.86 193.35L81.96 197.45M77.86 197.45L81.96 193.35M77.73 195.25H81.83M79.78 193.20V197.30M77.73 193.20L81.83 197.30M77.73 197.30L81.83 193.20M77.60 195.11H81.70M79.65 193.06V197.16M77.60 193.06L81.70 197.16M77.60 197.16L81.70 193.06M77.47 194.97H81.57M79.52 192.92V197.02M77.47 192.92L81.57 197.02M77.47 197.02L81.57 192.92M77.34 194.82H81.44M79.39 192.77V196.87M77.34 192.77L81.44 196.87M77.34 196.87L81.44 192.77M77.21 194.68H81.31M79.26 192.63V196.73M77.21 192.63L81.31 196.73M77.21 196.73L81.31 192.63M77.07 194.54H81.17M79.12 192.49V196.59M77.07 192.49L81.17 196.59M77.07 196.59L81.17 192.49M76.94 194.41H81.04M78.99 192.36V196.46M76.94 192.36L81.04 196.46M76.94 196.46L81.04 192.36M76.81 194.27H80.91M78.86 192.22V196.32M76.81 192.22L80.91 196.32M76.81 196.32L80.91 192.22M76.68 194.13H80.78M78.73 192.08V196.18M76.68 192.08L80.78 196.18M76.68 196.18L80.78 192.08M76.55 194.00H80.65M78.60 191.95V196.05M76.55 191.95L80.65 196.05M76.55 196.05L80.65 191.95M76.42 193.86H80.52M78.47 191.81V195.91M76.42 191.81L80.52 195.91M76.42 195.91L80.52 191.81M76.29 193.73H80.39M78.34 191.68V195.78M76.29 191.68L80.39 195.78M76.29 195.78L80.39 191.68M76.15 193.60H80.25M78.20 191.55V195.65M76.15 191.55L80.25 195.65M76.15 195.65L80.25 191.55M76.02 193.47H80.12M78.07 191.42V195.52M76.02 191.42L80.12 195.52M76.02 195.52L80.12 191.42M75.89 193.34H79.99M77.94 191.29V195.39M75.89 191.29L79.99 195.39M75.89 195.39L79.99 191.29M75.76 193.21H79.86M77.81 191.16V195.26M75.76 191.16L79.86 195.26M75.76 195.26L79.86 191.16M75.62 193.08H79.72M77.67 191.03V195.13M75.62 191.03L79.72 195.13M75.62 195.13L79.72 191.03M75.49 192.95H79.59M77.54 190.90V195.00M75.49 190.90L79.59 195.00M75.49 195.00L79.59 190.90M75.36 192.83H79.46M77.41 190.78V194.88M75.36 190.78L79.46 194.88M75.36 194.88L79.46 190.78M75.23 192.70H79.33M77.28 190.65V194.75M75.23 190.65L79.33 194.75M75.23 194.75L79.33 190.65M75.09 192.58H79.19M77.14 190.53V194.63M75.09 190.53L79.19 194.63M75.09 194.63L79.19 190.53M74.96 192.45H79.06M77.01 190.40V194.50M74.96 190.40L79.06 194.50M74.96 194.50L79.06 190.40M74.83 192.33H78.93M76.88 190.28V194.38M74.83 190.28L78.93 194.38M74.83 194.38L78.93 190.28M74.69 192.21H78.79M76.74 190.16V194.26M74.69 190.16L78.79 194.26M74.69 194.26L78.79 190.16M74.56 192.09H78.66M76.61 190.04V194.14M74.56 190.04L78.66 194.14M74.56 194.14L78.66 190.04M74.43 191.97H78.53M76.48 189.92V194.02M74.43 189.92L78.53 194.02M74.43 194.02L78.53 189.92M74.29 191.85H78.39M76.34 189.80V193.90M74.29 189.80L78.39 193.90M74.29 193.90L78.39 189.80M74.16 191.73H78.26M76.21 189.68V193.78M74.16 189.68L78.26 193.78M74.16 193.78L78.26 189.68M74.02 191.62H78.12M76.07 189.57V193.67M74.02 189.57L78.12 193.67M74.02 193.67L78.12 189.57M73.88 191.50H77.98M75.93 189.45V193.55M73.88 189.45L77.98 193.55M73.88 193.55L77.98 189.45M73.75 191.38H77.85M75.80 189.33V193.43M73.75 189.33L77.85 193.43M73.75 193.43L77.85 189.33M73.61 191.27H77.71M75.66 189.22V193.32M73.61 189.22L77.71 193.32M73.61 193.32L77.71 189.22M73.48 191.15H77.58M75.53 189.10V193.20M73.48 189.10L77.58 193.20M73.48 193.20L77.58 189.10M73.34 191.04H77.44M75.39 188.99V193.09M73.34 188.99L77.44 193.09M73.34 193.09L77.44 188.99M73.21 190.93H77.31M75.26 188.88V192.98M73.21 188.88L77.31 192.98M73.21 192.98L77.31 188.88M73.07 190.82H77.17M75.12 188.77V192.87M73.07 188.77L77.17 192.87M73.07 192.87L77.17 188.77M72.93 190.70H77.03M74.98 188.65V192.75M72.93 188.65L77.03 192.75M72.93 192.75L77.03 188.65M72.80 190.59H76.90M74.85 188.54V192.64M72.80 188.54L76.90 192.64M72.80 192.64L76.90 188.54M72.66 190.48H76.76M74.71 188.43V192.53M72.66 188.43L76.76 192.53M72.66 192.53L76.76 188.43M72.52 190.38H76.62M74.57 188.33V192.43M72.52 188.33L76.62 192.43M72.52 192.43L76.62 188.33M72.38 190.27H76.48M74.43 188.22V192.32M72.38 188.22L76.48 192.32M72.38 192.32L76.48 188.22M72.24 190.16H76.34M74.29 188.11V192.21M72.24 188.11L76.34 192.21M72.24 192.21L76.34 188.11M72.11 190.05H76.21M74.16 188.00V192.10M72.11 188.00L76.21 192.10M72.11 192.10L76.21 188.00M71.97 189.95H76.07M74.02 187.90V192.00M71.97 187.90L76.07 192.00M71.97 192.00L76.07 187.90M71.83 189.84H75.93M73.88 187.79V191.89M71.83 187.79L75.93 191.89M71.83 191.89L75.93 187.79M71.69 189.73H75.79M73.74 187.68V191.78M71.69 187.68L75.79 191.78M71.69 191.78L75.79 187.68M71.55 189.63H75.65M73.60 187.58V191.68M71.55 187.58L75.65 191.68M71.55 191.68L75.65 187.58M71.41 189.53H75.51M73.46 187.48V191.58M71.41 187.48L75.51 191.58M71.41 191.58L75.51 187.48M71.26 189.42H75.36M73.31 187.37V191.47M71.26 187.37L75.36 191.47M71.26 191.47L75.36 187.37M71.12 189.32H75.22M73.17 187.27V191.37M71.12 187.27L75.22 191.37M71.12 191.37L75.22 187.27M70.98 189.22H75.08M73.03 187.17V191.27M70.98 187.17L75.08 191.27M70.98 191.27L75.08 187.17M70.84 189.12H74.94M72.89 187.07V191.17M70.84 187.07L74.94 191.17M70.84 191.17L74.94 187.07M70.69 189.02H74.79M72.74 186.97V191.07M70.69 186.97L74.79 191.07M70.69 191.07L74.79 186.97M70.55 188.92H74.65M72.60 186.87V190.97M70.55 186.87L74.65 190.97M70.55 190.97L74.65 186.87M70.41 188.82H74.51M72.46 186.77V190.87M70.41 186.77L74.51 190.87M70.41 190.87L74.51 186.77M70.26 188.72H74.36M72.31 186.67V190.77M70.26 186.67L74.36 190.77M70.26 190.77L74.36 186.67M70.11 188.62H74.21M72.16 186.57V190.67M70.11 186.57L74.21 190.67M70.11 190.67L74.21 186.57M69.97 188.52H74.07M72.02 186.47V190.57M69.97 186.47L74.07 190.57M69.97 190.57L74.07 186.47M69.82 188.42H73.92M71.87 186.37V190.47M69.82 186.37L73.92 190.47M69.82 190.47L73.92 186.37M69.67 188.33H73.77M71.72 186.28V190.38M69.67 186.28L73.77 190.38M69.67 190.38L73.77 186.28M69.53 188.23H73.63M71.58 186.18V190.28M69.53 186.18L73.63 190.28M69.53 190.28L73.63 186.18M69.38 188.14H73.48M71.43 186.09V190.19M69.38 186.09L73.48 190.19M69.38 190.19L73.48 186.09M69.23 188.04H73.33M71.28 185.99V190.09M69.23 185.99L73.33 190.09M69.23 190.09L73.33 185.99M69.08 187.95H73.18M71.13 185.90V190.00M69.08 185.90L73.18 190.00M69.08 190.00L73.18 185.90M68.93 187.85H73.03M70.98 185.80V189.90M68.93 185.80L73.03 189.90M68.93 189.90L73.03 185.80M68.78 187.76H72.88M70.83 185.71V189.81M68.78 185.71L72.88 189.81M68.78 189.81L72.88 185.71M68.63 187.67H72.73M70.68 185.62V189.72M68.63 185.62L72.73 189.72M68.63 189.72L72.73 185.62M68.48 187.57H72.58M70.53 185.52V189.62M68.48 185.52L72.58 189.62M68.48 189.62L72.58 185.52M68.33 187.48H72.43M70.38 185.43V189.53M68.33 185.43L72.43 189.53M68.33 189.53L72.43 185.43M68.18 187.39H72.28M70.23 185.34V189.44M68.18 185.34L72.28 189.44M68.18 189.44L72.28 185.34M68.02 187.30H72.12M70.07 185.25V189.35M68.02 185.25L72.12 189.35M68.02 189.35L72.12 185.25M67.87 187.21H71.97M69.92 185.16V189.26M67.87 185.16L71.97 189.26M67.87 189.26L71.97 185.16M67.71 187.12H71.81M69.76 185.07V189.17M67.71 185.07L71.81 189.17M67.71 189.17L71.81 185.07M67.56 187.03H71.66M69.61 184.98V189.08M67.56 184.98L71.66 189.08M67.56 189.08L71.66 184.98M67.40 186.94H71.50M69.45 184.89V188.99M67.40 184.89L71.50 188.99M67.40 188.99L71.50 184.89M67.25 186.85H71.35M69.30 184.80V188.90M67.25 184.80L71.35 188.90M67.25 188.90L71.35 184.80M67.09 186.76H71.19M69.14 184.71V188.81M67.09 184.71L71.19 188.81M67.09 188.81L71.19 184.71M66.94 186.67H71.04M68.99 184.62V188.72M66.94 184.62L71.04 188.72M66.94 188.72L71.04 184.62M66.78 186.59H70.88M68.83 184.54V188.64M66.78 184.54L70.88 188.64M66.78 188.64L70.88 184.54M66.62 186.50H70.72M68.67 184.45V188.55M66.62 184.45L70.72 188.55M66.62 188.55L70.72 184.45M66.46 186.41H70.56M68.51 184.36V188.46M66.46 184.36L70.56 188.46M66.46 188.46L70.56 184.36M66.29 186.33H70.39M68.34 184.28V188.38M66.29 184.28L70.39 188.38M66.29 188.38L70.39 184.28M66.13 186.24H70.23M68.18 184.19V188.29M66.13 184.19L70.23 188.29M66.13 188.29L70.23 184.19M65.97 186.16H70.07M68.02 184.11V188.21M65.97 184.11L70.07 188.21M65.97 188.21L70.07 184.11M65.81 186.07H69.91M67.86 184.02V188.12M65.81 184.02L69.91 188.12M65.81 188.12L69.91 184.02M65.64 185.99H69.74M67.69 183.94V188.04M65.64 183.94L69.74 188.04M65.64 188.04L69.74 183.94M65.48 185.90H69.58M67.53 183.85V187.95M65.48 183.85L69.58 187.95M65.48 187.95L69.58 183.85M65.31 185.82H69.41M67.36 183.77V187.87M65.31 183.77L69.41 187.87M65.31 187.87L69.41 183.77M65.14 185.74H69.24M67.19 183.69V187.79M65.14 183.69L69.24 187.79M65.14 187.79L69.24 183.69M64.97 185.66H69.07M67.02 183.61V187.71M64.97 183.61L69.07 187.71M64.97 187.71L69.07 183.61M64.80 185.57H68.90M66.85 183.52V187.62M64.80 183.52L68.90 187.62M64.80 187.62L68.90 183.52M64.63 185.49H68.73M66.68 183.44V187.54M64.63 183.44L68.73 187.54M64.63 187.54L68.73 183.44M64.46 185.41H68.56M66.51 183.36V187.46M64.46 183.36L68.56 187.46M64.46 187.46L68.56 183.36M64.29 185.33H68.39M66.34 183.28V187.38M64.29 183.28L68.39 187.38M64.29 187.38L68.39 183.28M64.12 185.25H68.22M66.17 183.20V187.30M64.12 183.20L68.22 187.30M64.12 187.30L68.22 183.20M63.94 185.17H68.04M65.99 183.12V187.22M63.94 183.12L68.04 187.22M63.94 187.22L68.04 183.12M63.77 185.09H67.87M65.82 183.04V187.14M63.77 183.04L67.87 187.14M63.77 187.14L67.87 183.04M63.59 185.01H67.69M65.64 182.96V187.06M63.59 182.96L67.69 187.06M63.59 187.06L67.69 182.96M63.41 184.93H67.51M65.46 182.88V186.98M63.41 182.88L67.51 186.98M63.41 186.98L67.51 182.88M63.23 184.85H67.33M65.28 182.80V186.90M63.23 182.80L67.33 186.90M63.23 186.90L67.33 182.80M63.05 184.77H67.15M65.10 182.72V186.82M63.05 182.72L67.15 186.82M63.05 186.82L67.15 182.72M62.87 184.69H66.97M64.92 182.64V186.74M62.87 182.64L66.97 186.74M62.87 186.74L66.97 182.64M62.69 184.62H66.79M64.74 182.57V186.67M62.69 182.57L66.79 186.67M62.69 186.67L66.79 182.57M62.50 184.54H66.60M64.55 182.49V186.59M62.50 182.49L66.60 186.59M62.50 186.59L66.60 182.49M62.32 184.46H66.42M64.37 182.41V186.51M62.32 182.41L66.42 186.51M62.32 186.51L66.42 182.41M62.13 184.39H66.23M64.18 182.34V186.44M62.13 182.34L66.23 186.44M62.13 186.44L66.23 182.34M61.94 184.31H66.04M63.99 182.26V186.36M61.94 182.26L66.04 186.36M61.94 186.36L66.04 182.26M61.75 184.23H65.85M63.80 182.18V186.28M61.75 182.18L65.85 186.28M61.75 186.28L65.85 182.18M61.56 184.16H65.66M63.61 182.11V186.21M61.56 182.11L65.66 186.21M61.56 186.21L65.66 182.11M61.37 184.08H65.47M63.42 182.03V186.13M61.37 182.03L65.47 186.13M61.37 186.13L65.47 182.03M61.18 184.01H65.28M63.23 181.96V186.06M61.18 181.96L65.28 186.06M61.18 186.06L65.28 181.96M60.98 183.93H65.08M63.03 181.88V185.98M60.98 181.88L65.08 185.98M60.98 185.98L65.08 181.88M60.78 183.86H64.88M62.83 181.81V185.91M60.78 181.81L64.88 185.91M60.78 185.91L64.88 181.81M60.59 183.78H64.69M62.64 181.73V185.83M60.59 181.73L64.69 185.83M60.59 185.83L64.69 181.73M60.39 183.71H64.49M62.44 181.66V185.76M60.39 181.66L64.49 185.76M60.39 185.76L64.49 181.66M60.19 183.64H64.29M62.24 181.59V185.69M60.19 181.59L64.29 185.69M60.19 185.69L64.29 181.59M59.99 183.56H64.09M62.04 181.51V185.61M59.99 181.51L64.09 185.61M59.99 185.61L64.09 181.51M59.78 183.49H63.88M61.83 181.44V185.54M59.78 181.44L63.88 185.54M59.78 185.54L63.88 181.44M59.58 183.42H63.68M61.63 181.37V185.47M59.58 181.37L63.68 185.47M59.58 185.47L63.68 181.37M59.37 183.35H63.47M61.42 181.30V185.40M59.37 181.30L63.47 185.40M59.37 185.40L63.47 181.30M59.16 183.27H63.26M61.21 181.22V185.32M59.16 181.22L63.26 185.32M59.16 185.32L63.26 181.22M58.95 183.20H63.05M61.00 181.15V185.25M58.95 181.15L63.05 185.25M58.95 185.25L63.05 181.15M58.74 183.13H62.84M60.79 181.08V185.18M58.74 181.08L62.84 185.18M58.74 185.18L62.84 181.08M58.52 183.06H62.62M60.57 181.01V185.11M58.52 181.01L62.62 185.11M58.52 185.11L62.62 181.01M58.30 182.99H62.40M60.35 180.94V185.04M58.30 180.94L62.40 185.04M58.30 185.04L62.40 180.94M58.09 182.92H62.19M60.14 180.87V184.97M58.09 180.87L62.19 184.97M58.09 184.97L62.19 180.87M57.86 182.85H61.96M59.91 180.80V184.90M57.86 180.80L61.96 184.90M57.86 184.90L61.96 180.80M57.64 182.78H61.74M59.69 180.73V184.83M57.64 180.73L61.74 184.83M57.64 184.83L61.74 180.73M57.42 182.71H61.52M59.47 180.66V184.76M57.42 180.66L61.52 184.76M57.42 184.76L61.52 180.66M57.19 182.64H61.29M59.24 180.59V184.69M57.19 180.59L61.29 184.69M57.19 184.69L61.29 180.59M56.96 182.57H61.06M59.01 180.52V184.62M56.96 180.52L61.06 184.62M56.96 184.62L61.06 180.52M56.73 182.50H60.83M58.78 180.45V184.55M56.73 180.45L60.83 184.55M56.73 184.55L60.83 180.45M56.50 182.43H60.60M58.55 180.38V184.48M56.50 180.38L60.60 184.48M56.50 184.48L60.60 180.38M56.26 182.37H60.36M58.31 180.32V184.42M56.26 180.32L60.36 184.42M56.26 184.42L60.36 180.32M56.02 182.30H60.12M58.07 180.25V184.35M56.02 180.25L60.12 184.35M56.02 184.35L60.12 180.25M55.78 182.23H59.88M57.83 180.18V184.28M55.78 180.18L59.88 184.28M55.78 184.28L59.88 180.18M55.53 182.16H59.63M57.58 180.11V184.21M55.53 180.11L59.63 184.21M55.53 184.21L59.63 180.11M55.29 182.10H59.39M57.34 180.05V184.15M55.29 180.05L59.39 184.15M55.29 184.15L59.39 180.05M55.04 182.03H59.14M57.09 179.98V184.08M55.04 179.98L59.14 184.08M55.04 184.08L59.14 179.98M54.78 181.96H58.88M56.83 179.91V184.01M54.78 179.91L58.88 184.01M54.78 184.01L58.88 179.91M54.53 181.90H58.63M56.58 179.85V183.95M54.53 179.85L58.63 183.95M54.53 183.95L58.63 179.85M54.27 181.83H58.37M56.32 179.78V183.88M54.27 179.78L58.37 183.88M54.27 183.88L58.37 179.78M54.01 181.77H58.11M56.06 179.72V183.82M54.01 179.72L58.11 183.82M54.01 183.82L58.11 179.72M53.75 181.70H57.85M55.80 179.65V183.75M53.75 179.65L57.85 183.75M53.75 183.75L57.85 179.65M53.48 181.64H57.58M55.53 179.59V183.69M53.48 179.59L57.58 183.69M53.48 183.69L57.58 179.59M53.21 181.57H57.31M55.26 179.52V183.62M53.21 179.52L57.31 183.62M53.21 183.62L57.31 179.52M52.93 181.51H57.03M54.98 179.46V183.56M52.93 179.46L57.03 183.56M52.93 183.56L57.03 179.46M52.65 181.44H56.75M54.70 179.39V183.49M52.65 179.39L56.75 183.49M52.65 183.49L56.75 179.39M52.37 181.38H56.47M54.42 179.33V183.43M52.37 179.33L56.47 183.43M52.37 183.43L56.47 179.33M52.09 181.31H56.19M54.14 179.26V183.36M52.09 179.26L56.19 183.36M52.09 183.36L56.19 179.26M51.80 181.25H55.90M53.85 179.20V183.30M51.80 179.20L55.90 183.30M51.80 183.30L55.90 179.20M51.50 181.19H55.60M53.55 179.14V183.24M51.50 179.14L55.60 183.24M51.50 183.24L55.60 179.14M51.20 181.12H55.30M53.25 179.07V183.17M51.20 179.07L55.30 183.17M51.20 183.17L55.30 179.07M50.90 181.06H55.00M52.95 179.01V183.11M50.90 179.01L55.00 183.11M50.90 183.11L55.00 179.01M50.60 181.00H54.70M52.65 178.95V183.05M50.60 178.95L54.70 183.05M50.60 183.05L54.70 178.95M50.29 180.93H54.39M52.34 178.88V182.98M50.29 178.88L54.39 182.98M50.29 182.98L54.39 178.88M49.98 180.87H54.08M52.03 178.82V182.92M49.98 178.82L54.08 182.92M49.98 182.92L54.08 178.82M49.66 180.81H53.76M51.71 178.76V182.86M49.66 178.76L53.76 182.86M49.66 182.86L53.76 178.76M49.33 180.75H53.43M51.38 178.70V182.80M49.33 178.70L53.43 182.80M49.33 182.80L53.43 178.70M49.00 180.69H53.10M51.05 178.64V182.74M49.00 178.64L53.10 182.74M49.00 182.74L53.10 178.64M48.66 180.62H52.76M50.71 178.57V182.67M48.66 178.57L52.76 182.67M48.66 182.67L52.76 178.57M48.32 180.56H52.42M50.37 178.51V182.61M48.32 178.51L52.42 182.61M48.32 182.61L52.42 178.51M47.97 180.50H52.07M50.02 178.45V182.55M47.97 178.45L52.07 182.55M47.97 182.55L52.07 178.45M47.62 180.44H51.72M49.67 178.39V182.49M47.62 178.39L51.72 182.49M47.62 182.49L51.72 178.39M47.26 180.38H51.36M49.31 178.33V182.43M47.26 178.33L51.36 182.43M47.26 182.43L51.36 178.33M46.90 180.32H51.00M48.95 178.27V182.37M46.90 178.27L51.00 182.37M46.90 182.37L51.00 178.27M46.53 180.26H50.63M48.58 178.21V182.31M46.53 178.21L50.63 182.31M46.53 182.31L50.63 178.21M46.15 180.20H50.25M48.20 178.15V182.25M46.15 178.15L50.25 182.25M46.15 182.25L50.25 178.15M45.76 180.14H49.86M47.81 178.09V182.19M45.76 178.09L49.86 182.19M45.76 182.19L49.86 178.09M45.36 180.08H49.46M47.41 178.03V182.13M45.36 178.03L49.46 182.13M45.36 182.13L49.46 178.03M44.97 180.02H49.07M47.02 177.97V182.07M44.97 177.97L49.07 182.07M44.97 182.07L49.07 177.97M44.56 179.96H48.66M46.61 177.91V182.01M44.56 177.91L48.66 182.01M44.56 182.01L48.66 177.91M44.14 179.90H48.24M46.19 177.85V181.95M44.14 177.85L48.24 181.95M44.14 181.95L48.24 177.85M43.71 179.84H47.81M45.76 177.79V181.89M43.71 177.79L47.81 181.89M43.71 181.89L47.81 177.79M43.28 179.79H47.38M45.33 177.74V181.84M43.28 177.74L47.38 181.84M43.28 181.84L47.38 177.74M42.83 179.73H46.93M44.88 177.68V181.78M42.83 177.68L46.93 181.78M42.83 181.78L46.93 177.68M42.36 179.67H46.46M44.41 177.62V181.72M42.36 177.62L46.46 181.72M42.36 181.72L46.46 177.62M41.90 179.61H46.00M43.95 177.56V181.66M41.90 177.56L46.00 181.66M41.90 181.66L46.00 177.56M41.42 179.55H45.52M43.47 177.50V181.60M41.42 177.50L45.52 181.60M41.42 181.60L45.52 177.50M40.92 179.50H45.02M42.97 177.45V181.55M40.92 177.45L45.02 181.55M40.92 181.55L45.02 177.45M40.41 179.44H44.51M42.46 177.39V181.49M40.41 177.39L44.51 181.49M40.41 181.49L44.51 177.39M39.90 179.38H44.00M41.95 177.33V181.43M39.90 177.33L44.00 181.43M39.90 181.43L44.00 177.33M39.36 179.32H43.46M41.41 177.27V181.37M39.36 177.27L43.46 181.37M39.36 181.37L43.46 177.27M38.81 179.27H42.91M40.86 177.22V181.32M38.81 177.22L42.91 181.32M38.81 181.32L42.91 177.22M38.24 179.21H42.34M40.29 177.16V181.26M38.24 177.16L42.34 181.26M38.24 181.26L42.34 177.16M37.65 179.15H41.75M39.70 177.10V181.20M37.65 177.10L41.75 181.20M37.65 181.20L41.75 177.10M37.05 179.10H41.15M39.10 177.05V181.15M37.05 177.05L41.15 181.15M37.05 181.15L41.15 177.05M36.43 179.04H40.53M38.48 176.99V181.09M36.43 176.99L40.53 181.09M36.43 181.09L40.53 176.99" stroke="#0000ff" stroke-width="0.68" fill="none"/>
<path d="M147.18 265.74H151.28V269.84H147.18ZM148.93 267.79h0.6M140.30 257.73H144.40V261.83H140.30ZM142.05 259.78h0.6M135.69 252.30H139.79V256.40H135.69ZM137.44 254.35h0.6M132.24 248.19H136.34V252.29H132.24ZM133.99 250.24h0.6M129.43 244.89H133.53V248.99H129.43ZM131.18 246.94h0.6M127.11 242.12H131.21V246.22H127.11ZM128.86 244.17h0.6M125.11 239.74H129.21V243.84H125.11ZM126.86 241.79h0.6M123.36 237.65H127.46V241.75H123.36ZM125.11 239.70h0.6M121.78 235.79H125.88V239.89H121.78ZM123.53 237.84h0.6M120.37 234.11H124.47V238.21H120.37ZM122.12 236.16h0.6M119.09 232.58H123.19V236.68H119.09ZM120.84 234.63h0.6M117.93 231.18H122.03V235.28H117.93ZM119.68 233.23h0.6M116.85 229.89H120.95V233.99H116.85ZM118.60 231.94h0.6M115.85 228.68H119.95V232.78H115.85ZM117.60 230.73h0.6M114.93 227.56H119.03V231.66H114.93ZM116.68 229.61h0.6M114.05 226.50H118.15V230.60H114.05ZM115.80 228.55h0.6M113.22 225.51H117.32V229.61H113.22ZM114.97 227.56h0.6M112.44 224.57H116.54V228.67H112.44ZM114.19 226.62h0.6M111.70 223.68H115.80V227.78H111.70ZM113.45 225.73h0.6M110.99 222.84H115.09V226.94H110.99ZM112.74 224.89h0.6M110.32 222.03H114.42V226.13H110.32ZM112.07 224.08h0.6M109.67 221.26H113.77V225.36H109.67ZM111.42 223.31h0.6M109.06 220.53H113.16V224.63H109.06ZM110.81 222.58h0.6M108.47 219.82H112.57V223.92H108.47ZM110.22 221.87h0.6M107.90 219.15H112.00V223.25H107.90ZM109.65 221.20h0.6M107.35 218.50H111.45V222.60H107.35ZM109.10 220.55h0.6M106.82 217.87H110.92V221.97H106.82ZM108.57 219.92h0.6M106.31 217.26H110.41V221.36H106.31ZM108.06 219.31h0.6M105.81 216.68H109.91V220.78H105.81ZM107.56 218.73h0.6M105.33 216.11H109.43V220.21H105.33ZM107.08 218.16h0.6M104.87 215.57H108.97V219.67H104.87ZM106.62 217.62h0.6M104.42 215.04H108.52V219.14H104.42ZM106.17 217.09h0.6M103.98 214.52H108.08V218.62H103.98ZM105.73 216.57h0.6M103.55 214.03H107.65V218.13H103.55ZM105.30 216.08h0.6M103.14 213.54H107.24V217.64H103.14ZM104.89 215.59h0.6M102.73 213.07H106.83V217.17H102.73ZM104.48 215.12h0.6M102.33 212.61H106.43V216.71H102.33ZM104.08 214.66h0.6M101.95 212.16H106.05V216.26H101.95ZM103.70 214.21h0.6M101.57 211.73H105.67V215.83H101.57ZM103.32 213.78h0.6M101.20 211.31H105.30V215.41H101.20ZM102.95 213.36h0.6M100.84 210.89H104.94V214.99H100.84ZM102.59 212.94h0.6M100.49 210.49H104.59V214.59H100.49ZM102.24 212.54h0.6M100.15 210.09H104.25V214.19H100.15ZM101.90 212.14h0.6M99.81 209.71H103.91V213.81H99.81ZM101.56 211.76h0.6M99.48 209.33H103.58V213.43H99.48ZM101.23 211.38h0.6M99.15 208.96H103.25V213.06H99.15ZM100.90 211.01h0.6M98.83 208.60H102.93V212.70H98.83ZM100.58 210.65h0.6M98.52 208.25H102.62V212.35H98.52ZM100.27 210.30h0.6M98.20 207.90H102.30V212.00H98.20ZM99.95 209.95h0.6M97.90 207.56H102.00V211.66H97.90ZM99.65 209.61h0.6M97.60 207.23H101.70V211.33H97.60ZM99.35 209.28h0.6M97.30 206.90H101.40V211.00H97.30ZM99.05 208.95h0.6M97.01 206.58H101.11V210.68H97.01ZM98.76 208.63h0.6M96.73 206.26H100.83V210.36H96.73ZM98.48 208.31h0.6M96.44 205.96H100.54V210.06H96.44ZM98.19 208.01h0.6M96.16 205.65H100.26V209.75H96.16ZM97.91 207.70h0.6M95.88 205.35H99.98V209.45H95.88ZM97.63 207.40h0.6M95.61 205.06H99.71V209.16H95.61ZM97.36 207.11h0.6M95.35 204.77H99.45V208.87H95.35ZM97.10 206.82h0.6M95.08 204.49H99.18V208.59H95.08ZM96.83 206.54h0.6M94.81 204.21H98.91V208.31H94.81ZM96.56 206.26h0.6M94.55 203.94H98.65V208.04H94.55ZM96.30 205.99h0.6M94.30 203.67H98.40V207.77H94.30ZM96.05 205.72h0.6M94.05 203.40H98.15V207.50H94.05ZM95.80 205.45h0.6M93.80 203.14H97.90V207.24H93.80ZM95.55 205.19h0.6M93.55 202.88H97.65V206.98H93.55ZM95.30 204.93h0.6M93.30 202.63H97.40V206.73H93.30ZM95.05 204.68h0.6M93.06 202.38H97.16V206.48H93.06ZM94.81 204.43h0.6M92.81 202.13H96.91V206.23H92.81ZM94.56 204.18h0.6M92.58 201.89H96.68V205.99H92.58ZM94.33 203.94h0.6M92.34 201.65H96.44V205.75H92.34ZM94.09 203.70h0.6M92.11 201.41H96.21V205.51H92.11ZM93.86 203.46h0.6M91.87 201.18H95.97V205.28H91.87ZM93.62 203.23h0.6M91.64 200.95H95.74V205.05H91.64ZM93.39 203.00h0.6M91.41 200.73H95.51V204.83H91.41ZM93.16 202.78h0.6M91.19 200.50H95.29V204.60H91.19ZM92.94 202.55h0.6M90.96 200.28H95.06V204.38H90.96ZM92.71 202.33h0.6M90.73 200.06H94.83V204.16H90.73ZM92.48 202.11h0.6M90.51 199.85H94.61V203.95H90.51ZM92.26 201.90h0.6M90.29 199.64H94.39V203.74H90.29ZM92.04 201.69h0.6M90.07 199.43H94.17V203.53H90.07ZM91.82 201.48h0.6M89.86 199.22H93.96V203.32H89.86ZM91.61 201.27h0.6M89.64 199.01H93.74V203.11H89.64ZM91.39 201.06h0.6M89.43 198.81H93.53V202.91H89.43ZM91.18 200.86h0.6M89.22 198.61H93.32V202.71H89.22ZM90.97 200.66h0.6M89.01 198.41H93.11V202.51H89.01ZM90.76 200.46h0.6M88.80 198.22H92.90V202.32H88.80ZM90.55 200.27h0.6M88.59 198.02H92.69V202.12H88.59ZM90.34 200.07h0.6M88.38 197.83H92.48V201.93H88.38ZM90.13 199.88h0.6M88.17 197.64H92.27V201.74H88.17ZM89.92 199.69h0.6M87.97 197.46H92.07V201.56H87.97ZM89.72 199.51h0.6M87.76 197.27H91.86V201.37H87.76ZM89.51 199.32h0.6M87.56 197.09H91.66V201.19H87.56ZM89.31 199.14h0.6M87.35 196.91H91.45V201.01H87.35ZM89.10 198.96h0.6M87.15 196.73H91.25V200.83H87.15ZM88.90 198.78h0.6M86.95 196.55H91.05V200.65H86.95ZM88.70 198.60h0.6M86.75 196.38H90.85V200.48H86.75ZM88.50 198.43h0.6M86.56 196.20H90.66V200.30H86.56ZM88.31 198.25h0.6M86.36 196.03H90.46V200.13H86.36ZM88.11 198.08h0.6M86.16 195.86H90.26V199.96H86.16ZM87.91 197.91h0.6M85.96 195.69H90.06V199.79H85.96ZM87.71 197.74h0.6M85.77 195.53H89.87V199.63H85.77ZM87.52 197.58h0.6M85.57 195.36H89.67V199.46H85.57ZM87.32 197.41h0.6M85.38 195.20H89.48V199.30H85.38ZM87.13 197.25h0.6M85.18 195.04H89.28V199.14H85.18ZM86.93 197.09h0.6M84.99 194.88H89.09V198.98H84.99ZM86.74 196.93h0.6M84.80 194.72H88.90V198.82H84.80ZM86.55 196.77h0.6M84.60 194.56H88.70V198.66H84.60ZM86.35 196.61h0.6M84.41 194.40H88.51V198.50H84.41ZM86.16 196.45h0.6M84.22 194.25H88.32V198.35H84.22ZM85.97 196.30h0.6M84.03 194.09H88.13V198.19H84.03ZM85.78 196.14h0.6M83.84 193.94H87.94V198.04H83.84ZM85.59 195.99h0.6M83.66 193.79H87.76V197.89H83.66ZM85.41 195.84h0.6M83.47 193.64H87.57V197.74H83.47ZM85.22 195.69h0.6M83.28 193.49H87.38V197.59H83.28ZM85.03 195.54h0.6M83.09 193.35H87.19V197.45H83.09ZM84.84 195.40h0.6M82.90 193.20H87.00V197.30H82.90ZM84.65 195.25h0.6M82.71 193.06H86.81V197.16H82.71ZM84.46 195.11h0.6M82.53 192.92H86.63V197.02H82.53ZM84.28 194.97h0.6M82.34 192.77H86.44V196.87H82.34ZM84.09 194.82h0.6M82.16 192.63H86.26V196.73H82.16ZM83.91 194.68h0.6M81.97 192.49H86.07V196.59H81.97ZM83.72 194.54h0.6M81.79 192.36H85.89V196.46H81.79ZM83.54 194.41h0.6M81.60 192.22H85.70V196.32H81.60ZM83.35 194.27h0.6M81.41 192.08H85.51V196.18H81.41ZM83.16 194.13h0.6M81.23 191.95H85.33V196.05H81.23ZM82.98 194.00h0.6M81.05 191.81H85.15V195.91H81.05ZM82.80 193.86h0.6M80.86 191.68H84.96V195.78H80.86ZM82.61 193.73h0.6M80.68 191.55H84.78V195.65H80.68ZM82.43 193.60h0.6M80.50 191.42H84.60V195.52H80.50ZM82.25 193.47h0.6M80.31 191.29H84.41V195.39H80.31ZM82.06 193.34h0.6M80.13 191.16H84.23V195.26H80.13ZM81.88 193.21h0.6M79.95 191.03H84.05V195.13H79.95ZM81.70 193.08h0.6M79.76 190.90H83.86V195.00H79.76ZM81.51 192.95h0.6M79.58 190.78H83.68V194.88H79.58ZM81.33 192.83h0.6M79.40 190.65H83.50V194.75H79.40ZM81.15 192.70h0.6M79.22 190.53H83.32V194.63H79.22ZM80.97 192.58h0.6M79.03 190.40H83.13V194.50H79.03ZM80.78 192.45h0.6M78.85 190.28H82.95V194.38H78.85ZM80.60 192.33h0.6M78.67 190.16H82.77V194.26H78.67ZM80.42 192.21h0.6M78.49 190.04H82.59V194.14H78.49ZM80.24 192.09h0.6M78.30 189.92H82.40V194.02H78.30ZM80.05 191.97h0.6M78.12 189.80H82.22V193.90H78.12ZM79.87 191.85h0.6M77.94 189.68H82.04V193.78H77.94ZM79.69 191.73h0.6M77.76 189.57H81.86V193.67H77.76ZM79.51 191.62h0.6M77.57 189.45H81.67V193.55H77.57ZM79.32 191.50h0.6M77.39 189.33H81.49V193.43H77.39ZM79.14 191.38h0.6M77.21 189.22H81.31V193.32H77.21ZM78.96 191.27h0.6M77.02 189.10H81.12V193.20H77.02ZM78.77 191.15h0.6M76.84 188.99H80.94V193.09H76.84ZM78.59 191.04h0.6M76.66 188.88H80.76V192.98H76.66ZM78.41 190.93h0.6M76.48 188.77H80.58V192.87H76.48ZM78.23 190.82h0.6M76.29 188.65H80.39V192.75H76.29ZM78.04 190.70h0.6M76.11 188.54H80.21V192.64H76.11ZM77.86 190.59h0.6M75.93 188.43H80.03V192.53H75.93ZM77.68 190.48h0.6M75.74 188.33H79.84V192.43H75.74ZM77.49 190.38h0.6M75.56 188.22H79.66V192.32H75.56ZM77.31 190.27h0.6M75.37 188.11H79.47V192.21H75.37ZM77.12 190.16h0.6M75.19 188.00H79.29V192.10H75.19ZM76.94 190.05h0.6M75.01 187.90H79.11V192.00H75.01ZM76.76 189.95h0.6M74.82 187.79H78.92V191.89H74.82ZM76.57 189.84h0.6M74.64 187.68H78.74V191.78H74.64ZM76.39 189.73h0.6M74.45 187.58H78.55V191.68H74.45ZM76.20 189.63h0.6M74.27 187.48H78.37V191.58H74.27ZM76.02 189.53h0.6M74.08 187.37H78.18V191.47H74.08ZM75.83 189.42h0.6M73.89 187.27H77.99V191.37H73.89ZM75.64 189.32h0.6M73.71 187.17H77.81V191.27H73.71ZM75.46 189.22h0.6M73.52 187.07H77.62V191.17H73.52ZM75.27 189.12h0.6M73.34 186.97H77.44V191.07H73.34ZM75.09 189.02h0.6M73.15 186.87H77.25V190.97H73.15ZM74.90 188.92h0.6M72.96 186.77H77.06V190.87H72.96ZM74.71 188.82h0.6M72.77 186.67H76.87V190.77H72.77ZM74.52 188.72h0.6M72.59 186.57H76.69V190.67H72.59ZM74.34 188.62h0.6M72.40 186.47H76.50V190.57H72.40ZM74.15 188.52h0.6M72.21 186.37H76.31V190.47H72.21ZM73.96 188.42h0.6M72.02 186.28H76.12V190.38H72.02ZM73.77 188.33h0.6M71.83 186.18H75.93V190.28H71.83ZM73.58 188.23h0.6M71.64 186.09H75.74V190.19H71.64ZM73.39 188.14h0.6M71.45 185.99H75.55V190.09H71.45ZM73.20 188.04h0.6M71.25 185.90H75.35V190.00H71.25ZM73.00 187.95h0.6M71.06 185.80H75.16V189.90H71.06ZM72.81 187.85h0.6M70.87 185.71H74.97V189.81H70.87ZM72.62 187.76h0.6M70.67 185.62H74.77V189.72H70.67ZM72.42 187.67h0.6M70.48 185.52H74.58V189.62H70.48ZM72.23 187.57h0.6M70.28 185.43H74.38V189.53H70.28ZM72.03 187.48h0.6M70.09 185.34H74.19V189.44H70.09ZM71.84 187.39h0.6M69.89 185.25H73.99V189.35H69.89ZM71.64 187.30h0.6M69.70 185.16H73.80V189.26H69.70ZM71.45 187.21h0.6M69.50 185.07H73.60V189.17H69.50ZM71.25 187.12h0.6M69.30 184.98H73.40V189.08H69.30ZM71.05 187.03h0.6M69.11 184.89H73.21V188.99H69.11ZM70.86 186.94h0.6M68.91 184.80H73.01V188.90H68.91ZM70.66 186.85h0.6M68.71 184.71H72.81V188.81H68.71ZM70.46 186.76h0.6M68.51 184.62H72.61V188.72H68.51ZM70.26 186.67h0.6M68.31 184.54H72.41V188.64H68.31ZM70.06 186.59h0.6M68.11 184.45H72.21V188.55H68.11ZM69.86 186.50h0.6M67.90 184.36H72.00V188.46H67.90ZM69.65 186.41h0.6M67.70 184.28H71.80V188.38H67.70ZM69.45 186.33h0.6M67.49 184.19H71.59V188.29H67.49ZM69.24 186.24h0.6M67.29 184.11H71.39V188.21H67.29ZM69.04 186.16h0.6M67.08 184.02H71.18V188.12H67.08ZM68.83 186.07h0.6M66.88 183.94H70.98V188.04H66.88ZM68.63 185.99h0.6M66.67 183.85H70.77V187.95H66.67ZM68.42 185.90h0.6M66.46 183.77H70.56V187.87H66.46ZM68.21 185.82h0.6M66.25 183.69H70.35V187.79H66.25ZM68.00 185.74h0.6M66.04 183.61H70.14V187.71H66.04ZM67.79 185.66h0.6M65.83 183.52H69.93V187.62H65.83ZM67.58 185.57h0.6M65.61 183.44H69.71V187.54H65.61ZM67.36 185.49h0.6M65.40 183.36H69.50V187.46H65.40ZM67.15 185.41h0.6M65.18 183.28H69.28V187.38H65.18ZM66.93 185.33h0.6M64.97 183.20H69.07V187.30H64.97ZM66.72 185.25h0.6M64.75 183.12H68.85V187.22H64.75ZM66.50 185.17h0.6M64.53 183.04H68.63V187.14H64.53ZM66.28 185.09h0.6M64.32 182.96H68.42V187.06H64.32ZM66.07 185.01h0.6M64.10 182.88H68.20V186.98H64.10ZM65.85 184.93h0.6M63.88 182.80H67.98V186.90H63.88ZM65.63 184.85h0.6M63.65 182.72H67.75V186.82H63.65ZM65.40 184.77h0.6M63.43 182.64H67.53V186.74H63.43ZM65.18 184.69h0.6M63.20 182.57H67.30V186.67H63.20ZM64.95 184.62h0.6M62.98 182.49H67.08V186.59H62.98ZM64.73 184.54h0.6M62.75 182.41H66.85V186.51H62.75ZM64.50 184.46h0.6M62.52 182.34H66.62V186.44H62.52ZM64.27 184.39h0.6M62.29 182.26H66.39V186.36H62.29ZM64.04 184.31h0.6M62.05 182.18H66.15V186.28H62.05ZM63.80 184.23h0.6M61.82 182.11H65.92V186.21H61.82ZM63.57 184.16h0.6M61.59 182.03H65.69V186.13H61.59ZM63.34 184.08h0.6M61.35 181.96H65.45V186.06H61.35ZM63.10 184.01h0.6M61.11 181.88H65.21V185.98H61.11ZM62.86 183.93h0.6M60.87 181.81H64.97V185.91H60.87ZM62.62 183.86h0.6M60.63 181.73H64.73V185.83H60.63ZM62.38 183.78h0.6M60.39 181.66H64.49V185.76H60.39ZM62.14 183.71h0.6M60.14 181.59H64.24V185.69H60.14ZM61.89 183.64h0.6M59.89 181.51H63.99V185.61H59.89ZM61.64 183.56h0.6M59.64 181.44H63.74V185.54H59.64ZM61.39 183.49h0.6M59.40 181.37H63.50V185.47H59.40ZM61.15 183.42h0.6M59.14 181.30H63.24V185.40H59.14ZM60.89 183.35h0.6M58.89 181.22H62.99V185.32H58.89ZM60.64 183.27h0.6M58.64 181.15H62.74V185.25H58.64ZM60.39 183.20h0.6M58.38 181.08H62.48V185.18H58.38ZM60.13 183.13h0.6M58.12 181.01H62.22V185.11H58.12ZM59.87 183.06h0.6M57.86 180.94H61.96V185.04H57.86ZM59.61 182.99h0.6M57.59 180.87H61.69V184.97H57.59ZM59.34 182.92h0.6M57.33 180.80H61.43V184.90H57.33ZM59.08 182.85h0.6M57.06 180.73H61.16V184.83H57.06ZM58.81 182.78h0.6M56.79 180.66H60.89V184.76H56.79ZM58.54 182.71h0.6M56.51 180.59H60.61V184.69H56.51ZM58.26 182.64h0.6M56.24 180.52H60.34V184.62H56.24ZM57.99 182.57h0.6M55.96 180.45H60.06V184.55H55.96ZM57.71 182.50h0.6M55.68 180.38H59.78V184.48H55.68ZM57.43 182.43h0.6M55.40 180.32H59.50V184.42H55.40ZM57.15 182.37h0.6M55.11 180.25H59.21V184.35H55.11ZM56.86 182.30h0.6M54.83 180.18H58.93V184.28H54.83ZM56.58 182.23h0.6M54.53 180.11H58.63V184.21H54.53ZM56.28 182.16h0.6M54.24 180.05H58.34V184.15H54.24ZM55.99 182.10h0.6M53.94 179.98H58.04V184.08H53.94ZM55.69 182.03h0.6M53.64 179.91H57.74V184.01H53.64ZM55.39 181.96h0.6M53.33 179.85H57.43V183.95H53.33ZM55.08 181.90h0.6M53.02 179.78H57.12V183.88H53.02ZM54.77 181.83h0.6M52.71 179.72H56.81V183.82H52.71ZM54.46 181.77h0.6M52.40 179.65H56.50V183.75H52.40ZM54.15 181.70h0.6M52.08 179.59H56.18V183.69H52.08ZM53.83 181.64h0.6M51.76 179.52H55.86V183.62H51.76ZM53.51 181.57h0.6M51.44 179.46H55.54V183.56H51.44ZM53.19 181.51h0.6M51.11 179.39H55.21V183.49H51.11ZM52.86 181.44h0.6M50.77 179.33H54.87V183.43H50.77ZM52.52 181.38h0.6M50.44 179.26H54.54V183.36H50.44ZM52.19 181.31h0.6M50.09 179.20H54.19V183.30H50.09ZM51.84 181.25h0.6M49.75 179.14H53.85V183.24H49.75ZM51.50 181.19h0.6M49.40 179.07H53.50V183.17H49.40ZM51.15 181.12h0.6M49.04 179.01H53.14V183.11H49.04ZM50.79 181.06h0.6M48.68 178.95H52.78V183.05H48.68ZM50.43 181.00h0.6M48.31 178.88H52.41V182.98H48.31ZM50.06 180.93h0.6M47.94 178.82H52.04V182.92H47.94ZM49.69 180.87h0.6M47.56 178.76H51.66V182.86H47.56ZM49.31 180.81h0.6M47.18 178.70H51.28V182.80H47.18ZM48.93 180.75h0.6M46.80 178.64H50.90V182.74H46.80ZM48.55 180.69h0.6M46.40 178.57H50.50V182.67H46.40ZM48.15 180.62h0.6M46.01 178.51H50.11V182.61H46.01ZM47.76 180.56h0.6M45.60 178.45H49.70V182.55H45.60ZM47.35 180.50h0.6M45.19 178.39H49.29V182.49H45.19ZM46.94 180.44h0.6M44.77 178.33H48.87V182.43H44.77ZM46.52 180.38h0.6M44.35 178.27H48.45V182.37H44.35ZM46.10 180.32h0.6M43.91 178.21H48.01V182.31H43.91ZM45.66 180.26h0.6M43.47 178.15H47.57V182.25H43.47ZM45.22 180.20h0.6M43.02 178.09H47.12V182.19H43.02ZM44.77 180.14h0.6M42.56 178.03H46.66V182.13H42.56ZM44.31 180.08h0.6M42.09 177.97H46.19V182.07H42.09ZM43.84 180.02h0.6M41.62 177.91H45.72V182.01H41.62ZM43.37 179.96h0.6M41.13 177.85H45.23V181.95H41.13ZM42.88 179.90h0.6M40.64 177.79H44.74V181.89H40.64ZM42.39 179.84h0.6M40.14 177.74H44.24V181.84H40.14ZM41.89 179.79h0.6M39.62 177.68H43.72V181.78H39.62ZM41.37 179.73h0.6M39.09 177.62H43.19V181.72H39.09ZM40.84 179.67h0.6M38.55 177.56H42.65V181.66H38.55ZM40.30 179.61h0.6M37.99 177.50H42.09V181.60H37.99ZM39.74 179.55h0.6M37.43 177.45H41.53V181.55H37.43ZM39.18 179.50h0.6M36.85 177.39H40.95V181.49H36.85ZM38.60 179.44h0.6" stroke="#ff00ff" stroke-width="0.46" fill="none"/>
<path d="M78.70 165.70L179.45 283.40" stroke="#000" stroke-width="0.95" fill="none"/>
<text x="38.30" y="298.79999999999995" text-anchor="middle">10<tspan dy="-5.6" font-size="8.9">-1</tspan></text>
<text x="78.60" y="298.79999999999995" text-anchor="middle">10<tspan dy="-5.6" font-size="8.9">0</tspan></text>
<text x="118.90" y="298.79999999999995" text-anchor="middle">10<tspan dy="-5.6" font-size="8.9">1</tspan></text>
<text x="159.20" y="298.79999999999995" text-anchor="middle">10<tspan dy="-5.6" font-size="8.9">2</tspan></text>
<text x="199.50" y="298.79999999999995" text-anchor="middle">10<tspan dy="-5.6" font-size="8.9">3</tspan></text>
<text x="32.199999999999996" y="288.00" text-anchor="end">10<tspan dy="-5.6" font-size="8.9">-3</tspan></text>
<text x="32.199999999999996" y="248.77" text-anchor="end">10<tspan dy="-5.6" font-size="8.9">-2</tspan></text>
<text x="32.199999999999996" y="209.53" text-anchor="end">10<tspan dy="-5.6" font-size="8.9">-1</tspan></text>
<text x="32.199999999999996" y="170.30" text-anchor="end">10<tspan dy="-5.6" font-size="8.9">0</tspan></text>
<text x="122.70" y="306.4" text-anchor="middle" font-size="12" stroke="#000" stroke-width="0.2">x</text>
<text transform="translate(12.60 228.20) rotate(-90)" text-anchor="start" font-size="11.4" stroke="#000" stroke-width="0.15">1-CDF(x,2)</text>
<path d="M256.4 165.7H417.6V283.4H256.4Z" stroke="#000" stroke-width="1.0" fill="none"/>
<path d="M256.40 283.4v-4.0M256.40 165.7v4.0M268.53 283.4v-2.2M268.53 165.7v2.2M275.63 283.4v-2.2M275.63 165.7v2.2M280.66 283.4v-2.2M280.66 165.7v2.2M284.57 283.4v-2.2M284.57 165.7v2.2M287.76 283.4v-2.2M287.76 165.7v2.2M290.46 283.4v-2.2M290.46 165.7v2.2M292.79 283.4v-2.2M292.79 165.7v2.2M294.86 283.4v-2.2M294.86 165.7v2.2M296.70 283.4v-4.0M296.70 165.7v4.0M308.83 283.4v-2.2M308.83 165.7v2.2M315.93 283.4v-2.2M315.93 165.7v2.2M320.96 283.4v-2.2M320.96 165.7v2.2M324.87 283.4v-2.2M324.87 165.7v2.2M328.06 283.4v-2.2M328.06 165.7v2.2M330.76 283.4v-2.2M330.76 165.7v2.2M333.09 283.4v-2.2M333.09 165.7v2.2M335.16 283.4v-2.2M335.16 165.7v2.2M337.00 283.4v-4.0M337.00 165.7v4.0M349.13 283.4v-2.2M349.13 165.7v2.2M356.23 283.4v-2.2M356.23 165.7v2.2M361.26 283.4v-2.2M361.26 165.7v2.2M365.17 283.4v-2.2M365.17 165.7v2.2M368.36 283.4v-2.2M368.36 165.7v2.2M371.06 283.4v-2.2M371.06 165.7v2.2M373.39 283.4v-2.2M373.39 165.7v2.2M375.46 283.4v-2.2M375.46 165.7v2.2M377.30 283.4v-4.0M377.30 165.7v4.0M389.43 283.4v-2.2M389.43 165.7v2.2M396.53 283.4v-2.2M396.53 165.7v2.2M401.56 283.4v-2.2M401.56 165.7v2.2M405.47 283.4v-2.2M405.47 165.7v2.2M408.66 283.4v-2.2M408.66 165.7v2.2M411.36 283.4v-2.2M411.36 165.7v2.2M413.69 283.4v-2.2M413.69 165.7v2.2M415.76 283.4v-2.2M415.76 165.7v2.2M417.60 283.4v-4.0M417.60 165.7v4.0M256.4 283.40h4.0M417.6 283.40h-4.0M256.4 271.59h2.2M417.6 271.59h-2.2M256.4 264.68h2.2M417.6 264.68h-2.2M256.4 259.78h2.2M417.6 259.78h-2.2M256.4 255.98h2.2M417.6 255.98h-2.2M256.4 252.87h2.2M417.6 252.87h-2.2M256.4 250.24h2.2M417.6 250.24h-2.2M256.4 247.97h2.2M417.6 247.97h-2.2M256.4 245.96h2.2M417.6 245.96h-2.2M256.4 244.17h4.0M417.6 244.17h-4.0M256.4 232.36h2.2M417.6 232.36h-2.2M256.4 225.45h2.2M417.6 225.45h-2.2M256.4 220.55h2.2M417.6 220.55h-2.2M256.4 216.74h2.2M417.6 216.74h-2.2M256.4 213.64h2.2M417.6 213.64h-2.2M256.4 211.01h2.2M417.6 211.01h-2.2M256.4 208.74h2.2M417.6 208.74h-2.2M256.4 206.73h2.2M417.6 206.73h-2.2M256.4 204.93h4.0M417.6 204.93h-4.0M256.4 193.12h2.2M417.6 193.12h-2.2M256.4 186.21h2.2M417.6 186.21h-2.2M256.4 181.31h2.2M417.6 181.31h-2.2M256.4 177.51h2.2M417.6 177.51h-2.2M256.4 174.40h2.2M417.6 174.40h-2.2M256.4 171.78h2.2M417.6 171.78h-2.2M256.4 169.50h2.2M417.6 169.50h-2.2M256.4 167.50h2.2M417.6 167.50h-2.2M256.4 165.70h4.0M417.6 165.70h-4.0" stroke="#000" stroke-width="0.8" fill="none"/>
<path d="M336.86 271.59H340.96M338.91 269.54V273.64M335.72 262.05H339.82M337.77 260.00V264.10M334.92 255.98H339.02M336.97 253.93V258.03M334.28 251.51H338.38M336.33 249.46V253.56M333.75 247.97H337.85M335.80 245.92V250.02M333.28 245.04H337.38M335.33 242.99V247.09M332.86 242.54H336.96M334.91 240.49V244.59M332.48 240.36H336.58M334.53 238.31V242.41M332.13 238.43H336.23M334.18 236.38V240.48M331.81 236.70H335.91M333.86 234.65V238.75M331.51 235.13H335.61M333.56 233.08V237.18M331.22 233.68H335.32M333.27 231.63V235.73M330.95 232.36H335.05M333.00 230.31V234.41M330.69 231.12H334.79M332.74 229.07V233.17M330.44 229.97H334.54M332.49 227.92V232.02M330.21 228.90H334.31M332.26 226.85V230.95M329.98 227.89H334.08M332.03 225.84V229.94M329.76 226.93H333.86M331.81 224.88V228.98M329.55 226.03H333.65M331.60 223.98V228.08M329.34 225.17H333.44M331.39 223.12V227.22M329.14 224.35H333.24M331.19 222.30V226.40M328.95 223.57H333.05M331.00 221.52V225.62M328.76 222.82H332.86M330.81 220.77V224.87M328.57 222.11H332.67M330.62 220.06V224.16M328.39 221.42H332.49M330.44 219.37V223.47M328.21 220.76H332.31M330.26 218.71V222.81M328.04 220.13H332.14M330.09 218.08V222.18M327.87 219.51H331.97M329.92 217.46V221.56M327.70 218.92H331.80M329.75 216.87V220.97M327.54 218.35H331.64M329.59 216.30V220.40M327.38 217.80H331.48M329.43 215.75V219.85M327.22 217.26H331.32M329.27 215.21V219.31M327.06 216.74H331.16M329.11 214.69V218.79M326.91 216.24H331.01M328.96 214.19V218.29M326.76 215.75H330.86M328.81 213.70V217.80M326.61 215.28H330.71M328.66 213.23V217.33M326.46 214.81H330.56M328.51 212.76V216.86M326.31 214.36H330.41M328.36 212.31V216.41M326.17 213.92H330.27M328.22 211.87V215.97M326.03 213.50H330.13M328.08 211.45V215.55M325.89 213.08H329.99M327.94 211.03V215.13M325.75 212.67H329.85M327.80 210.62V214.72M325.61 212.27H329.71M327.66 210.22V214.32M325.48 211.88H329.58M327.53 209.83V213.93M325.34 211.50H329.44M327.39 209.45V213.55M325.21 211.13H329.31M327.26 209.08V213.18M325.08 210.77H329.18M327.13 208.72V212.82M324.94 210.41H329.04M326.99 208.36V212.46M324.81 210.06H328.91M326.86 208.01V212.11M324.69 209.72H328.79M326.74 207.67V211.77M324.56 209.39H328.66M326.61 207.34V211.44M324.43 209.06H328.53M326.48 207.01V211.11M324.30 208.74H328.40M326.35 206.69V210.79M324.18 208.42H328.28M326.23 206.37V210.47M324.05 208.11H328.15M326.10 206.06V210.16M323.93 207.80H328.03M325.98 205.75V209.85M323.81 207.50H327.91M325.86 205.45V209.55M323.69 207.21H327.79M325.74 205.16V209.26M323.56 206.92H327.66M325.61 204.87V208.97M323.44 206.63H327.54M325.49 204.58V208.68M323.32 206.35H327.42M325.37 204.30V208.40M323.20 206.08H327.30M325.25 204.03V208.13M323.08 205.81H327.18M325.13 203.76V207.86M322.97 205.54H327.07M325.02 203.49V207.59M322.85 205.28H326.95M324.90 203.23V207.33M322.73 205.02H326.83M324.78 202.97V207.07M322.61 204.76H326.71M324.66 202.71V206.81M322.50 204.51H326.60M324.55 202.46V206.56M322.38 204.27H326.48M324.43 202.22V206.32M322.27 204.02H326.37M324.32 201.97V206.07M322.15 203.78H326.25M324.20 201.73V205.83M322.04 203.54H326.14M324.09 201.49V205.59M321.92 203.31H326.02M323.97 201.26V205.36M321.81 203.08H325.91M323.86 201.03V205.13M321.70 202.85H325.80M323.75 200.80V204.90M321.58 202.63H325.68M323.63 200.58V204.68M321.47 202.40H325.57M323.52 200.35V204.45M321.36 202.19H325.46M323.41 200.14V204.24M321.25 201.97H325.35M323.30 199.92V204.02M321.13 201.76H325.23M323.18 199.71V203.81M321.02 201.55H325.12M323.07 199.50V203.60M320.91 201.34H325.01M322.96 199.29V203.39M320.80 201.13H324.90M322.85 199.08V203.18M320.69 200.93H324.79M322.74 198.88V202.98M320.58 200.73H324.68M322.63 198.68V202.78M320.47 200.53H324.57M322.52 198.48V202.58M320.36 200.33H324.46M322.41 198.28V202.38M320.25 200.14H324.35M322.30 198.09V202.19M320.14 199.95H324.24M322.19 197.90V202.00M320.03 199.76H324.13M322.08 197.71V201.81M319.92 199.57H324.02M321.97 197.52V201.62M319.81 199.38H323.91M321.86 197.33V201.43M319.70 199.20H323.80M321.75 197.15V201.25M319.59 199.02H323.69M321.64 196.97V201.07M319.48 198.84H323.58M321.53 196.79V200.89M319.37 198.66H323.47M321.42 196.61V200.71M319.27 198.49H323.37M321.32 196.44V200.54M319.16 198.31H323.26M321.21 196.26V200.36M319.05 198.14H323.15M321.10 196.09V200.19M318.94 197.97H323.04M320.99 195.92V200.02M318.83 197.80H322.93M320.88 195.75V199.85M318.72 197.63H322.82M320.77 195.58V199.68M318.61 197.47H322.71M320.66 195.42V199.52M318.50 197.30H322.60M320.55 195.25V199.35M318.40 197.14H322.50M320.45 195.09V199.19M318.29 196.98H322.39M320.34 194.93V199.03M318.18 196.82H322.28M320.23 194.77V198.87M318.07 196.66H322.17M320.12 194.61V198.71M317.96 196.50H322.06M320.01 194.45V198.55M317.85 196.35H321.95M319.90 194.30V198.40M317.74 196.20H321.84M319.79 194.15V198.25M317.63 196.04H321.73M319.68 193.99V198.09M317.53 195.89H321.63M319.58 193.84V197.94M317.42 195.74H321.52M319.47 193.69V197.79M317.31 195.59H321.41M319.36 193.54V197.64M317.20 195.45H321.30M319.25 193.40V197.50M317.09 195.30H321.19M319.14 193.25V197.35M316.98 195.16H321.08M319.03 193.11V197.21M316.87 195.01H320.97M318.92 192.96V197.06M316.76 194.87H320.86M318.81 192.82V196.92M316.65 194.73H320.75M318.70 192.68V196.78M316.54 194.59H320.64M318.59 192.54V196.64M316.43 194.45H320.53M318.48 192.40V196.50M316.33 194.31H320.43M318.38 192.26V196.36M316.22 194.18H320.32M318.27 192.13V196.23M316.11 194.04H320.21M318.16 191.99V196.09M316.00 193.91H320.10M318.05 191.86V195.96M315.89 193.77H319.99M317.94 191.72V195.82M315.78 193.64H319.88M317.83 191.59V195.69M315.66 193.51H319.76M317.71 191.46V195.56M315.55 193.38H319.65M317.60 191.33V195.43M315.44 193.25H319.54M317.49 191.20V195.30M315.33 193.12H319.43M317.38 191.07V195.17M315.22 193.00H319.32M317.27 190.95V195.05M315.11 192.87H319.21M317.16 190.82V194.92M315.00 192.74H319.10M317.05 190.69V194.79M314.88 192.62H318.98M316.93 190.57V194.67M314.77 192.50H318.87M316.82 190.45V194.55M314.66 192.37H318.76M316.71 190.32V194.42M314.55 192.25H318.65M316.60 190.20V194.30M314.43 192.13H318.53M316.48 190.08V194.18M314.32 192.01H318.42M316.37 189.96V194.06M314.20 191.89H318.30M316.25 189.84V193.94M314.09 191.77H318.19M316.14 189.72V193.82M313.98 191.65H318.08M316.03 189.60V193.70M313.86 191.54H317.96M315.91 189.49V193.59M313.75 191.42H317.85M315.80 189.37V193.47M313.63 191.31H317.73M315.68 189.26V193.36M313.51 191.19H317.61M315.56 189.14V193.24M313.40 191.08H317.50M315.45 189.03V193.13M313.28 190.97H317.38M315.33 188.92V193.02M313.17 190.85H317.27M315.22 188.80V192.90M313.05 190.74H317.15M315.10 188.69V192.79M312.93 190.63H317.03M314.98 188.58V192.68M312.81 190.52H316.91M314.86 188.47V192.57M312.69 190.41H316.79M314.74 188.36V192.46M312.58 190.30H316.68M314.63 188.25V192.35M312.46 190.19H316.56M314.51 188.14V192.24M312.34 190.09H316.44M314.39 188.04V192.14M312.22 189.98H316.32M314.27 187.93V192.03M312.10 189.87H316.20M314.15 187.82V191.92M311.98 189.77H316.08M314.03 187.72V191.82M311.86 189.67H315.96M313.91 187.62V191.72M311.74 189.56H315.84M313.79 187.51V191.61M311.62 189.46H315.72M313.67 187.41V191.51M311.49 189.35H315.59M313.54 187.30V191.40M311.37 189.25H315.47M313.42 187.20V191.30M311.25 189.15H315.35M313.30 187.10V191.20M311.13 189.05H315.23M313.18 187.00V191.10M311.00 188.95H315.10M313.05 186.90V191.00M310.88 188.85H314.98M312.93 186.80V190.90M310.75 188.75H314.85M312.80 186.70V190.80M310.63 188.65H314.73M312.68 186.60V190.70M310.50 188.55H314.60M312.55 186.50V190.60M310.38 188.46H314.48M312.43 186.41V190.51M310.25 188.36H314.35M312.30 186.31V190.41M310.12 188.26H314.22M312.17 186.21V190.31M309.99 188.17H314.09M312.04 186.12V190.22M309.87 188.07H313.97M311.92 186.02V190.12M309.74 187.98H313.84M311.79 185.93V190.03M309.61 187.88H313.71M311.66 185.83V189.93M309.48 187.79H313.58M311.53 185.74V189.84M309.34 187.70H313.44M311.39 185.65V189.75M309.21 187.60H313.31M311.26 185.55V189.65M309.08 187.51H313.18M311.13 185.46V189.56M308.95 187.42H313.05M311.00 185.37V189.47M308.81 187.33H312.91M310.86 185.28V189.38M308.68 187.24H312.78M310.73 185.19V189.29M308.54 187.15H312.64M310.59 185.10V189.20M308.41 187.06H312.51M310.46 185.01V189.11M308.27 186.97H312.37M310.32 184.92V189.02M308.14 186.88H312.24M310.19 184.83V188.93M308.00 186.79H312.10M310.05 184.74V188.84M307.86 186.70H311.96M309.91 184.65V188.75M307.72 186.62H311.82M309.77 184.57V188.67M307.58 186.53H311.68M309.63 184.48V188.58M307.44 186.44H311.54M309.49 184.39V188.49M307.30 186.36H311.40M309.35 184.31V188.41M307.15 186.27H311.25M309.20 184.22V188.32M307.01 186.19H311.11M309.06 184.14V188.24M306.86 186.10H310.96M308.91 184.05V188.15M306.72 186.02H310.82M308.77 183.97V188.07M306.57 185.93H310.67M308.62 183.88V187.98M306.43 185.85H310.53M308.48 183.80V187.90M306.28 185.77H310.38M308.33 183.72V187.82M306.13 185.68H310.23M308.18 183.63V187.73M305.98 185.60H310.08M308.03 183.55V187.65M305.82 185.52H309.92M307.87 183.47V187.57M305.67 185.44H309.77M307.72 183.39V187.49M305.52 185.36H309.62M307.57 183.31V187.41M305.37 185.28H309.47M307.42 183.23V187.33M305.21 185.19H309.31M307.26 183.14V187.24M305.05 185.11H309.15M307.10 183.06V187.16M304.90 185.03H309.00M306.95 182.98V187.08M304.74 184.96H308.84M306.79 182.91V187.01M304.58 184.88H308.68M306.63 182.83V186.93M304.42 184.80H308.52M306.47 182.75V186.85M304.25 184.72H308.35M306.30 182.67V186.77M304.09 184.64H308.19M306.14 182.59V186.69M303.92 184.56H308.02M305.97 182.51V186.61M303.76 184.49H307.86M305.81 182.44V186.54M303.59 184.41H307.69M305.64 182.36V186.46M303.42 184.33H307.52M305.47 182.28V186.38M303.25 184.26H307.35M305.30 182.21V186.31M303.08 184.18H307.18M305.13 182.13V186.23M302.91 184.11H307.01M304.96 182.06V186.16M302.73 184.03H306.83M304.78 181.98V186.08M302.56 183.96H306.66M304.61 181.91V186.01M302.38 183.88H306.48M304.43 181.83V185.93M302.20 183.81H306.30M304.25 181.76V185.86M302.02 183.73H306.12M304.07 181.68V185.78M301.84 183.66H305.94M303.89 181.61V185.71M301.66 183.59H305.76M303.71 181.54V185.64M301.47 183.51H305.57M303.52 181.46V185.56M301.28 183.44H305.38M303.33 181.39V185.49M301.09 183.37H305.19M303.14 181.32V185.42M300.90 183.30H305.00M302.95 181.25V185.35M300.71 183.23H304.81M302.76 181.18V185.28M300.52 183.16H304.62M302.57 181.11V185.21M300.32 183.08H304.42M302.37 181.03V185.13M300.13 183.01H304.23M302.18 180.96V185.06M299.93 182.94H304.03M301.98 180.89V184.99M299.73 182.87H303.83M301.78 180.82V184.92M299.52 182.80H303.62M301.57 180.75V184.85M299.32 182.73H303.42M301.37 180.68V184.78M299.11 182.66H303.21M301.16 180.61V184.71M298.90 182.59H303.00M300.95 180.54V184.64M298.68 182.53H302.78M300.73 180.48V184.58M298.47 182.46H302.57M300.52 180.41V184.51M298.25 182.39H302.35M300.30 180.34V184.44M298.04 182.32H302.14M300.09 180.27V184.37M297.81 182.25H301.91M299.86 180.20V184.30M297.59 182.19H301.69M299.64 180.14V184.24M297.36 182.12H301.46M299.41 180.07V184.17M297.13 182.05H301.23M299.18 180.00V184.10M296.89 181.99H300.99M298.94 179.94V184.04M296.66 181.92H300.76M298.71 179.87V183.97M296.42 181.85H300.52M298.47 179.80V183.90M296.18 181.79H300.28M298.23 179.74V183.84M295.93 181.72H300.03M297.98 179.67V183.77M295.69 181.66H299.79M297.74 179.61V183.71M295.43 181.59H299.53M297.48 179.54V183.64M295.18 181.53H299.28M297.23 179.48V183.58M294.92 181.46H299.02M296.97 179.41V183.51M294.66 181.40H298.76M296.71 179.35V183.45M294.39 181.33H298.49M296.44 179.28V183.38M294.12 181.27H298.22M296.17 179.22V183.32M293.85 181.21H297.95M295.90 179.16V183.26M293.57 181.14H297.67M295.62 179.09V183.19M293.29 181.08H297.39M295.34 179.03V183.13M293.01 181.02H297.11M295.06 178.97V183.07M292.72 180.95H296.82M294.77 178.90V183.00M292.42 180.89H296.52M294.47 178.84V182.94M292.12 180.83H296.22M294.17 178.78V182.88M291.81 180.77H295.91M293.86 178.72V182.82M291.50 180.71H295.60M293.55 178.66V182.76M291.19 180.64H295.29M293.24 178.59V182.69M290.87 180.58H294.97M292.92 178.53V182.63M290.54 180.52H294.64M292.59 178.47V182.57M290.21 180.46H294.31M292.26 178.41V182.51M289.87 180.40H293.97M291.92 178.35V182.45M289.53 180.34H293.63M291.58 178.29V182.39M289.18 180.28H293.28M291.23 178.23V182.33M288.82 180.22H292.92M290.87 178.17V182.27M288.45 180.16H292.55M290.50 178.11V182.21M288.08 180.10H292.18M290.13 178.05V182.15M287.70 180.04H291.80M289.75 177.99V182.09M287.31 179.98H291.41M289.36 177.93V182.03M286.92 179.92H291.02M288.97 177.87V181.97M286.51 179.86H290.61M288.56 177.81V181.91M286.10 179.81H290.20M288.15 177.76V181.86M285.67 179.75H289.77M287.72 177.70V181.80M285.24 179.69H289.34M287.29 177.64V181.74M284.79 179.63H288.89M286.84 177.58V181.68M284.33 179.57H288.43M286.38 177.52V181.62M283.86 179.52H287.96M285.91 177.47V181.57M283.38 179.46H287.48M285.43 177.41V181.51M282.89 179.40H286.99M284.94 177.35V181.45M282.38 179.34H286.48M284.43 177.29V181.39M281.86 179.29H285.96M283.91 177.24V181.34M281.31 179.23H285.41M283.36 177.18V181.28M280.76 179.17H284.86M282.81 177.12V181.22M280.18 179.12H284.28M282.23 177.07V181.17M279.59 179.06H283.69M281.64 177.01V181.11M278.97 179.01H283.07M281.02 176.96V181.06M278.32 178.95H282.42M280.37 176.90V181.00M277.67 178.89H281.77M279.72 176.84V180.94M276.98 178.84H281.08M279.03 176.79V180.89M276.26 178.78H280.36M278.31 176.73V180.83M275.52 178.73H279.62M277.57 176.68V180.78M274.74 178.67H278.84M276.79 176.62V180.72M273.93 178.62H278.03M275.98 176.57V180.67M273.07 178.56H277.17M275.12 176.51V180.61M272.17 178.51H276.27M274.22 176.46V180.56M271.22 178.46H275.32M273.27 176.41V180.51M270.21 178.40H274.31M272.26 176.35V180.45M269.15 178.35H273.25M271.20 176.30V180.40M268.02 178.29H272.12M270.07 176.24V180.34M266.82 178.24H270.92M268.87 176.19V180.29M265.52 178.19H269.62M267.57 176.14V180.24M264.12 178.14H268.22M266.17 176.09V180.19M262.60 178.08H266.70M264.65 176.03V180.13M260.93 178.03H265.03M262.98 175.98V180.08M259.07 177.98H263.17M261.12 175.93V180.03M257.00 177.92H261.10M259.05 175.87V179.97M254.67 177.87H258.77M256.72 175.82V179.92" stroke="#ff0000" stroke-width="0.6" fill="none"/>
<path d="M396.85 265.74L400.95 269.84M396.85 269.84L400.95 265.74M390.08 257.73L394.18 261.83M390.08 261.83L394.18 257.73M385.43 252.30L389.53 256.40M385.43 256.40L389.53 252.30M381.94 248.19L386.04 252.29M381.94 252.29L386.04 248.19M379.14 244.89L383.24 248.99M379.14 248.99L383.24 244.89M376.80 242.12L380.90 246.22M376.80 246.22L380.90 242.12M374.78 239.74L378.88 243.84M374.78 243.84L378.88 239.74M373.01 237.65L377.11 241.75M373.01 241.75L377.11 237.65M371.45 235.79L375.55 239.89M371.45 239.89L375.55 235.79M370.05 234.11L374.15 238.21M370.05 238.21L374.15 234.11M368.77 232.58L372.87 236.68M368.77 236.68L372.87 232.58M367.60 231.18L371.70 235.28M367.60 235.28L371.70 231.18M366.51 229.89L370.61 233.99M366.51 233.99L370.61 229.89M365.50 228.68L369.60 232.78M365.50 232.78L369.60 228.68M364.56 227.56L368.66 231.66M364.56 231.66L368.66 227.56M363.68 226.50L367.78 230.60M363.68 230.60L367.78 226.50M362.86 225.51L366.96 229.61M362.86 229.61L366.96 225.51M362.08 224.57L366.18 228.67M362.08 228.67L366.18 224.57M361.33 223.68L365.43 227.78M361.33 227.78L365.43 223.68M360.63 222.84L364.73 226.94M360.63 226.94L364.73 222.84M359.97 222.03L364.07 226.13M359.97 226.13L364.07 222.03M359.33 221.26L363.43 225.36M359.33 225.36L363.43 221.26M358.72 220.53L362.82 224.63M358.72 224.63L362.82 220.53M358.14 219.82L362.24 223.92M358.14 223.92L362.24 219.82M357.59 219.15L361.69 223.25M357.59 223.25L361.69 219.15M357.04 218.50L361.14 222.60M357.04 222.60L361.14 218.50M356.52 217.87L360.62 221.97M356.52 221.97L360.62 217.87M356.02 217.26L360.12 221.36M356.02 221.36L360.12 217.26M355.53 216.68L359.63 220.78M355.53 220.78L359.63 216.68M355.07 216.11L359.17 220.21M355.07 220.21L359.17 216.11M354.61 215.57L358.71 219.67M354.61 219.67L358.71 215.57M354.18 215.04L358.28 219.14M354.18 219.14L358.28 215.04M353.75 214.52L357.85 218.62M353.75 218.62L357.85 214.52M353.34 214.03L357.44 218.13M353.34 218.13L357.44 214.03M352.94 213.54L357.04 217.64M352.94 217.64L357.04 213.54M352.55 213.07L356.65 217.17M352.55 217.17L356.65 213.07M352.17 212.61L356.27 216.71M352.17 216.71L356.27 212.61M351.80 212.16L355.90 216.26M351.80 216.26L355.90 212.16M351.44 211.73L355.54 215.83M351.44 215.83L355.54 211.73M351.09 211.31L355.19 215.41M351.09 215.41L355.19 211.31M350.74 210.89L354.84 214.99M350.74 214.99L354.84 210.89M350.40 210.49L354.50 214.59M350.40 214.59L354.50 210.49M350.07 210.09L354.17 214.19M350.07 214.19L354.17 210.09M349.75 209.71L353.85 213.81M349.75 213.81L353.85 209.71M349.43 209.33L353.53 213.43M349.43 213.43L353.53 209.33M349.13 208.96L353.23 213.06M349.13 213.06L353.23 208.96M348.82 208.60L352.92 212.70M348.82 212.70L352.92 208.60M348.53 208.25L352.63 212.35M348.53 212.35L352.63 208.25M348.23 207.90L352.33 212.00M348.23 212.00L352.33 207.90M347.95 207.56L352.05 211.66M347.95 211.66L352.05 207.56M347.67 207.23L351.77 211.33M347.67 211.33L351.77 207.23M347.40 206.90L351.50 211.00M347.40 211.00L351.50 206.90M347.13 206.58L351.23 210.68M347.13 210.68L351.23 206.58M346.86 206.26L350.96 210.36M346.86 210.36L350.96 206.26M346.60 205.96L350.70 210.06M346.60 210.06L350.70 205.96M346.34 205.65L350.44 209.75M346.34 209.75L350.44 205.65M346.09 205.35L350.19 209.45M346.09 209.45L350.19 205.35M345.84 205.06L349.94 209.16M345.84 209.16L349.94 205.06M345.60 204.77L349.70 208.87M345.60 208.87L349.70 204.77M345.35 204.49L349.45 208.59M345.35 208.59L349.45 204.49M345.12 204.21L349.22 208.31M345.12 208.31L349.22 204.21M344.88 203.94L348.98 208.04M344.88 208.04L348.98 203.94M344.65 203.67L348.75 207.77M344.65 207.77L348.75 203.67M344.42 203.40L348.52 207.50M344.42 207.50L348.52 203.40M344.20 203.14L348.30 207.24M344.20 207.24L348.30 203.14M343.97 202.88L348.07 206.98M343.97 206.98L348.07 202.88M343.76 202.63L347.86 206.73M343.76 206.73L347.86 202.63M343.54 202.38L347.64 206.48M343.54 206.48L347.64 202.38M343.32 202.13L347.42 206.23M343.32 206.23L347.42 202.13M343.11 201.89L347.21 205.99M343.11 205.99L347.21 201.89M342.91 201.65L347.01 205.75M342.91 205.75L347.01 201.65M342.70 201.41L346.80 205.51M342.70 205.51L346.80 201.41M342.50 201.18L346.60 205.28M342.50 205.28L346.60 201.18M342.29 200.95L346.39 205.05M342.29 205.05L346.39 200.95M342.09 200.73L346.19 204.83M342.09 204.83L346.19 200.73M341.89 200.50L345.99 204.60M341.89 204.60L345.99 200.50M341.69 200.28L345.79 204.38M341.69 204.38L345.79 200.28M341.50 200.06L345.60 204.16M341.50 204.16L345.60 200.06M341.30 199.85L345.40 203.95M341.30 203.95L345.40 199.85M341.11 199.64L345.21 203.74M341.11 203.74L345.21 199.64M340.92 199.43L345.02 203.53M340.92 203.53L345.02 199.43M340.74 199.22L344.84 203.32M340.74 203.32L344.84 199.22M340.55 199.01L344.65 203.11M340.55 203.11L344.65 199.01M340.37 198.81L344.47 202.91M340.37 202.91L344.47 198.81M340.19 198.61L344.29 202.71M340.19 202.71L344.29 198.61M340.00 198.41L344.10 202.51M340.00 202.51L344.10 198.41M339.82 198.22L343.92 202.32M339.82 202.32L343.92 198.22M339.64 198.02L343.74 202.12M339.64 202.12L343.74 198.02M339.47 197.83L343.57 201.93M339.47 201.93L343.57 197.83M339.29 197.64L343.39 201.74M339.29 201.74L343.39 197.64M339.12 197.46L343.22 201.56M339.12 201.56L343.22 197.46M338.94 197.27L343.04 201.37M338.94 201.37L343.04 197.27M338.77 197.09L342.87 201.19M338.77 201.19L342.87 197.09M338.60 196.91L342.70 201.01M338.60 201.01L342.70 196.91M338.43 196.73L342.53 200.83M338.43 200.83L342.53 196.73M338.26 196.55L342.36 200.65M338.26 200.65L342.36 196.55M338.09 196.38L342.19 200.48M338.09 200.48L342.19 196.38M337.92 196.20L342.02 200.30M337.92 200.30L342.02 196.20M337.76 196.03L341.86 200.13M337.76 200.13L341.86 196.03M337.59 195.86L341.69 199.96M337.59 199.96L341.69 195.86M337.43 195.69L341.53 199.79M337.43 199.79L341.53 195.69M337.27 195.53L341.37 199.63M337.27 199.63L341.37 195.53M337.11 195.36L341.21 199.46M337.11 199.46L341.21 195.36M336.95 195.20L341.05 199.30M336.95 199.30L341.05 195.20M336.78 195.04L340.88 199.14M336.78 199.14L340.88 195.04M336.62 194.88L340.72 198.98M336.62 198.98L340.72 194.88M336.46 194.72L340.56 198.82M336.46 198.82L340.56 194.72M336.31 194.56L340.41 198.66M336.31 198.66L340.41 194.56M336.15 194.40L340.25 198.50M336.15 198.50L340.25 194.40M335.99 194.25L340.09 198.35M335.99 198.35L340.09 194.25M335.84 194.09L339.94 198.19M335.84 198.19L339.94 194.09M335.68 193.94L339.78 198.04M335.68 198.04L339.78 193.94M335.53 193.79L339.63 197.89M335.53 197.89L339.63 193.79M335.37 193.64L339.47 197.74M335.37 197.74L339.47 193.64M335.22 193.49L339.32 197.59M335.22 197.59L339.32 193.49M335.06 193.35L339.16 197.45M335.06 197.45L339.16 193.35M334.91 193.20L339.01 197.30M334.91 197.30L339.01 193.20M334.76 193.06L338.86 197.16M334.76 197.16L338.86 193.06M334.61 192.92L338.71 197.02M334.61 197.02L338.71 192.92M334.46 192.77L338.56 196.87M334.46 196.87L338.56 192.77M334.31 192.63L338.41 196.73M334.31 196.73L338.41 192.63M334.16 192.49L338.26 196.59M334.16 196.59L338.26 192.49M334.01 192.36L338.11 196.46M334.01 196.46L338.11 192.36M333.86 192.22L337.96 196.32M333.86 196.32L337.96 192.22M333.71 192.08L337.81 196.18M333.71 196.18L337.81 192.08M333.56 191.95L337.66 196.05M333.56 196.05L337.66 191.95M333.41 191.81L337.51 195.91M333.41 195.91L337.51 191.81M333.27 191.68L337.37 195.78M333.27 195.78L337.37 191.68M333.12 191.55L337.22 195.65M333.12 195.65L337.22 191.55M332.97 191.42L337.07 195.52M332.97 195.52L337.07 191.42M332.83 191.29L336.93 195.39M332.83 195.39L336.93 191.29M332.68 191.16L336.78 195.26M332.68 195.26L336.78 191.16M332.54 191.03L336.64 195.13M332.54 195.13L336.64 191.03M332.39 190.90L336.49 195.00M332.39 195.00L336.49 190.90M332.24 190.78L336.34 194.88M332.24 194.88L336.34 190.78M332.10 190.65L336.20 194.75M332.10 194.75L336.20 190.65M331.95 190.53L336.05 194.63M331.95 194.63L336.05 190.53M331.81 190.40L335.91 194.50M331.81 194.50L335.91 190.40M331.66 190.28L335.76 194.38M331.66 194.38L335.76 190.28M331.52 190.16L335.62 194.26M331.52 194.26L335.62 190.16M331.37 190.04L335.47 194.14M331.37 194.14L335.47 190.04M331.23 189.92L335.33 194.02M331.23 194.02L335.33 189.92M331.08 189.80L335.18 193.90M331.08 193.90L335.18 189.80M330.94 189.68L335.04 193.78M330.94 193.78L335.04 189.68M330.79 189.57L334.89 193.67M330.79 193.67L334.89 189.57M330.65 189.45L334.75 193.55M330.65 193.55L334.75 189.45M330.51 189.33L334.61 193.43M330.51 193.43L334.61 189.33M330.36 189.22L334.46 193.32M330.36 193.32L334.46 189.22M330.22 189.10L334.32 193.20M330.22 193.20L334.32 189.10M330.07 188.99L334.17 193.09M330.07 193.09L334.17 188.99M329.93 188.88L334.03 192.98M329.93 192.98L334.03 188.88M329.79 188.77L333.89 192.87M329.79 192.87L333.89 188.77M329.64 188.65L333.74 192.75M329.64 192.75L333.74 188.65M329.50 188.54L333.60 192.64M329.50 192.64L333.60 188.54M329.35 188.43L333.45 192.53M329.35 192.53L333.45 188.43M329.21 188.33L333.31 192.43M329.21 192.43L333.31 188.33M329.07 188.22L333.17 192.32M329.07 192.32L333.17 188.22M328.92 188.11L333.02 192.21M328.92 192.21L333.02 188.11M328.78 188.00L332.88 192.10M328.78 192.10L332.88 188.00M328.63 187.90L332.73 192.00M328.63 192.00L332.73 187.90M328.49 187.79L332.59 191.89M328.49 191.89L332.59 187.79M328.34 187.68L332.44 191.78M328.34 191.78L332.44 187.68M328.20 187.58L332.30 191.68M328.20 191.68L332.30 187.58M328.05 187.48L332.15 191.58M328.05 191.58L332.15 187.48M327.91 187.37L332.01 191.47M327.91 191.47L332.01 187.37M327.76 187.27L331.86 191.37M327.76 191.37L331.86 187.27M327.62 187.17L331.72 191.27M327.62 191.27L331.72 187.17M327.47 187.07L331.57 191.17M327.47 191.17L331.57 187.07M327.33 186.97L331.43 191.07M327.33 191.07L331.43 186.97M327.18 186.87L331.28 190.97M327.18 190.97L331.28 186.87M327.04 186.77L331.14 190.87M327.04 190.87L331.14 186.77M326.89 186.67L330.99 190.77M326.89 190.77L330.99 186.67M326.74 186.57L330.84 190.67M326.74 190.67L330.84 186.57M326.59 186.47L330.69 190.57M326.59 190.57L330.69 186.47M326.44 186.37L330.54 190.47M326.44 190.47L330.54 186.37M326.29 186.28L330.39 190.38M326.29 190.38L330.39 186.28M326.14 186.18L330.24 190.28M326.14 190.28L330.24 186.18M325.99 186.09L330.09 190.19M325.99 190.19L330.09 186.09M325.84 185.99L329.94 190.09M325.84 190.09L329.94 185.99M325.70 185.90L329.80 190.00M325.70 190.00L329.80 185.90M325.55 185.80L329.65 189.90M325.55 189.90L329.65 185.80M325.40 185.71L329.50 189.81M325.40 189.81L329.50 185.71M325.25 185.62L329.35 189.72M325.25 189.72L329.35 185.62M325.10 185.52L329.20 189.62M325.10 189.62L329.20 185.52M324.94 185.43L329.04 189.53M324.94 189.53L329.04 185.43M324.79 185.34L328.89 189.44M324.79 189.44L328.89 185.34M324.64 185.25L328.74 189.35M324.64 189.35L328.74 185.25M324.49 185.16L328.59 189.26M324.49 189.26L328.59 185.16M324.34 185.07L328.44 189.17M324.34 189.17L328.44 185.07M324.18 184.98L328.28 189.08M324.18 189.08L328.28 184.98M324.03 184.89L328.13 188.99M324.03 188.99L328.13 184.89M323.87 184.80L327.97 188.90M323.87 188.90L327.97 184.80M323.72 184.71L327.82 188.81M323.72 188.81L327.82 184.71M323.56 184.62L327.66 188.72M323.56 188.72L327.66 184.62M323.41 184.54L327.51 188.64M323.41 188.64L327.51 184.54M323.25 184.45L327.35 188.55M323.25 188.55L327.35 184.45M323.09 184.36L327.19 188.46M323.09 188.46L327.19 184.36M322.93 184.28L327.03 188.38M322.93 188.38L327.03 184.28M322.77 184.19L326.87 188.29M322.77 188.29L326.87 184.19M322.62 184.11L326.72 188.21M322.62 188.21L326.72 184.11M322.46 184.02L326.56 188.12M322.46 188.12L326.56 184.02M322.30 183.94L326.40 188.04M322.30 188.04L326.40 183.94M322.14 183.85L326.24 187.95M322.14 187.95L326.24 183.85M321.97 183.77L326.07 187.87M321.97 187.87L326.07 183.77M321.81 183.69L325.91 187.79M321.81 187.79L325.91 183.69M321.64 183.61L325.74 187.71M321.64 187.71L325.74 183.61M321.48 183.52L325.58 187.62M321.48 187.62L325.58 183.52M321.31 183.44L325.41 187.54M321.31 187.54L325.41 183.44M321.15 183.36L325.25 187.46M321.15 187.46L325.25 183.36M320.98 183.28L325.08 187.38M320.98 187.38L325.08 183.28M320.81 183.20L324.91 187.30M320.81 187.30L324.91 183.20M320.64 183.12L324.74 187.22M320.64 187.22L324.74 183.12M320.47 183.04L324.57 187.14M320.47 187.14L324.57 183.04M320.30 182.96L324.40 187.06M320.30 187.06L324.40 182.96M320.13 182.88L324.23 186.98M320.13 186.98L324.23 182.88M319.96 182.80L324.06 186.90M319.96 186.90L324.06 182.80M319.78 182.72L323.88 186.82M319.78 186.82L323.88 182.72M319.61 182.64L323.71 186.74M319.61 186.74L323.71 182.64M319.43 182.57L323.53 186.67M319.43 186.67L323.53 182.57M319.26 182.49L323.36 186.59M319.26 186.59L323.36 182.49M319.08 182.41L323.18 186.51M319.08 186.51L323.18 182.41M318.90 182.34L323.00 186.44M318.90 186.44L323.00 182.34M318.72 182.26L322.82 186.36M318.72 186.36L322.82 182.26M318.53 182.18L322.63 186.28M318.53 186.28L322.63 182.18M318.35 182.11L322.45 186.21M318.35 186.21L322.45 182.11M318.17 182.03L322.27 186.13M318.17 186.13L322.27 182.03M317.98 181.96L322.08 186.06M317.98 186.06L322.08 181.96M317.80 181.88L321.90 185.98M317.80 185.98L321.90 181.88M317.61 181.81L321.71 185.91M317.61 185.91L321.71 181.81M317.42 181.73L321.52 185.83M317.42 185.83L321.52 181.73M317.23 181.66L321.33 185.76M317.23 185.76L321.33 181.66M317.03 181.59L321.13 185.69M317.03 185.69L321.13 181.59M316.84 181.51L320.94 185.61M316.84 185.61L320.94 181.51M316.64 181.44L320.74 185.54M316.64 185.54L320.74 181.44M316.45 181.37L320.55 185.47M316.45 185.47L320.55 181.37M316.24 181.30L320.34 185.40M316.24 185.40L320.34 181.30M316.04 181.22L320.14 185.32M316.04 185.32L320.14 181.22M315.84 181.15L319.94 185.25M315.84 185.25L319.94 181.15M315.64 181.08L319.74 185.18M315.64 185.18L319.74 181.08M315.43 181.01L319.53 185.11M315.43 185.11L319.53 181.01M315.22 180.94L319.32 185.04M315.22 185.04L319.32 180.94M315.02 180.87L319.12 184.97M315.02 184.97L319.12 180.87M314.80 180.80L318.90 184.90M314.80 184.90L318.90 180.80M314.59 180.73L318.69 184.83M314.59 184.83L318.69 180.73M314.37 180.66L318.47 184.76M314.37 184.76L318.47 180.66M314.16 180.59L318.26 184.69M314.16 184.69L318.26 180.59M313.94 180.52L318.04 184.62M313.94 184.62L318.04 180.52M313.72 180.45L317.82 184.55M313.72 184.55L317.82 180.45M313.49 180.38L317.59 184.48M313.49 184.48L317.59 180.38M313.27 180.32L317.37 184.42M313.27 184.42L317.37 180.32M313.04 180.25L317.14 184.35M313.04 184.35L317.14 180.25M312.81 180.18L316.91 184.28M312.81 184.28L316.91 180.18M312.58 180.11L316.68 184.21M312.58 184.21L316.68 180.11M312.34 180.05L316.44 184.15M312.34 184.15L316.44 180.05M312.11 179.98L316.21 184.08M312.11 184.08L316.21 179.98M311.87 179.91L315.97 184.01M311.87 184.01L315.97 179.91M311.62 179.85L315.72 183.95M311.62 183.95L315.72 179.85M311.38 179.78L315.48 183.88M311.38 183.88L315.48 179.78M311.13 179.72L315.23 183.82M311.13 183.82L315.23 179.72M310.88 179.65L314.98 183.75M310.88 183.75L314.98 179.65M310.62 179.59L314.72 183.69M310.62 183.69L314.72 179.59M310.36 179.52L314.46 183.62M310.36 183.62L314.46 179.52M310.10 179.46L314.20 183.56M310.10 183.56L314.20 179.46M309.83 179.39L313.93 183.49M309.83 183.49L313.93 179.39M309.56 179.33L313.66 183.43M309.56 183.43L313.66 179.33M309.29 179.26L313.39 183.36M309.29 183.36L313.39 179.26M309.02 179.20L313.12 183.30M309.02 183.30L313.12 179.20M308.73 179.14L312.83 183.24M308.73 183.24L312.83 179.14M308.45 179.07L312.55 183.17M308.45 183.17L312.55 179.07M308.16 179.01L312.26 183.11M308.16 183.11L312.26 179.01M307.87 178.95L311.97 183.05M307.87 183.05L311.97 178.95M307.58 178.88L311.68 182.98M307.58 182.98L311.68 178.88M307.27 178.82L311.37 182.92M307.27 182.92L311.37 178.82M306.97 178.76L311.07 182.86M306.97 182.86L311.07 178.76M306.65 178.70L310.75 182.80M306.65 182.80L310.75 178.70M306.34 178.64L310.44 182.74M306.34 182.74L310.44 178.64M306.01 178.57L310.11 182.67M306.01 182.67L310.11 178.57M305.69 178.51L309.79 182.61M305.69 182.61L309.79 178.51M305.36 178.45L309.46 182.55M305.36 182.55L309.46 178.45M305.02 178.39L309.12 182.49M305.02 182.49L309.12 178.39M304.68 178.33L308.78 182.43M304.68 182.43L308.78 178.33M304.33 178.27L308.43 182.37M304.33 182.37L308.43 178.27M303.97 178.21L308.07 182.31M303.97 182.31L308.07 178.21M303.60 178.15L307.70 182.25M303.60 182.25L307.70 178.15M303.23 178.09L307.33 182.19M303.23 182.19L307.33 178.09M302.85 178.03L306.95 182.13M302.85 182.13L306.95 178.03M302.46 177.97L306.56 182.07M302.46 182.07L306.56 177.97M302.07 177.91L306.17 182.01M302.07 182.01L306.17 177.91M301.66 177.85L305.76 181.95M301.66 181.95L305.76 177.85M301.25 177.79L305.35 181.89M301.25 181.89L305.35 177.79M300.83 177.74L304.93 181.84M300.83 181.84L304.93 177.74M300.40 177.68L304.50 181.78M300.40 181.78L304.50 177.68M299.96 177.62L304.06 181.72M299.96 181.72L304.06 177.62M299.51 177.56L303.61 181.66M299.51 181.66L303.61 177.56M299.04 177.50L303.14 181.60M299.04 181.60L303.14 177.50M298.57 177.45L302.67 181.55M298.57 181.55L302.67 177.45M298.08 177.39L302.18 181.49M298.08 181.49L302.18 177.39M297.58 177.33L301.68 181.43M297.58 181.43L301.68 177.33M297.06 177.27L301.16 181.37M297.06 181.37L301.16 177.27M296.53 177.22L300.63 181.32M296.53 181.32L300.63 177.22M295.98 177.16L300.08 181.26M295.98 181.26L300.08 177.16M295.42 177.10L299.52 181.20M295.42 181.20L299.52 177.10M294.83 177.05L298.93 181.15M294.83 181.15L298.93 177.05M294.22 176.99L298.32 181.09M294.22 181.09L298.32 176.99M293.59 176.94L297.69 181.04M293.59 181.04L297.69 176.94M292.95 176.88L297.05 180.98M292.95 180.98L297.05 176.88M292.27 176.83L296.37 180.93M292.27 180.93L296.37 176.83M291.58 176.77L295.68 180.87M291.58 180.87L295.68 176.77M290.85 176.72L294.95 180.82M290.85 180.82L294.95 176.72M290.09 176.66L294.19 180.76M290.09 180.76L294.19 176.66M289.30 176.61L293.40 180.71M289.30 180.71L293.40 176.61M288.47 176.55L292.57 180.65M288.47 180.65L292.57 176.55M287.60 176.50L291.70 180.60M287.60 180.60L291.70 176.50M286.68 176.44L290.78 180.54M286.68 180.54L290.78 176.44M285.72 176.39L289.82 180.49M285.72 180.49L289.82 176.39M284.71 176.33L288.81 180.43M284.71 180.43L288.81 176.33M283.63 176.28L287.73 180.38M283.63 180.38L287.73 176.28M282.48 176.23L286.58 180.33M282.48 180.33L286.58 176.23M281.25 176.17L285.35 180.27M281.25 180.27L285.35 176.17M279.91 176.12L284.01 180.22M279.91 180.22L284.01 176.12M278.47 176.07L282.57 180.17M278.47 180.17L282.57 176.07M276.90 176.01L281.00 180.11M276.90 180.11L281.00 176.01M275.17 175.96L279.27 180.06M275.17 180.06L279.27 175.96M273.27 175.91L277.37 180.01M273.27 180.01L277.37 175.91M271.14 175.86L275.24 179.96M271.14 179.96L275.24 175.86M268.71 175.80L272.81 179.90M268.71 179.90L272.81 175.80M265.89 175.75L269.99 179.85M265.89 179.85L269.99 175.75M262.52 175.70L266.62 179.80M262.52 179.80L266.62 175.70M258.34 175.65L262.44 179.75M258.34 179.75L262.44 175.65" stroke="#00ff00" stroke-width="0.6" fill="none"/>
<path d="M332.26 276.49H336.36M334.31 274.44V278.54M332.26 274.44L336.36 278.54M332.26 278.54L336.36 274.44M330.44 264.68H334.54M332.49 262.63V266.73M330.44 262.63L334.54 266.73M330.44 266.73L334.54 262.63M329.26 257.77H333.36M331.31 255.72V259.82M329.26 255.72L333.36 259.82M329.26 259.82L333.36 255.72M328.35 252.87H332.45M330.40 250.82V254.92M328.35 250.82L332.45 254.92M328.35 254.92L332.45 250.82M327.61 249.07H331.71M329.66 247.02V251.12M327.61 247.02L331.71 251.12M327.61 251.12L331.71 247.02M326.96 245.96H331.06M329.01 243.91V248.01M326.96 243.91L331.06 248.01M326.96 248.01L331.06 243.91M326.39 243.34H330.49M328.44 241.29V245.39M326.39 241.29L330.49 245.39M326.39 245.39L330.49 241.29M325.87 241.06H329.97M327.92 239.01V243.11M325.87 239.01L329.97 243.11M325.87 243.11L329.97 239.01M325.40 239.05H329.50M327.45 237.00V241.10M325.40 237.00L329.50 241.10M325.40 241.10L329.50 237.00M324.97 237.26H329.07M327.02 235.21V239.31M324.97 235.21L329.07 239.31M324.97 239.31L329.07 235.21M324.57 235.63H328.67M326.62 233.58V237.68M324.57 233.58L328.67 237.68M324.57 237.68L328.67 233.58M324.18 234.15H328.28M326.23 232.10V236.20M324.18 232.10L328.28 236.20M324.18 236.20L328.28 232.10M323.83 232.79H327.93M325.88 230.74V234.84M323.83 230.74L327.93 234.84M323.83 234.84L327.93 230.74M323.49 231.52H327.59M325.54 229.47V233.57M323.49 229.47L327.59 233.57M323.49 233.57L327.59 229.47M323.16 230.35H327.26M325.21 228.30V232.40M323.16 228.30L327.26 232.40M323.16 232.40L327.26 228.30M322.85 229.25H326.95M324.90 227.20V231.30M322.85 227.20L326.95 231.30M322.85 231.30L326.95 227.20M322.55 228.22H326.65M324.60 226.17V230.27M322.55 226.17L326.65 230.27M322.55 230.27L326.65 226.17M322.26 227.24H326.36M324.31 225.19V229.29M322.26 225.19L326.36 229.29M322.26 229.29L326.36 225.19M321.98 226.32H326.08M324.03 224.27V228.37M321.98 224.27L326.08 228.37M321.98 228.37L326.08 224.27M321.71 225.45H325.81M323.76 223.40V227.50M321.71 223.40L325.81 227.50M321.71 227.50L325.81 223.40M321.45 224.62H325.55M323.50 222.57V226.67M321.45 222.57L325.55 226.67M321.45 226.67L325.55 222.57M321.19 223.82H325.29M323.24 221.77V225.87M321.19 221.77L325.29 225.87M321.19 225.87L325.29 221.77M320.95 223.07H325.05M323.00 221.02V225.12M320.95 221.02L325.05 225.12M320.95 225.12L325.05 221.02M320.71 222.34H324.81M322.76 220.29V224.39M320.71 220.29L324.81 224.39M320.71 224.39L324.81 220.29M320.47 221.65H324.57M322.52 219.60V223.70M320.47 219.60L324.57 223.70M320.47 223.70L324.57 219.60M320.24 220.98H324.34M322.29 218.93V223.03M320.24 218.93L324.34 223.03M320.24 223.03L324.34 218.93M320.02 220.33H324.12M322.07 218.28V222.38M320.02 218.28L324.12 222.38M320.02 222.38L324.12 218.28M319.80 219.71H323.90M321.85 217.66V221.76M319.80 217.66L323.90 221.76M319.80 221.76L323.90 217.66M319.58 219.12H323.68M321.63 217.07V221.17M319.58 217.07L323.68 221.17M319.58 221.17L323.68 217.07M319.37 218.54H323.47M321.42 216.49V220.59M319.37 216.49L323.47 220.59M319.37 220.59L323.47 216.49M319.17 217.98H323.27M321.22 215.93V220.03M319.17 215.93L323.27 220.03M319.17 220.03L323.27 215.93M318.96 217.44H323.06M321.01 215.39V219.49M318.96 215.39L323.06 219.49M318.96 219.49L323.06 215.39M318.76 216.91H322.86M320.81 214.86V218.96M318.76 214.86L322.86 218.96M318.76 218.96L322.86 214.86M318.56 216.41H322.66M320.61 214.36V218.46M318.56 214.36L322.66 218.46M318.56 218.46L322.66 214.36M318.37 215.91H322.47M320.42 213.86V217.96M318.37 213.86L322.47 217.96M318.37 217.96L322.47 213.86M318.18 215.43H322.28M320.23 213.38V217.48M318.18 213.38L322.28 217.48M318.18 217.48L322.28 213.38M317.99 214.97H322.09M320.04 212.92V217.02M317.99 212.92L322.09 217.02M317.99 217.02L322.09 212.92M317.80 214.51H321.90M319.85 212.46V216.56M317.80 212.46L321.90 216.56M317.80 216.56L321.90 212.46M317.62 214.07H321.72M319.67 212.02V216.12M317.62 212.02L321.72 216.12M317.62 216.12L321.72 212.02M317.44 213.64H321.54M319.49 211.59V215.69M317.44 211.59L321.54 215.69M317.44 215.69L321.54 211.59M317.26 213.22H321.36M319.31 211.17V215.27M317.26 211.17L321.36 215.27M317.26 215.27L321.36 211.17M317.08 212.81H321.18M319.13 210.76V214.86M317.08 210.76L321.18 214.86M317.08 214.86L321.18 210.76M316.91 212.40H321.01M318.96 210.35V214.45M316.91 210.35L321.01 214.45M316.91 214.45L321.01 210.35M316.74 212.01H320.84M318.79 209.96V214.06M316.74 209.96L320.84 214.06M316.74 214.06L320.84 209.96M316.56 211.63H320.66M318.61 209.58V213.68M316.56 209.58L320.66 213.68M316.56 213.68L320.66 209.58M316.39 211.26H320.49M318.44 209.21V213.31M316.39 209.21L320.49 213.31M316.39 213.31L320.49 209.21M316.23 210.89H320.33M318.28 208.84V212.94M316.23 208.84L320.33 212.94M316.23 212.94L320.33 208.84M316.06 210.53H320.16M318.11 208.48V212.58M316.06 208.48L320.16 212.58M316.06 212.58L320.16 208.48M315.90 210.18H320.00M317.95 208.13V212.23M315.90 208.13L320.00 212.23M315.90 212.23L320.00 208.13M315.73 209.84H319.83M317.78 207.79V211.89M315.73 207.79L319.83 211.89M315.73 211.89L319.83 207.79M315.57 209.50H319.67M317.62 207.45V211.55M315.57 207.45L319.67 211.55M315.57 211.55L319.67 207.45M315.41 209.17H319.51M317.46 207.12V211.22M315.41 207.12L319.51 211.22M315.41 211.22L319.51 207.12M315.25 208.84H319.35M317.30 206.79V210.89M315.25 206.79L319.35 210.89M315.25 210.89L319.35 206.79M315.09 208.52H319.19M317.14 206.47V210.57M315.09 206.47L319.19 210.57M315.09 210.57L319.19 206.47M314.94 208.21H319.04M316.99 206.16V210.26M314.94 206.16L319.04 210.26M314.94 210.26L319.04 206.16M314.78 207.90H318.88M316.83 205.85V209.95M314.78 205.85L318.88 209.95M314.78 209.95L318.88 205.85M314.63 207.60H318.73M316.68 205.55V209.65M314.63 205.55L318.73 209.65M314.63 209.65L318.73 205.55M314.48 207.31H318.58M316.53 205.26V209.36M314.48 205.26L318.58 209.36M314.48 209.36L318.58 205.26M314.33 207.01H318.43M316.38 204.96V209.06M314.33 204.96L318.43 209.06M314.33 209.06L318.43 204.96M314.18 206.73H318.28M316.23 204.68V208.78M314.18 204.68L318.28 208.78M314.18 208.78L318.28 204.68M314.03 206.45H318.13M316.08 204.40V208.50M314.03 204.40L318.13 208.50M314.03 208.50L318.13 204.40M313.88 206.17H317.98M315.93 204.12V208.22M313.88 204.12L317.98 208.22M313.88 208.22L317.98 204.12M313.73 205.90H317.83M315.78 203.85V207.95M313.73 203.85L317.83 207.95M313.73 207.95L317.83 203.85M313.58 205.63H317.68M315.63 203.58V207.68M313.58 203.58L317.68 207.68M313.58 207.68L317.68 203.58M313.44 205.36H317.54M315.49 203.31V207.41M313.44 203.31L317.54 207.41M313.44 207.41L317.54 203.31M313.29 205.10H317.39M315.34 203.05V207.15M313.29 203.05L317.39 207.15M313.29 207.15L317.39 203.05M313.15 204.85H317.25M315.20 202.80V206.90M313.15 202.80L317.25 206.90M313.15 206.90L317.25 202.80M313.00 204.60H317.10M315.05 202.55V206.65M313.00 202.55L317.10 206.65M313.00 206.65L317.10 202.55M312.86 204.35H316.96M314.91 202.30V206.40M312.86 202.30L316.96 206.40M312.86 206.40L316.96 202.30M312.72 204.10H316.82M314.77 202.05V206.15M312.72 202.05L316.82 206.15M312.72 206.15L316.82 202.05M312.57 203.86H316.67M314.62 201.81V205.91M312.57 201.81L316.67 205.91M312.57 205.91L316.67 201.81M312.43 203.62H316.53M314.48 201.57V205.67M312.43 201.57L316.53 205.67M312.43 205.67L316.53 201.57M312.29 203.39H316.39M314.34 201.34V205.44M312.29 201.34L316.39 205.44M312.29 205.44L316.39 201.34M312.15 203.16H316.25M314.20 201.11V205.21M312.15 201.11L316.25 205.21M312.15 205.21L316.25 201.11M312.01 202.93H316.11M314.06 200.88V204.98M312.01 200.88L316.11 204.98M312.01 204.98L316.11 200.88M311.87 202.70H315.97M313.92 200.65V204.75M311.87 200.65L315.97 204.75M311.87 204.75L315.97 200.65M311.73 202.48H315.83M313.78 200.43V204.53M311.73 200.43L315.83 204.53M311.73 204.53L315.83 200.43M311.59 202.26H315.69M313.64 200.21V204.31M311.59 200.21L315.69 204.31M311.59 204.31L315.69 200.21M311.45 202.04H315.55M313.50 199.99V204.09M311.45 199.99L315.55 204.09M311.45 204.09L315.55 199.99M311.32 201.83H315.42M313.37 199.78V203.88M311.32 199.78L315.42 203.88M311.32 203.88L315.42 199.78M311.18 201.62H315.28M313.23 199.57V203.67M311.18 199.57L315.28 203.67M311.18 203.67L315.28 199.57M311.04 201.41H315.14M313.09 199.36V203.46M311.04 199.36L315.14 203.46M311.04 203.46L315.14 199.36M310.90 201.20H315.00M312.95 199.15V203.25M310.90 199.15L315.00 203.25M310.90 203.25L315.00 199.15M310.77 201.00H314.87M312.82 198.95V203.05M310.77 198.95L314.87 203.05M310.77 203.05L314.87 198.95M310.63 200.79H314.73M312.68 198.74V202.84M310.63 198.74L314.73 202.84M310.63 202.84L314.73 198.74M310.50 200.59H314.60M312.55 198.54V202.64M310.50 198.54L314.60 202.64M310.50 202.64L314.60 198.54M310.36 200.40H314.46M312.41 198.35V202.45M310.36 198.35L314.46 202.45M310.36 202.45L314.46 198.35M310.23 200.20H314.33M312.28 198.15V202.25M310.23 198.15L314.33 202.25M310.23 202.25L314.33 198.15M310.09 200.01H314.19M312.14 197.96V202.06M310.09 197.96L314.19 202.06M310.09 202.06L314.19 197.96M309.96 199.82H314.06M312.01 197.77V201.87M309.96 197.77L314.06 201.87M309.96 201.87L314.06 197.77M309.82 199.63H313.92M311.87 197.58V201.68M309.82 197.58L313.92 201.68M309.82 201.68L313.92 197.58M309.69 199.45H313.79M311.74 197.40V201.50M309.69 197.40L313.79 201.50M309.69 201.50L313.79 197.40M309.55 199.26H313.65M311.60 197.21V201.31M309.55 197.21L313.65 201.31M309.55 201.31L313.65 197.21M309.42 199.08H313.52M311.47 197.03V201.13M309.42 197.03L313.52 201.13M309.42 201.13L313.52 197.03M309.29 198.90H313.39M311.34 196.85V200.95M309.29 196.85L313.39 200.95M309.29 200.95L313.39 196.85M309.15 198.72H313.25M311.20 196.67V200.77M309.15 196.67L313.25 200.77M309.15 200.77L313.25 196.67M309.02 198.54H313.12M311.07 196.49V200.59M309.02 196.49L313.12 200.59M309.02 200.59L313.12 196.49M308.89 198.37H312.99M310.94 196.32V200.42M308.89 196.32L312.99 200.42M308.89 200.42L312.99 196.32M308.76 198.20H312.86M310.81 196.15V200.25M308.76 196.15L312.86 200.25M308.76 200.25L312.86 196.15M308.63 198.02H312.73M310.68 195.97V200.07M308.63 195.97L312.73 200.07M308.63 200.07L312.73 195.97M308.49 197.86H312.59M310.54 195.81V199.91M308.49 195.81L312.59 199.91M308.49 199.91L312.59 195.81M308.36 197.69H312.46M310.41 195.64V199.74M308.36 195.64L312.46 199.74M308.36 199.74L312.46 195.64M308.23 197.52H312.33M310.28 195.47V199.57M308.23 195.47L312.33 199.57M308.23 199.57L312.33 195.47M308.10 197.36H312.20M310.15 195.31V199.41M308.10 195.31L312.20 199.41M308.10 199.41L312.20 195.31M307.97 197.19H312.07M310.02 195.14V199.24M307.97 195.14L312.07 199.24M307.97 199.24L312.07 195.14M307.84 197.03H311.94M309.89 194.98V199.08M307.84 194.98L311.94 199.08M307.84 199.08L311.94 194.98M307.71 196.87H311.81M309.76 194.82V198.92M307.71 194.82L311.81 198.92M307.71 198.92L311.81 194.82M307.58 196.71H311.68M309.63 194.66V198.76M307.58 194.66L311.68 198.76M307.58 198.76L311.68 194.66M307.45 196.56H311.55M309.50 194.51V198.61M307.45 194.51L311.55 198.61M307.45 198.61L311.55 194.51M307.31 196.40H311.41M309.36 194.35V198.45M307.31 194.35L311.41 198.45M307.31 198.45L311.41 194.35M307.18 196.25H311.28M309.23 194.20V198.30M307.18 194.20L311.28 198.30M307.18 198.30L311.28 194.20M307.05 196.09H311.15M309.10 194.04V198.14M307.05 194.04L311.15 198.14M307.05 198.14L311.15 194.04M306.92 195.94H311.02M308.97 193.89V197.99M306.92 193.89L311.02 197.99M306.92 197.99L311.02 193.89M306.79 195.79H310.89M308.84 193.74V197.84M306.79 193.74L310.89 197.84M306.79 197.84L310.89 193.74M306.66 195.64H310.76M308.71 193.59V197.69M306.66 193.59L310.76 197.69M306.66 197.69L310.76 193.59M306.53 195.50H310.63M308.58 193.45V197.55M306.53 193.45L310.63 197.55M306.53 197.55L310.63 193.45M306.40 195.35H310.50M308.45 193.30V197.40M306.40 193.30L310.50 197.40M306.40 197.40L310.50 193.30M306.27 195.20H310.37M308.32 193.15V197.25M306.27 193.15L310.37 197.25M306.27 197.25L310.37 193.15M306.14 195.06H310.24M308.19 193.01V197.11M306.14 193.01L310.24 197.11M306.14 197.11L310.24 193.01M306.01 194.92H310.11M308.06 192.87V196.97M306.01 192.87L310.11 196.97M306.01 196.97L310.11 192.87M305.88 194.78H309.98M307.93 192.73V196.83M305.88 192.73L309.98 196.83M305.88 196.83L309.98 192.73M305.75 194.64H309.85M307.80 192.59V196.69M305.75 192.59L309.85 196.69M305.75 196.69L309.85 192.59M305.61 194.50H309.71M307.66 192.45V196.55M305.61 192.45L309.71 196.55M305.61 196.55L309.71 192.45M305.48 194.36H309.58M307.53 192.31V196.41M305.48 192.31L309.58 196.41M305.48 196.41L309.58 192.31M305.35 194.22H309.45M307.40 192.17V196.27M305.35 192.17L309.45 196.27M305.35 196.27L309.45 192.17M305.22 194.09H309.32M307.27 192.04V196.14M305.22 192.04L309.32 196.14M305.22 196.14L309.32 192.04M305.09 193.95H309.19M307.14 191.90V196.00M305.09 191.90L309.19 196.00M305.09 196.00L309.19 191.90M304.95 193.82H309.05M307.00 191.77V195.87M304.95 191.77L309.05 195.87M304.95 195.87L309.05 191.77M304.82 193.69H308.92M306.87 191.64V195.74M304.82 191.64L308.92 195.74M304.82 195.74L308.92 191.64M304.69 193.55H308.79M306.74 191.50V195.60M304.69 191.50L308.79 195.60M304.69 195.60L308.79 191.50M304.56 193.42H308.66M306.61 191.37V195.47M304.56 191.37L308.66 195.47M304.56 195.47L308.66 191.37M304.43 193.29H308.53M306.48 191.24V195.34M304.43 191.24L308.53 195.34M304.43 195.34L308.53 191.24M304.29 193.17H308.39M306.34 191.12V195.22M304.29 191.12L308.39 195.22M304.29 195.22L308.39 191.12M304.16 193.04H308.26M306.21 190.99V195.09M304.16 190.99L308.26 195.09M304.16 195.09L308.26 190.99M304.03 192.91H308.13M306.08 190.86V194.96M304.03 190.86L308.13 194.96M304.03 194.96L308.13 190.86M303.90 192.79H308.00M305.95 190.74V194.84M303.90 190.74L308.00 194.84M303.90 194.84L308.00 190.74M303.76 192.66H307.86M305.81 190.61V194.71M303.76 190.61L307.86 194.71M303.76 194.71L307.86 190.61M303.63 192.54H307.73M305.68 190.49V194.59M303.63 190.49L307.73 194.59M303.63 194.59L307.73 190.49M303.50 192.41H307.60M305.55 190.36V194.46M303.50 190.36L307.60 194.46M303.50 194.46L307.60 190.36M303.36 192.29H307.46M305.41 190.24V194.34M303.36 190.24L307.46 194.34M303.36 194.34L307.46 190.24M303.23 192.17H307.33M305.28 190.12V194.22M303.23 190.12L307.33 194.22M303.23 194.22L307.33 190.12M303.10 192.05H307.20M305.15 190.00V194.10M303.10 190.00L307.20 194.10M303.10 194.10L307.20 190.00M302.96 191.93H307.06M305.01 189.88V193.98M302.96 189.88L307.06 193.98M302.96 193.98L307.06 189.88M302.83 191.81H306.93M304.88 189.76V193.86M302.83 189.76L306.93 193.86M302.83 193.86L306.93 189.76M302.70 191.69H306.80M304.75 189.64V193.74M302.70 189.64L306.80 193.74M302.70 193.74L306.80 189.64M302.56 191.58H306.66M304.61 189.53V193.63M302.56 189.53L306.66 193.63M302.56 193.63L306.66 189.53M302.43 191.46H306.53M304.48 189.41V193.51M302.43 189.41L306.53 193.51M302.43 193.51L306.53 189.41M302.29 191.34H306.39M304.34 189.29V193.39M302.29 189.29L306.39 193.39M302.29 193.39L306.39 189.29M302.15 191.23H306.25M304.20 189.18V193.28M302.15 189.18L306.25 193.28M302.15 193.28L306.25 189.18M302.02 191.12H306.12M304.07 189.07V193.17M302.02 189.07L306.12 193.17M302.02 193.17L306.12 189.07M301.88 191.00H305.98M303.93 188.95V193.05M301.88 188.95L305.98 193.05M301.88 193.05L305.98 188.95M301.74 190.89H305.84M303.79 188.84V192.94M301.74 188.84L305.84 192.94M301.74 192.94L305.84 188.84M301.61 190.78H305.71M303.66 188.73V192.83M301.61 188.73L305.71 192.83M301.61 192.83L305.71 188.73M301.47 190.67H305.57M303.52 188.62V192.72M301.47 188.62L305.57 192.72M301.47 192.72L305.57 188.62M301.33 190.56H305.43M303.38 188.51V192.61M301.33 188.51L305.43 192.61M301.33 192.61L305.43 188.51M301.20 190.45H305.30M303.25 188.40V192.50M301.20 188.40L305.30 192.50M301.20 192.50L305.30 188.40M301.06 190.34H305.16M303.11 188.29V192.39M301.06 188.29L305.16 192.39M301.06 192.39L305.16 188.29M300.92 190.23H305.02M302.97 188.18V192.28M300.92 188.18L305.02 192.28M300.92 192.28L305.02 188.18M300.78 190.12H304.88M302.83 188.07V192.17M300.78 188.07L304.88 192.17M300.78 192.17L304.88 188.07M300.64 190.02H304.74M302.69 187.97V192.07M300.64 187.97L304.74 192.07M300.64 192.07L304.74 187.97M300.50 189.91H304.60M302.55 187.86V191.96M300.50 187.86L304.60 191.96M300.50 191.96L304.60 187.86M300.36 189.80H304.46M302.41 187.75V191.85M300.36 187.75L304.46 191.85M300.36 191.85L304.46 187.75M300.22 189.70H304.32M302.27 187.65V191.75M300.22 187.65L304.32 191.75M300.22 191.75L304.32 187.65M300.08 189.60H304.18M302.13 187.55V191.65M300.08 187.55L304.18 191.65M300.08 191.65L304.18 187.55M299.94 189.49H304.04M301.99 187.44V191.54M299.94 187.44L304.04 191.54M299.94 191.54L304.04 187.44M299.80 189.39H303.90M301.85 187.34V191.44M299.80 187.34L303.90 191.44M299.80 191.44L303.90 187.34M299.66 189.29H303.76M301.71 187.24V191.34M299.66 187.24L303.76 191.34M299.66 191.34L303.76 187.24M299.51 189.19H303.61M301.56 187.14V191.24M299.51 187.14L303.61 191.24M299.51 191.24L303.61 187.14M299.37 189.08H303.47M301.42 187.03V191.13M299.37 187.03L303.47 191.13M299.37 191.13L303.47 187.03M299.23 188.98H303.33M301.28 186.93V191.03M299.23 186.93L303.33 191.03M299.23 191.03L303.33 186.93M299.08 188.88H303.18M301.13 186.83V190.93M299.08 186.83L303.18 190.93M299.08 190.93L303.18 186.83M298.94 188.78H303.04M300.99 186.73V190.83M298.94 186.73L303.04 190.83M298.94 190.83L303.04 186.73M298.79 188.69H302.89M300.84 186.64V190.74M298.79 186.64L302.89 190.74M298.79 190.74L302.89 186.64M298.65 188.59H302.75M300.70 186.54V190.64M298.65 186.54L302.75 190.64M298.65 190.64L302.75 186.54M298.50 188.49H302.60M300.55 186.44V190.54M298.50 186.44L302.60 190.54M298.50 190.54L302.60 186.44M298.35 188.39H302.45M300.40 186.34V190.44M298.35 186.34L302.45 190.44M298.35 190.44L302.45 186.34M298.21 188.30H302.31M300.26 186.25V190.35M298.21 186.25L302.31 190.35M298.21 190.35L302.31 186.25M298.06 188.20H302.16M300.11 186.15V190.25M298.06 186.15L302.16 190.25M298.06 190.25L302.16 186.15M297.91 188.10H302.01M299.96 186.05V190.15M297.91 186.05L302.01 190.15M297.91 190.15L302.01 186.05M297.76 188.01H301.86M299.81 185.96V190.06M297.76 185.96L301.86 190.06M297.76 190.06L301.86 185.96M297.61 187.92H301.71M299.66 185.87V189.97M297.61 185.87L301.71 189.97M297.61 189.97L301.71 185.87M297.46 187.82H301.56M299.51 185.77V189.87M297.46 185.77L301.56 189.87M297.46 189.87L301.56 185.77M297.31 187.73H301.41M299.36 185.68V189.78M297.31 185.68L301.41 189.78M297.31 189.78L301.41 185.68M297.16 187.64H301.26M299.21 185.59V189.69M297.16 185.59L301.26 189.69M297.16 189.69L301.26 185.59M297.01 187.54H301.11M299.06 185.49V189.59M297.01 185.49L301.11 189.59M297.01 189.59L301.11 185.49M296.86 187.45H300.96M298.91 185.40V189.50M296.86 185.40L300.96 189.50M296.86 189.50L300.96 185.40M296.71 187.36H300.81M298.76 185.31V189.41M296.71 185.31L300.81 189.41M296.71 189.41L300.81 185.31M296.55 187.27H300.65M298.60 185.22V189.32M296.55 185.22L300.65 189.32M296.55 189.32L300.65 185.22M296.40 187.18H300.50M298.45 185.13V189.23M296.40 185.13L300.50 189.23M296.40 189.23L300.50 185.13M296.24 187.09H300.34M298.29 185.04V189.14M296.24 185.04L300.34 189.14M296.24 189.14L300.34 185.04M296.09 187.00H300.19M298.14 184.95V189.05M296.09 184.95L300.19 189.05M296.09 189.05L300.19 184.95M295.93 186.91H300.03M297.98 184.86V188.96M295.93 184.86L300.03 188.96M295.93 188.96L300.03 184.86M295.78 186.82H299.88M297.83 184.77V188.87M295.78 184.77L299.88 188.87M295.78 188.87L299.88 184.77M295.62 186.73H299.72M297.67 184.68V188.78M295.62 184.68L299.72 188.78M295.62 188.78L299.72 184.68M295.46 186.65H299.56M297.51 184.60V188.70M295.46 184.60L299.56 188.70M295.46 188.70L299.56 184.60M295.30 186.56H299.40M297.35 184.51V188.61M295.30 184.51L299.40 188.61M295.30 188.61L299.40 184.51M295.14 186.47H299.24M297.19 184.42V188.52M295.14 184.42L299.24 188.52M295.14 188.52L299.24 184.42M294.98 186.39H299.08M297.03 184.34V188.44M294.98 184.34L299.08 188.44M294.98 188.44L299.08 184.34M294.82 186.30H298.92M296.87 184.25V188.35M294.82 184.25L298.92 188.35M294.82 188.35L298.92 184.25M294.66 186.21H298.76M296.71 184.16V188.26M294.66 184.16L298.76 188.26M294.66 188.26L298.76 184.16M294.49 186.13H298.59M296.54 184.08V188.18M294.49 184.08L298.59 188.18M294.49 188.18L298.59 184.08M294.33 186.04H298.43M296.38 183.99V188.09M294.33 183.99L298.43 188.09M294.33 188.09L298.43 183.99M294.16 185.96H298.26M296.21 183.91V188.01M294.16 183.91L298.26 188.01M294.16 188.01L298.26 183.91M294.00 185.88H298.10M296.05 183.83V187.93M294.00 183.83L298.10 187.93M294.00 187.93L298.10 183.83M293.83 185.79H297.93M295.88 183.74V187.84M293.83 183.74L297.93 187.84M293.83 187.84L297.93 183.74M293.66 185.71H297.76M295.71 183.66V187.76M293.66 183.66L297.76 187.76M293.66 187.76L297.76 183.66M293.49 185.63H297.59M295.54 183.58V187.68M293.49 183.58L297.59 187.68M293.49 187.68L297.59 183.58M293.32 185.55H297.42M295.37 183.50V187.60M293.32 183.50L297.42 187.60M293.32 187.60L297.42 183.50M293.15 185.46H297.25M295.20 183.41V187.51M293.15 183.41L297.25 187.51M293.15 187.51L297.25 183.41M292.98 185.38H297.08M295.03 183.33V187.43M292.98 183.33L297.08 187.43M292.98 187.43L297.08 183.33M292.81 185.30H296.91M294.86 183.25V187.35M292.81 183.25L296.91 187.35M292.81 187.35L296.91 183.25M292.63 185.22H296.73M294.68 183.17V187.27M292.63 183.17L296.73 187.27M292.63 187.27L296.73 183.17M292.46 185.14H296.56M294.51 183.09V187.19M292.46 183.09L296.56 187.19M292.46 187.19L296.56 183.09M292.28 185.06H296.38M294.33 183.01V187.11M292.28 183.01L296.38 187.11M292.28 187.11L296.38 183.01M292.11 184.98H296.21M294.16 182.93V187.03M292.11 182.93L296.21 187.03M292.11 187.03L296.21 182.93M291.93 184.90H296.03M293.98 182.85V186.95M291.93 182.85L296.03 186.95M291.93 186.95L296.03 182.85M291.75 184.82H295.85M293.80 182.77V186.87M291.75 182.77L295.85 186.87M291.75 186.87L295.85 182.77M291.57 184.75H295.67M293.62 182.70V186.80M291.57 182.70L295.67 186.80M291.57 186.80L295.67 182.70M291.38 184.67H295.48M293.43 182.62V186.72M291.38 182.62L295.48 186.72M291.38 186.72L295.48 182.62M291.20 184.59H295.30M293.25 182.54V186.64M291.20 182.54L295.30 186.64M291.20 186.64L295.30 182.54M291.02 184.51H295.12M293.07 182.46V186.56M291.02 182.46L295.12 186.56M291.02 186.56L295.12 182.46M290.83 184.44H294.93M292.88 182.39V186.49M290.83 182.39L294.93 186.49M290.83 186.49L294.93 182.39M290.64 184.36H294.74M292.69 182.31V186.41M290.64 182.31L294.74 186.41M290.64 186.41L294.74 182.31M290.46 184.28H294.56M292.51 182.23V186.33M290.46 182.23L294.56 186.33M290.46 186.33L294.56 182.23M290.27 184.21H294.37M292.32 182.16V186.26M290.27 182.16L294.37 186.26M290.27 186.26L294.37 182.16M290.08 184.13H294.18M292.13 182.08V186.18M290.08 182.08L294.18 186.18M290.08 186.18L294.18 182.08M289.89 184.06H293.99M291.94 182.01V186.11M289.89 182.01L293.99 186.11M289.89 186.11L293.99 182.01M289.69 183.98H293.79M291.74 181.93V186.03M289.69 181.93L293.79 186.03M289.69 186.03L293.79 181.93M289.50 183.91H293.60M291.55 181.86V185.96M289.50 181.86L293.60 185.96M289.50 185.96L293.60 181.86M289.30 183.83H293.40M291.35 181.78V185.88M289.30 181.78L293.40 185.88M289.30 185.88L293.40 181.78M289.11 183.76H293.21M291.16 181.71V185.81M289.11 181.71L293.21 185.81M289.11 185.81L293.21 181.71M288.91 183.69H293.01M290.96 181.64V185.74M288.91 181.64L293.01 185.74M288.91 185.74L293.01 181.64M288.70 183.61H292.80M290.75 181.56V185.66M288.70 181.56L292.80 185.66M288.70 185.66L292.80 181.56M288.50 183.54H292.60M290.55 181.49V185.59M288.50 181.49L292.60 185.59M288.50 185.59L292.60 181.49M288.30 183.47H292.40M290.35 181.42V185.52M288.30 181.42L292.40 185.52M288.30 185.52L292.40 181.42M288.09 183.39H292.19M290.14 181.34V185.44M288.09 181.34L292.19 185.44M288.09 185.44L292.19 181.34M287.88 183.32H291.98M289.93 181.27V185.37M287.88 181.27L291.98 185.37M287.88 185.37L291.98 181.27M287.68 183.25H291.78M289.73 181.20V185.30M287.68 181.20L291.78 185.30M287.68 185.30L291.78 181.20M287.46 183.18H291.56M289.51 181.13V185.23M287.46 181.13L291.56 185.23M287.46 185.23L291.56 181.13M287.25 183.11H291.35M289.30 181.06V185.16M287.25 181.06L291.35 185.16M287.25 185.16L291.35 181.06M287.04 183.04H291.14M289.09 180.99V185.09M287.04 180.99L291.14 185.09M287.04 185.09L291.14 180.99M286.82 182.97H290.92M288.87 180.92V185.02M286.82 180.92L290.92 185.02M286.82 185.02L290.92 180.92M286.60 182.90H290.70M288.65 180.85V184.95M286.60 180.85L290.70 184.95M286.60 184.95L290.70 180.85M286.38 182.83H290.48M288.43 180.78V184.88M286.38 180.78L290.48 184.88M286.38 184.88L290.48 180.78M286.15 182.76H290.25M288.20 180.71V184.81M286.15 180.71L290.25 184.81M286.15 184.81L290.25 180.71M285.93 182.69H290.03M287.98 180.64V184.74M285.93 180.64L290.03 184.74M285.93 184.74L290.03 180.64M285.70 182.62H289.80M287.75 180.57V184.67M285.70 180.57L289.80 184.67M285.70 184.67L289.80 180.57M285.47 182.55H289.57M287.52 180.50V184.60M285.47 180.50L289.57 184.60M285.47 184.60L289.57 180.50M285.24 182.48H289.34M287.29 180.43V184.53M285.24 180.43L289.34 184.53M285.24 184.53L289.34 180.43M285.01 182.41H289.11M287.06 180.36V184.46M285.01 180.36L289.11 184.46M285.01 184.46L289.11 180.36M284.77 182.34H288.87M286.82 180.29V184.39M284.77 180.29L288.87 184.39M284.77 184.39L288.87 180.29M284.53 182.28H288.63M286.58 180.23V184.33M284.53 180.23L288.63 184.33M284.53 184.33L288.63 180.23M284.29 182.21H288.39M286.34 180.16V184.26M284.29 180.16L288.39 184.26M284.29 184.26L288.39 180.16M284.04 182.14H288.14M286.09 180.09V184.19M284.04 180.09L288.14 184.19M284.04 184.19L288.14 180.09M283.79 182.07H287.89M285.84 180.02V184.12M283.79 180.02L287.89 184.12M283.79 184.12L287.89 180.02M283.54 182.01H287.64M285.59 179.96V184.06M283.54 179.96L287.64 184.06M283.54 184.06L287.64 179.96M283.29 181.94H287.39M285.34 179.89V183.99M283.29 179.89L287.39 183.99M283.29 183.99L287.39 179.89M283.03 181.88H287.13M285.08 179.83V183.93M283.03 179.83L287.13 183.93M283.03 183.93L287.13 179.83M282.77 181.81H286.87M284.82 179.76V183.86M282.77 179.76L286.87 183.86M282.77 183.86L286.87 179.76M282.51 181.74H286.61M284.56 179.69V183.79M282.51 179.69L286.61 183.79M282.51 183.79L286.61 179.69M282.24 181.68H286.34M284.29 179.63V183.73M282.24 179.63L286.34 183.73M282.24 183.73L286.34 179.63M281.97 181.61H286.07M284.02 179.56V183.66M281.97 179.56L286.07 183.66M281.97 183.66L286.07 179.56M281.70 181.55H285.80M283.75 179.50V183.60M281.70 179.50L285.80 183.60M281.70 183.60L285.80 179.50M281.43 181.48H285.53M283.48 179.43V183.53M281.43 179.43L285.53 183.53M281.43 183.53L285.53 179.43M281.15 181.42H285.25M283.20 179.37V183.47M281.15 179.37L285.25 183.47M281.15 183.47L285.25 179.37M280.87 181.36H284.97M282.92 179.31V183.41M280.87 179.31L284.97 183.41M280.87 183.41L284.97 179.31M280.58 181.29H284.68M282.63 179.24V183.34M280.58 179.24L284.68 183.34M280.58 183.34L284.68 179.24M280.29 181.23H284.39M282.34 179.18V183.28M280.29 179.18L284.39 183.28M280.29 183.28L284.39 179.18M280.00 181.16H284.10M282.05 179.11V183.21M280.00 179.11L284.10 183.21M280.00 183.21L284.10 179.11M279.70 181.10H283.80M281.75 179.05V183.15M279.70 179.05L283.80 183.15M279.70 183.15L283.80 179.05M279.39 181.04H283.49M281.44 178.99V183.09M279.39 178.99L283.49 183.09M279.39 183.09L283.49 178.99M279.09 180.98H283.19M281.14 178.93V183.03M279.09 178.93L283.19 183.03M279.09 183.03L283.19 178.93M278.77 180.91H282.87M280.82 178.86V182.96M278.77 178.86L282.87 182.96M278.77 182.96L282.87 178.86M278.46 180.85H282.56M280.51 178.80V182.90M278.46 178.80L282.56 182.90M278.46 182.90L282.56 178.80M278.14 180.79H282.24M280.19 178.74V182.84M278.14 178.74L282.24 182.84M278.14 182.84L282.24 178.74M277.81 180.73H281.91M279.86 178.68V182.78M277.81 178.68L281.91 182.78M277.81 182.78L281.91 178.68M277.48 180.66H281.58M279.53 178.61V182.71M277.48 178.61L281.58 182.71M277.48 182.71L281.58 178.61M277.14 180.60H281.24M279.19 178.55V182.65M277.14 178.55L281.24 182.65M277.14 182.65L281.24 178.55M276.80 180.54H280.90M278.85 178.49V182.59M276.80 178.49L280.90 182.59M276.80 182.59L280.90 178.49M276.45 180.48H280.55M278.50 178.43V182.53M276.45 178.43L280.55 182.53M276.45 182.53L280.55 178.43M276.10 180.42H280.20M278.15 178.37V182.47M276.10 178.37L280.20 182.47M276.10 182.47L280.20 178.37M275.73 180.36H279.83M277.78 178.31V182.41M275.73 178.31L279.83 182.41M275.73 182.41L279.83 178.31M275.37 180.30H279.47M277.42 178.25V182.35M275.37 178.25L279.47 182.35M275.37 182.35L279.47 178.25M274.99 180.24H279.09M277.04 178.19V182.29M274.99 178.19L279.09 182.29M274.99 182.29L279.09 178.19M274.61 180.18H278.71M276.66 178.13V182.23M274.61 178.13L278.71 182.23M274.61 182.23L278.71 178.13M274.22 180.12H278.32M276.27 178.07V182.17M274.22 178.07L278.32 182.17M274.22 182.17L278.32 178.07M273.82 180.06H277.92M275.87 178.01V182.11M273.82 178.01L277.92 182.11M273.82 182.11L277.92 178.01M273.42 180.00H277.52M275.47 177.95V182.05M273.42 177.95L277.52 182.05M273.42 182.05L277.52 177.95M273.01 179.94H277.11M275.06 177.89V181.99M273.01 177.89L277.11 181.99M273.01 181.99L277.11 177.89M272.58 179.88H276.68M274.63 177.83V181.93M272.58 177.83L276.68 181.93M272.58 181.93L276.68 177.83M272.15 179.82H276.25M274.20 177.77V181.87M272.15 177.77L276.25 181.87M272.15 181.87L276.25 177.77M271.71 179.77H275.81M273.76 177.72V181.82M271.71 177.72L275.81 181.82M271.71 181.82L275.81 177.72M271.26 179.71H275.36M273.31 177.66V181.76M271.26 177.66L275.36 181.76M271.26 181.76L275.36 177.66M270.80 179.65H274.90M272.85 177.60V181.70M270.80 177.60L274.90 181.70M270.80 181.70L274.90 177.60M270.33 179.59H274.43M272.38 177.54V181.64M270.33 177.54L274.43 181.64M270.33 181.64L274.43 177.54M269.85 179.53H273.95M271.90 177.48V181.58M269.85 177.48L273.95 181.58M269.85 181.58L273.95 177.48M269.35 179.48H273.45M271.40 177.43V181.53M269.35 177.43L273.45 181.53M269.35 181.53L273.45 177.43M268.83 179.42H272.93M270.88 177.37V181.47M268.83 177.37L272.93 181.47M268.83 181.47L272.93 177.37M268.31 179.36H272.41M270.36 177.31V181.41M268.31 177.31L272.41 181.41M268.31 181.41L272.41 177.31M267.77 179.31H271.87M269.82 177.26V181.36M267.77 177.26L271.87 181.36M267.77 181.36L271.87 177.26M267.21 179.25H271.31M269.26 177.20V181.30M267.21 177.20L271.31 181.30M267.21 181.30L271.31 177.20M266.64 179.19H270.74M268.69 177.14V181.24M266.64 177.14L270.74 181.24M266.64 181.24L270.74 177.14M266.05 179.14H270.15M268.10 177.09V181.19M266.05 177.09L270.15 181.19M266.05 181.19L270.15 177.09M265.45 179.08H269.55M267.50 177.03V181.13M265.45 177.03L269.55 181.13M265.45 181.13L269.55 177.03M264.82 179.02H268.92M266.87 176.97V181.07M264.82 176.97L268.92 181.07M264.82 181.07L268.92 176.97M264.17 178.97H268.27M266.22 176.92V181.02M264.17 176.92L268.27 181.02M264.17 181.02L268.27 176.92M263.50 178.91H267.60M265.55 176.86V180.96M263.50 176.86L267.60 180.96M263.50 180.96L267.60 176.86M262.80 178.86H266.90M264.85 176.81V180.91M262.80 176.81L266.90 180.91M262.80 180.91L266.90 176.81M262.07 178.80H266.17M264.12 176.75V180.85M262.07 176.75L266.17 180.85M262.07 180.85L266.17 176.75M261.31 178.75H265.41M263.36 176.70V180.80M261.31 176.70L265.41 180.80M261.31 180.80L265.41 176.70M260.52 178.69H264.62M262.57 176.64V180.74M260.52 176.64L264.62 180.74M260.52 180.74L264.62 176.64M259.70 178.64H263.80M261.75 176.59V180.69M259.70 176.59L263.80 180.69M259.70 180.69L263.80 176.59M258.84 178.58H262.94M260.89 176.53V180.63M258.84 176.53L262.94 180.63M258.84 180.63L262.94 176.53M257.95 178.53H262.05M260.00 176.48V180.58M257.95 176.48L262.05 180.58M257.95 180.58L262.05 176.48M256.99 178.47H261.09M259.04 176.42V180.52M256.99 176.42L261.09 180.52M256.99 180.52L261.09 176.42M256.00 178.42H260.10M258.05 176.37V180.47M256.00 176.37L260.10 180.47M256.00 180.47L260.10 176.37M254.93 178.37H259.03M256.98 176.32V180.42M254.93 176.32L259.03 180.42M254.93 180.42L259.03 176.32" stroke="#0000ff" stroke-width="0.68" fill="none"/>
<path d="M390.15 274.44H394.25V278.54H390.15ZM391.90 276.49h0.6M380.01 262.63H384.11V266.73H380.01ZM381.76 264.68h0.6M374.17 255.72H378.27V259.82H374.17ZM375.92 257.77h0.6M370.04 250.82H374.14V254.92H370.04ZM371.79 252.87h0.6M366.85 247.02H370.95V251.12H366.85ZM368.60 249.07h0.6M364.23 243.91H368.33V248.01H364.23ZM365.98 245.96h0.6M362.03 241.29H366.13V245.39H362.03ZM363.78 243.34h0.6M360.11 239.01H364.21V243.11H360.11ZM361.86 241.06h0.6M358.43 237.00H362.53V241.10H358.43ZM360.18 239.05h0.6M356.92 235.21H361.02V239.31H356.92ZM358.67 237.26h0.6M355.56 233.58H359.66V237.68H355.56ZM357.31 235.63h0.6M354.34 232.10H358.44V236.20H354.34ZM356.09 234.15h0.6M353.20 230.74H357.30V234.84H353.20ZM354.95 232.79h0.6M352.14 229.47H356.24V233.57H352.14ZM353.89 231.52h0.6M351.17 228.30H355.27V232.40H351.17ZM352.92 230.35h0.6M350.25 227.20H354.35V231.30H350.25ZM352.00 229.25h0.6M349.39 226.17H353.49V230.27H349.39ZM351.14 228.22h0.6M348.58 225.19H352.68V229.29H348.58ZM350.33 227.24h0.6M347.83 224.27H351.93V228.37H347.83ZM349.58 226.32h0.6M347.10 223.40H351.20V227.50H347.10ZM348.85 225.45h0.6M346.41 222.57H350.51V226.67H346.41ZM348.16 224.62h0.6M345.74 221.77H349.84V225.87H345.74ZM347.49 223.82h0.6M345.11 221.02H349.21V225.12H345.11ZM346.86 223.07h0.6M344.50 220.29H348.60V224.39H344.50ZM346.25 222.34h0.6M343.92 219.60H348.02V223.70H343.92ZM345.67 221.65h0.6M343.36 218.93H347.46V223.03H343.36ZM345.11 220.98h0.6M342.82 218.28H346.92V222.38H342.82ZM344.57 220.33h0.6M342.30 217.66H346.40V221.76H342.30ZM344.05 219.71h0.6M341.79 217.07H345.89V221.17H341.79ZM343.54 219.12h0.6M341.31 216.49H345.41V220.59H341.31ZM343.06 218.54h0.6M340.83 215.93H344.93V220.03H340.83ZM342.58 217.98h0.6M340.37 215.39H344.47V219.49H340.37ZM342.12 217.44h0.6M339.93 214.86H344.03V218.96H339.93ZM341.68 216.91h0.6M339.50 214.36H343.60V218.46H339.50ZM341.25 216.41h0.6M339.07 213.86H343.17V217.96H339.07ZM340.82 215.91h0.6M338.67 213.38H342.77V217.48H338.67ZM340.42 215.43h0.6M338.26 212.92H342.36V217.02H338.26ZM340.01 214.97h0.6M337.87 212.46H341.97V216.56H337.87ZM339.62 214.51h0.6M337.49 212.02H341.59V216.12H337.49ZM339.24 214.07h0.6M337.11 211.59H341.21V215.69H337.11ZM338.86 213.64h0.6M336.75 211.17H340.85V215.27H336.75ZM338.50 213.22h0.6M336.39 210.76H340.49V214.86H336.39ZM338.14 212.81h0.6M336.03 210.35H340.13V214.45H336.03ZM337.78 212.40h0.6M335.69 209.96H339.79V214.06H335.69ZM337.44 212.01h0.6M335.35 209.58H339.45V213.68H335.35ZM337.10 211.63h0.6M335.03 209.21H339.13V213.31H335.03ZM336.78 211.26h0.6M334.70 208.84H338.80V212.94H334.70ZM336.45 210.89h0.6M334.38 208.48H338.48V212.58H334.38ZM336.13 210.53h0.6M334.06 208.13H338.16V212.23H334.06ZM335.81 210.18h0.6M333.75 207.79H337.85V211.89H333.75ZM335.50 209.84h0.6M333.45 207.45H337.55V211.55H333.45ZM335.20 209.50h0.6M333.15 207.12H337.25V211.22H333.15ZM334.90 209.17h0.6M332.85 206.79H336.95V210.89H332.85ZM334.60 208.84h0.6M332.56 206.47H336.66V210.57H332.56ZM334.31 208.52h0.6M332.28 206.16H336.38V210.26H332.28ZM334.03 208.21h0.6M331.99 205.85H336.09V209.95H331.99ZM333.74 207.90h0.6M331.72 205.55H335.82V209.65H331.72ZM333.47 207.60h0.6M331.44 205.26H335.54V209.36H331.44ZM333.19 207.31h0.6M331.17 204.96H335.27V209.06H331.17ZM332.92 207.01h0.6M330.90 204.68H335.00V208.78H330.90ZM332.65 206.73h0.6M330.64 204.40H334.74V208.50H330.64ZM332.39 206.45h0.6M330.38 204.12H334.48V208.22H330.38ZM332.13 206.17h0.6M330.12 203.85H334.22V207.95H330.12ZM331.87 205.90h0.6M329.87 203.58H333.97V207.68H329.87ZM331.62 205.63h0.6M329.61 203.31H333.71V207.41H329.61ZM331.36 205.36h0.6M329.36 203.05H333.46V207.15H329.36ZM331.11 205.10h0.6M329.11 202.80H333.21V206.90H329.11ZM330.86 204.85h0.6M328.87 202.55H332.97V206.65H328.87ZM330.62 204.60h0.6M328.62 202.30H332.72V206.40H328.62ZM330.37 204.35h0.6M328.38 202.05H332.48V206.15H328.38ZM330.13 204.10h0.6M328.14 201.81H332.24V205.91H328.14ZM329.89 203.86h0.6M327.90 201.57H332.00V205.67H327.90ZM329.65 203.62h0.6M327.67 201.34H331.77V205.44H327.67ZM329.42 203.39h0.6M327.44 201.11H331.54V205.21H327.44ZM329.19 203.16h0.6M327.21 200.88H331.31V204.98H327.21ZM328.96 202.93h0.6M326.98 200.65H331.08V204.75H326.98ZM328.73 202.70h0.6M326.75 200.43H330.85V204.53H326.75ZM328.50 202.48h0.6M326.53 200.21H330.63V204.31H326.53ZM328.28 202.26h0.6M326.31 199.99H330.41V204.09H326.31ZM328.06 202.04h0.6M326.08 199.78H330.18V203.88H326.08ZM327.83 201.83h0.6M325.86 199.57H329.96V203.67H325.86ZM327.61 201.62h0.6M325.64 199.36H329.74V203.46H325.64ZM327.39 201.41h0.6M325.43 199.15H329.53V203.25H325.43ZM327.18 201.20h0.6M325.21 198.95H329.31V203.05H325.21ZM326.96 201.00h0.6M325.00 198.74H329.10V202.84H325.00ZM326.75 200.79h0.6M324.79 198.54H328.89V202.64H324.79ZM326.54 200.59h0.6M324.58 198.35H328.68V202.45H324.58ZM326.33 200.40h0.6M324.37 198.15H328.47V202.25H324.37ZM326.12 200.20h0.6M324.16 197.96H328.26V202.06H324.16ZM325.91 200.01h0.6M323.95 197.77H328.05V201.87H323.95ZM325.70 199.82h0.6M323.74 197.58H327.84V201.68H323.74ZM325.49 199.63h0.6M323.54 197.40H327.64V201.50H323.54ZM325.29 199.45h0.6M323.33 197.21H327.43V201.31H323.33ZM325.08 199.26h0.6M323.13 197.03H327.23V201.13H323.13ZM324.88 199.08h0.6M322.92 196.85H327.02V200.95H322.92ZM324.67 198.90h0.6M322.72 196.67H326.82V200.77H322.72ZM324.47 198.72h0.6M322.52 196.49H326.62V200.59H322.52ZM324.27 198.54h0.6M322.32 196.32H326.42V200.42H322.32ZM324.07 198.37h0.6M322.12 196.15H326.22V200.25H322.12ZM323.87 198.20h0.6M321.92 195.97H326.02V200.07H321.92ZM323.67 198.02h0.6M321.72 195.81H325.82V199.91H321.72ZM323.47 197.86h0.6M321.52 195.64H325.62V199.74H321.52ZM323.27 197.69h0.6M321.33 195.47H325.43V199.57H321.33ZM323.08 197.52h0.6M321.14 195.31H325.24V199.41H321.14ZM322.89 197.36h0.6M320.94 195.14H325.04V199.24H320.94ZM322.69 197.19h0.6M320.75 194.98H324.85V199.08H320.75ZM322.50 197.03h0.6M320.56 194.82H324.66V198.92H320.56ZM322.31 196.87h0.6M320.36 194.66H324.46V198.76H320.36ZM322.11 196.71h0.6M320.17 194.51H324.27V198.61H320.17ZM321.92 196.56h0.6M319.98 194.35H324.08V198.45H319.98ZM321.73 196.40h0.6M319.79 194.20H323.89V198.30H319.79ZM321.54 196.25h0.6M319.60 194.04H323.70V198.14H319.60ZM321.35 196.09h0.6M319.41 193.89H323.51V197.99H319.41ZM321.16 195.94h0.6M319.22 193.74H323.32V197.84H319.22ZM320.97 195.79h0.6M319.03 193.59H323.13V197.69H319.03ZM320.78 195.64h0.6M318.85 193.45H322.95V197.55H318.85ZM320.60 195.50h0.6M318.66 193.30H322.76V197.40H318.66ZM320.41 195.35h0.6M318.47 193.15H322.57V197.25H318.47ZM320.22 195.20h0.6M318.29 193.01H322.39V197.11H318.29ZM320.04 195.06h0.6M318.10 192.87H322.20V196.97H318.10ZM319.85 194.92h0.6M317.91 192.73H322.01V196.83H317.91ZM319.66 194.78h0.6M317.73 192.59H321.83V196.69H317.73ZM319.48 194.64h0.6M317.54 192.45H321.64V196.55H317.54ZM319.29 194.50h0.6M317.35 192.31H321.45V196.41H317.35ZM319.10 194.36h0.6M317.17 192.17H321.27V196.27H317.17ZM318.92 194.22h0.6M316.98 192.04H321.08V196.14H316.98ZM318.73 194.09h0.6M316.80 191.90H320.90V196.00H316.80ZM318.55 193.95h0.6M316.62 191.77H320.72V195.87H316.62ZM318.37 193.82h0.6M316.43 191.64H320.53V195.74H316.43ZM318.18 193.69h0.6M316.25 191.50H320.35V195.60H316.25ZM318.00 193.55h0.6M316.07 191.37H320.17V195.47H316.07ZM317.82 193.42h0.6M315.88 191.24H319.98V195.34H315.88ZM317.63 193.29h0.6M315.70 191.12H319.80V195.22H315.70ZM317.45 193.17h0.6M315.52 190.99H319.62V195.09H315.52ZM317.27 193.04h0.6M315.33 190.86H319.43V194.96H315.33ZM317.08 192.91h0.6M315.15 190.74H319.25V194.84H315.15ZM316.90 192.79h0.6M314.97 190.61H319.07V194.71H314.97ZM316.72 192.66h0.6M314.78 190.49H318.88V194.59H314.78ZM316.53 192.54h0.6M314.60 190.36H318.70V194.46H314.60ZM316.35 192.41h0.6M314.42 190.24H318.52V194.34H314.42ZM316.17 192.29h0.6M314.24 190.12H318.34V194.22H314.24ZM315.99 192.17h0.6M314.05 190.00H318.15V194.10H314.05ZM315.80 192.05h0.6M313.87 189.88H317.97V193.98H313.87ZM315.62 191.93h0.6M313.69 189.76H317.79V193.86H313.69ZM315.44 191.81h0.6M313.50 189.64H317.60V193.74H313.50ZM315.25 191.69h0.6M313.32 189.53H317.42V193.63H313.32ZM315.07 191.58h0.6M313.14 189.41H317.24V193.51H313.14ZM314.89 191.46h0.6M312.96 189.29H317.06V193.39H312.96ZM314.71 191.34h0.6M312.77 189.18H316.87V193.28H312.77ZM314.52 191.23h0.6M312.59 189.07H316.69V193.17H312.59ZM314.34 191.12h0.6M312.41 188.95H316.51V193.05H312.41ZM314.16 191.00h0.6M312.23 188.84H316.33V192.94H312.23ZM313.98 190.89h0.6M312.04 188.73H316.14V192.83H312.04ZM313.79 190.78h0.6M311.86 188.62H315.96V192.72H311.86ZM313.61 190.67h0.6M311.67 188.51H315.77V192.61H311.67ZM313.42 190.56h0.6M311.49 188.40H315.59V192.50H311.49ZM313.24 190.45h0.6M311.31 188.29H315.41V192.39H311.31ZM313.06 190.34h0.6M311.13 188.18H315.23V192.28H311.13ZM312.88 190.23h0.6M310.94 188.07H315.04V192.17H310.94ZM312.69 190.12h0.6M310.76 187.97H314.86V192.07H310.76ZM312.51 190.02h0.6M310.57 187.86H314.67V191.96H310.57ZM312.32 189.91h0.6M310.39 187.75H314.49V191.85H310.39ZM312.14 189.80h0.6M310.20 187.65H314.30V191.75H310.20ZM311.95 189.70h0.6M310.02 187.55H314.12V191.65H310.02ZM311.77 189.60h0.6M309.83 187.44H313.93V191.54H309.83ZM311.58 189.49h0.6M309.65 187.34H313.75V191.44H309.65ZM311.40 189.39h0.6M309.46 187.24H313.56V191.34H309.46ZM311.21 189.29h0.6M309.27 187.14H313.37V191.24H309.27ZM311.02 189.19h0.6M309.09 187.03H313.19V191.13H309.09ZM310.84 189.08h0.6M308.90 186.93H313.00V191.03H308.90ZM310.65 188.98h0.6M308.71 186.83H312.81V190.93H308.71ZM310.46 188.88h0.6M308.52 186.73H312.62V190.83H308.52ZM310.27 188.78h0.6M308.34 186.64H312.44V190.74H308.34ZM310.09 188.69h0.6M308.15 186.54H312.25V190.64H308.15ZM309.90 188.59h0.6M307.96 186.44H312.06V190.54H307.96ZM309.71 188.49h0.6M307.77 186.34H311.87V190.44H307.77ZM309.52 188.39h0.6M307.58 186.25H311.68V190.35H307.58ZM309.33 188.30h0.6M307.39 186.15H311.49V190.25H307.39ZM309.14 188.20h0.6M307.20 186.05H311.30V190.15H307.20ZM308.95 188.10h0.6M307.01 185.96H311.11V190.06H307.01ZM308.76 188.01h0.6M306.82 185.87H310.92V189.97H306.82ZM308.57 187.92h0.6M306.63 185.77H310.73V189.87H306.63ZM308.38 187.82h0.6M306.44 185.68H310.54V189.78H306.44ZM308.19 187.73h0.6M306.24 185.59H310.34V189.69H306.24ZM307.99 187.64h0.6M306.05 185.49H310.15V189.59H306.05ZM307.80 187.54h0.6M305.85 185.40H309.95V189.50H305.85ZM307.60 187.45h0.6M305.66 185.31H309.76V189.41H305.66ZM307.41 187.36h0.6M305.46 185.22H309.56V189.32H305.46ZM307.21 187.27h0.6M305.27 185.13H309.37V189.23H305.27ZM307.02 187.18h0.6M305.07 185.04H309.17V189.14H305.07ZM306.82 187.09h0.6M304.87 184.95H308.97V189.05H304.87ZM306.62 187.00h0.6M304.67 184.86H308.77V188.96H304.67ZM306.42 186.91h0.6M304.48 184.77H308.58V188.87H304.48ZM306.23 186.82h0.6M304.28 184.68H308.38V188.78H304.28ZM306.03 186.73h0.6M304.07 184.60H308.17V188.70H304.07ZM305.82 186.65h0.6M303.87 184.51H307.97V188.61H303.87ZM305.62 186.56h0.6M303.67 184.42H307.77V188.52H303.67ZM305.42 186.47h0.6M303.47 184.34H307.57V188.44H303.47ZM305.22 186.39h0.6M303.27 184.25H307.37V188.35H303.27ZM305.02 186.30h0.6M303.06 184.16H307.16V188.26H303.06ZM304.81 186.21h0.6M302.86 184.08H306.96V188.18H302.86ZM304.61 186.13h0.6M302.65 183.99H306.75V188.09H302.65ZM304.40 186.04h0.6M302.44 183.91H306.54V188.01H302.44ZM304.19 185.96h0.6M302.24 183.83H306.34V187.93H302.24ZM303.99 185.88h0.6M302.03 183.74H306.13V187.84H302.03ZM303.78 185.79h0.6M301.82 183.66H305.92V187.76H301.82ZM303.57 185.71h0.6M301.60 183.58H305.70V187.68H301.60ZM303.35 185.63h0.6M301.39 183.50H305.49V187.60H301.39ZM303.14 185.55h0.6M301.18 183.41H305.28V187.51H301.18ZM302.93 185.46h0.6M300.96 183.33H305.06V187.43H300.96ZM302.71 185.38h0.6M300.75 183.25H304.85V187.35H300.75ZM302.50 185.30h0.6M300.54 183.17H304.64V187.27H300.54ZM302.29 185.22h0.6M300.32 183.09H304.42V187.19H300.32ZM302.07 185.14h0.6M300.10 183.01H304.20V187.11H300.10ZM301.85 185.06h0.6M299.88 182.93H303.98V187.03H299.88ZM301.63 184.98h0.6M299.66 182.85H303.76V186.95H299.66ZM301.41 184.90h0.6M299.44 182.77H303.54V186.87H299.44ZM301.19 184.82h0.6M299.22 182.70H303.32V186.80H299.22ZM300.97 184.75h0.6M298.99 182.62H303.09V186.72H298.99ZM300.74 184.67h0.6M298.77 182.54H302.87V186.64H298.77ZM300.52 184.59h0.6M298.54 182.46H302.64V186.56H298.54ZM300.29 184.51h0.6M298.31 182.39H302.41V186.49H298.31ZM300.06 184.44h0.6M298.08 182.31H302.18V186.41H298.08ZM299.83 184.36h0.6M297.85 182.23H301.95V186.33H297.85ZM299.60 184.28h0.6M297.61 182.16H301.71V186.26H297.61ZM299.36 184.21h0.6M297.38 182.08H301.48V186.18H297.38ZM299.13 184.13h0.6M297.14 182.01H301.24V186.11H297.14ZM298.89 184.06h0.6M296.91 181.93H301.01V186.03H296.91ZM298.66 183.98h0.6M296.67 181.86H300.77V185.96H296.67ZM298.42 183.91h0.6M296.43 181.78H300.53V185.88H296.43ZM298.18 183.83h0.6M296.18 181.71H300.28V185.81H296.18ZM297.93 183.76h0.6M295.94 181.64H300.04V185.74H295.94ZM297.69 183.69h0.6M295.70 181.56H299.80V185.66H295.70ZM297.45 183.61h0.6M295.45 181.49H299.55V185.59H295.45ZM297.20 183.54h0.6M295.20 181.42H299.30V185.52H295.20ZM296.95 183.47h0.6M294.95 181.34H299.05V185.44H294.95ZM296.70 183.39h0.6M294.70 181.27H298.80V185.37H294.70ZM296.45 183.32h0.6M294.44 181.20H298.54V185.30H294.44ZM296.19 183.25h0.6M294.19 181.13H298.29V185.23H294.19ZM295.94 183.18h0.6M293.93 181.06H298.03V185.16H293.93ZM295.68 183.11h0.6M293.67 180.99H297.77V185.09H293.67ZM295.42 183.04h0.6M293.40 180.92H297.50V185.02H293.40ZM295.15 182.97h0.6M293.14 180.85H297.24V184.95H293.14ZM294.89 182.90h0.6M292.87 180.78H296.97V184.88H292.87ZM294.62 182.83h0.6M292.60 180.71H296.70V184.81H292.60ZM294.35 182.76h0.6M292.33 180.64H296.43V184.74H292.33ZM294.08 182.69h0.6M292.06 180.57H296.16V184.67H292.06ZM293.81 182.62h0.6M291.78 180.50H295.88V184.60H291.78ZM293.53 182.55h0.6M291.50 180.43H295.60V184.53H291.50ZM293.25 182.48h0.6M291.22 180.36H295.32V184.46H291.22ZM292.97 182.41h0.6M290.94 180.29H295.04V184.39H290.94ZM292.69 182.34h0.6M290.65 180.23H294.75V184.33H290.65ZM292.40 182.28h0.6M290.36 180.16H294.46V184.26H290.36ZM292.11 182.21h0.6M290.07 180.09H294.17V184.19H290.07ZM291.82 182.14h0.6M289.77 180.02H293.87V184.12H289.77ZM291.52 182.07h0.6M289.48 179.96H293.58V184.06H289.48ZM291.23 182.01h0.6M289.17 179.89H293.27V183.99H289.17ZM290.92 181.94h0.6M288.87 179.83H292.97V183.93H288.87ZM290.62 181.88h0.6M288.56 179.76H292.66V183.86H288.56ZM290.31 181.81h0.6M288.25 179.69H292.35V183.79H288.25ZM290.00 181.74h0.6M287.93 179.63H292.03V183.73H287.93ZM289.68 181.68h0.6M287.61 179.56H291.71V183.66H287.61ZM289.36 181.61h0.6M287.29 179.50H291.39V183.60H287.29ZM289.04 181.55h0.6M286.96 179.43H291.06V183.53H286.96ZM288.71 181.48h0.6M286.63 179.37H290.73V183.47H286.63ZM288.38 181.42h0.6M286.29 179.31H290.39V183.41H286.29ZM288.04 181.36h0.6M285.96 179.24H290.06V183.34H285.96ZM287.71 181.29h0.6M285.61 179.18H289.71V183.28H285.61ZM287.36 181.23h0.6M285.26 179.11H289.36V183.21H285.26ZM287.01 181.16h0.6M284.91 179.05H289.01V183.15H284.91ZM286.66 181.10h0.6M284.55 178.99H288.65V183.09H284.55ZM286.30 181.04h0.6M284.19 178.93H288.29V183.03H284.19ZM285.94 180.98h0.6M283.83 178.86H287.93V182.96H283.83ZM285.58 180.91h0.6M283.45 178.80H287.55V182.90H283.45ZM285.20 180.85h0.6M283.07 178.74H287.17V182.84H283.07ZM284.82 180.79h0.6M282.69 178.68H286.79V182.78H282.69ZM284.44 180.73h0.6M282.31 178.61H286.41V182.71H282.31ZM284.06 180.66h0.6M281.91 178.55H286.01V182.65H281.91ZM283.66 180.60h0.6M281.51 178.49H285.61V182.59H281.51ZM283.26 180.54h0.6M281.11 178.43H285.21V182.53H281.11ZM282.86 180.48h0.6M280.69 178.37H284.79V182.47H280.69ZM282.44 180.42h0.6M280.27 178.31H284.37V182.41H280.27ZM282.02 180.36h0.6M279.84 178.25H283.94V182.35H279.84ZM281.59 180.30h0.6M279.41 178.19H283.51V182.29H279.41ZM281.16 180.24h0.6M278.97 178.13H283.07V182.23H278.97ZM280.72 180.18h0.6M278.51 178.07H282.61V182.17H278.51ZM280.26 180.12h0.6M278.06 178.01H282.16V182.11H278.06ZM279.81 180.06h0.6M277.59 177.95H281.69V182.05H277.59ZM279.34 180.00h0.6M277.10 177.89H281.20V181.99H277.10ZM278.85 179.94h0.6M276.62 177.83H280.72V181.93H276.62ZM278.37 179.88h0.6M276.13 177.77H280.23V181.87H276.13ZM277.88 179.82h0.6M275.62 177.72H279.72V181.82H275.62ZM277.37 179.77h0.6M275.10 177.66H279.20V181.76H275.10ZM276.85 179.71h0.6M274.57 177.60H278.67V181.70H274.57ZM276.32 179.65h0.6M274.02 177.54H278.12V181.64H274.02ZM275.77 179.59h0.6M273.47 177.48H277.57V181.58H273.47ZM275.22 179.53h0.6M272.90 177.43H277.00V181.53H272.90ZM274.65 179.48h0.6M272.31 177.37H276.41V181.47H272.31ZM274.06 179.42h0.6M271.71 177.31H275.81V181.41H271.71ZM273.46 179.36h0.6M271.09 177.26H275.19V181.36H271.09ZM272.84 179.31h0.6M270.46 177.20H274.56V181.30H270.46ZM272.21 179.25h0.6M269.81 177.14H273.91V181.24H269.81ZM271.56 179.19h0.6M269.13 177.09H273.23V181.19H269.13ZM270.88 179.14h0.6M268.43 177.03H272.53V181.13H268.43ZM270.18 179.08h0.6M267.71 176.97H271.81V181.07H267.71ZM269.46 179.02h0.6M266.97 176.92H271.07V181.02H266.97ZM268.72 178.97h0.6M266.21 176.86H270.31V180.96H266.21ZM267.96 178.91h0.6M265.42 176.81H269.52V180.91H265.42ZM267.17 178.86h0.6M264.60 176.75H268.70V180.85H264.60ZM266.35 178.80h0.6M263.75 176.70H267.85V180.80H263.75ZM265.50 178.75h0.6M262.85 176.64H266.95V180.74H262.85ZM264.60 178.69h0.6M261.93 176.59H266.03V180.69H261.93ZM263.68 178.64h0.6M260.96 176.53H265.06V180.63H260.96ZM262.71 178.58h0.6M259.94 176.48H264.04V180.58H259.94ZM261.69 178.53h0.6M258.86 176.42H262.96V180.52H258.86ZM260.61 178.47h0.6M257.74 176.37H261.84V180.47H257.74ZM259.49 178.42h0.6M256.56 176.32H260.66V180.42H256.56ZM258.31 178.37h0.6M255.29 176.26H259.39V180.36H255.29ZM257.04 178.31h0.6" stroke="#ff00ff" stroke-width="0.46" fill="none"/>
<path d="M296.70 165.70L397.45 283.40" stroke="#000" stroke-width="0.95" fill="none"/>
<text x="256.30" y="298.79999999999995" text-anchor="middle">10<tspan dy="-5.6" font-size="8.9">-1</tspan></text>
<text x="296.60" y="298.79999999999995" text-anchor="middle">10<tspan dy="-5.6" font-size="8.9">0</tspan></text>
<text x="336.90" y="298.79999999999995" text-anchor="middle">10<tspan dy="-5.6" font-size="8.9">1</tspan></text>
<text x="377.20" y="298.79999999999995" text-anchor="middle">10<tspan dy="-5.6" font-size="8.9">2</tspan></text>
<text x="417.50" y="298.79999999999995" text-anchor="middle">10<tspan dy="-5.6" font-size="8.9">3</tspan></text>
<text x="250.2" y="288.00" text-anchor="end">10<tspan dy="-5.6" font-size="8.9">-3</tspan></text>
<text x="250.2" y="248.77" text-anchor="end">10<tspan dy="-5.6" font-size="8.9">-2</tspan></text>
<text x="250.2" y="209.53" text-anchor="end">10<tspan dy="-5.6" font-size="8.9">-1</tspan></text>
<text x="250.2" y="170.30" text-anchor="end">10<tspan dy="-5.6" font-size="8.9">0</tspan></text>
<text x="340.70" y="306.4" text-anchor="middle" font-size="12" stroke="#000" stroke-width="0.2">x</text>
<text transform="translate(221.90 228.20) rotate(-90)" text-anchor="start" font-size="11.4" stroke="#000" stroke-width="0.15">1-CDF(x,15)</text>
</svg>
</body></html>
